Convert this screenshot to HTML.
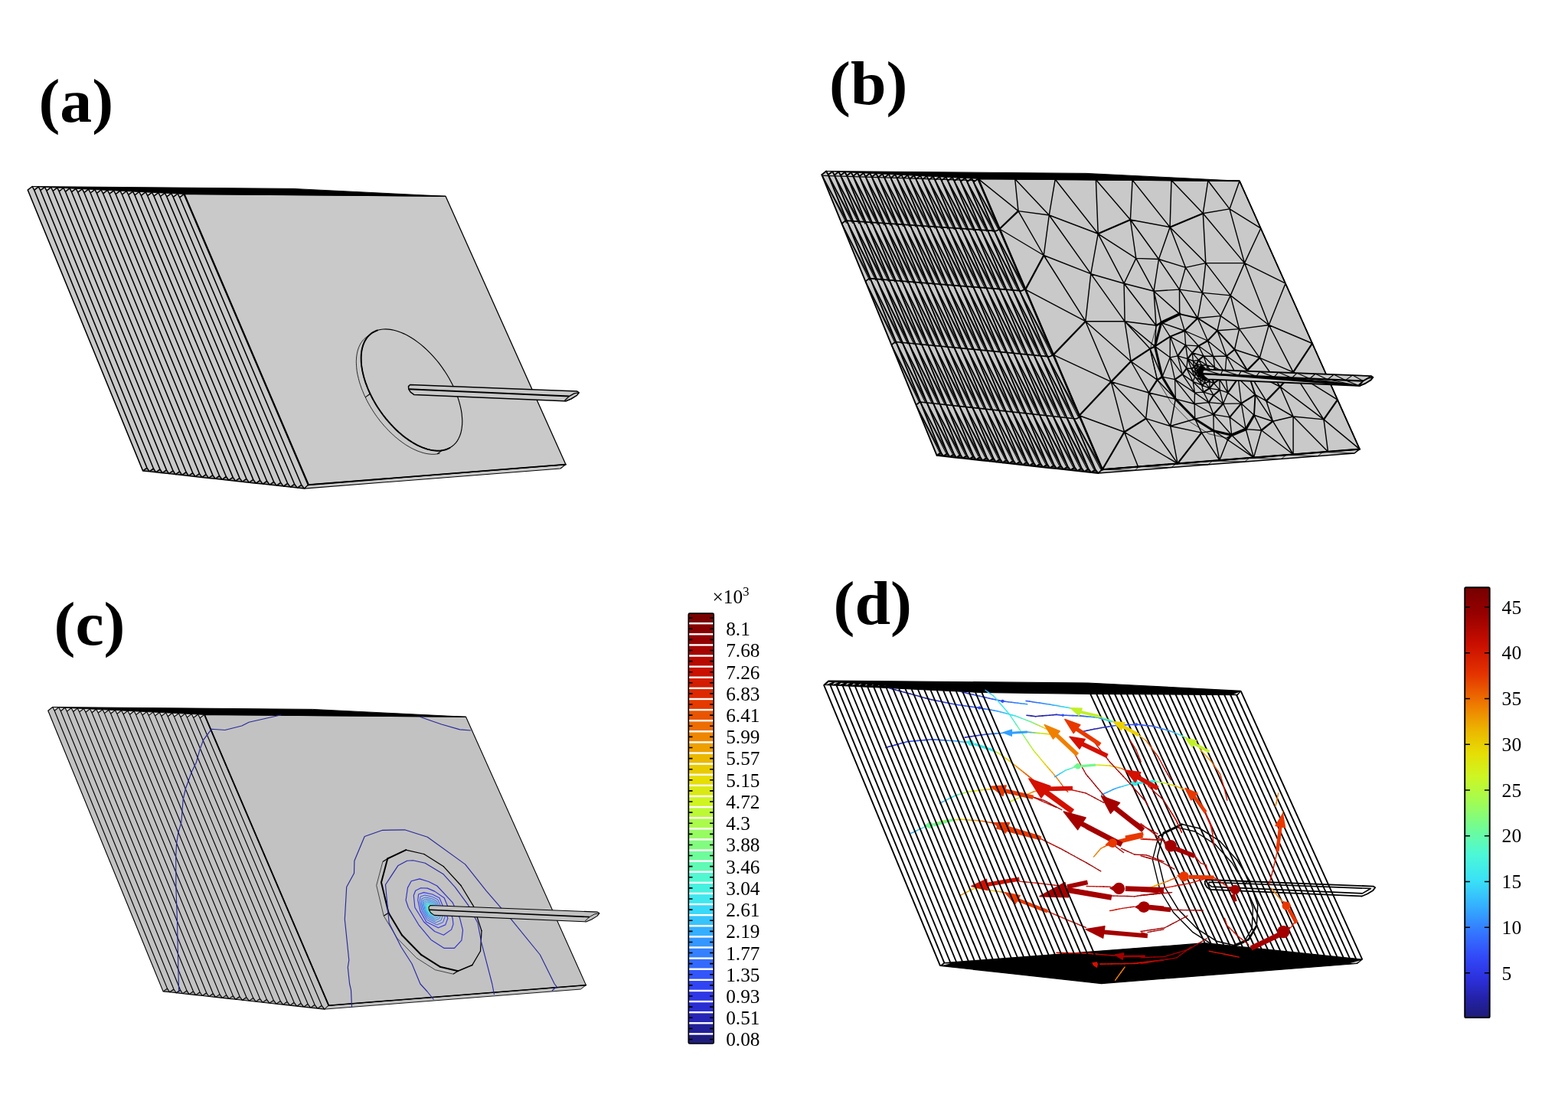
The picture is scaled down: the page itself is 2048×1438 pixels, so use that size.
<!DOCTYPE html>
<html lang="en"><head><meta charset="utf-8"><title>Figure</title>
<style>
html,body{margin:0;padding:0;background:#fff;}
body{width:2048px;height:1438px;overflow:hidden;}
svg{display:block;}
text{fill:#000;}
</style></head><body>
<svg width="2048" height="1438" viewBox="0 0 2048 1438">
<rect width="2048" height="1438" fill="#fff"/>
<g id="pa">
<polygon points="36.3,248.2 42.2,243.5 240.5,253.4 402.8,633.2 397.4,638.1 388.3,637.1 379.2,636.1 370.2,635.1 361.2,634.1 352.2,633.1 343.2,632.1 334.3,631.2 325.4,630.2 316.5,629.2 307.6,628.2 298.8,627.2 290.0,626.3 281.2,625.3 272.5,624.4 263.8,623.4 255.1,622.4 246.4,621.5 237.8,620.5 229.2,619.6 220.6,618.6 212.1,617.7 203.6,616.8 195.1,615.8 186.6,614.9" fill="#c9c9c9"/>
<polygon points="42.2,243.5 44.7,248.3 50.3,243.9" fill="#dcdcdc"/>
<polygon points="50.3,243.9 52.8,248.7 58.4,244.3" fill="#dcdcdc"/>
<polygon points="58.4,244.3 60.9,249.1 66.6,244.7" fill="#dcdcdc"/>
<polygon points="66.6,244.7 69.1,249.5 74.7,245.1" fill="#dcdcdc"/>
<polygon points="74.7,245.1 77.2,249.9 82.9,245.5" fill="#dcdcdc"/>
<polygon points="82.9,245.5 85.4,250.3 91.0,245.9" fill="#dcdcdc"/>
<polygon points="91.0,245.9 93.5,250.7 99.2,246.3" fill="#dcdcdc"/>
<polygon points="99.2,246.3 101.7,251.1 107.4,246.8" fill="#dcdcdc"/>
<polygon points="107.4,246.8 109.9,251.6 115.6,247.2" fill="#dcdcdc"/>
<polygon points="115.6,247.2 118.1,252.0 123.9,247.6" fill="#dcdcdc"/>
<polygon points="123.9,247.6 126.4,252.4 132.1,248.0" fill="#dcdcdc"/>
<polygon points="132.1,248.0 134.6,252.8 140.4,248.4" fill="#dcdcdc"/>
<polygon points="140.4,248.4 142.9,253.2 148.6,248.8" fill="#dcdcdc"/>
<polygon points="148.6,248.8 151.1,253.6 156.9,249.2" fill="#dcdcdc"/>
<polygon points="156.9,249.2 159.4,254.0 165.2,249.6" fill="#dcdcdc"/>
<polygon points="165.2,249.6 167.7,254.4 173.5,250.1" fill="#dcdcdc"/>
<polygon points="173.5,250.1 176.0,254.9 181.8,250.5" fill="#dcdcdc"/>
<polygon points="181.8,250.5 184.3,255.3 190.2,250.9" fill="#dcdcdc"/>
<polygon points="190.2,250.9 192.7,255.7 198.5,251.3" fill="#dcdcdc"/>
<polygon points="198.5,251.3 201.0,256.1 206.9,251.7" fill="#dcdcdc"/>
<polygon points="206.9,251.7 209.4,256.5 215.3,252.1" fill="#dcdcdc"/>
<polygon points="215.3,252.1 217.8,256.9 223.7,252.6" fill="#dcdcdc"/>
<polygon points="223.7,252.6 226.2,257.4 232.1,253.0" fill="#dcdcdc"/>
<polygon points="232.1,253.0 234.6,257.8 240.5,253.4" fill="#dcdcdc"/>
<polygon points="186.6,614.9 192.0,611.1 195.1,615.8" fill="#9a9a9a"/>
<polygon points="195.1,615.8 200.5,612.0 203.6,616.8" fill="#9a9a9a"/>
<polygon points="203.6,616.8 209.0,613.0 212.1,617.7" fill="#9a9a9a"/>
<polygon points="212.1,617.7 217.5,613.9 220.6,618.6" fill="#9a9a9a"/>
<polygon points="220.6,618.6 226.0,614.8 229.2,619.6" fill="#9a9a9a"/>
<polygon points="229.2,619.6 234.6,615.8 237.8,620.5" fill="#9a9a9a"/>
<polygon points="237.8,620.5 243.2,616.7 246.4,621.5" fill="#9a9a9a"/>
<polygon points="246.4,621.5 251.8,617.7 255.1,622.4" fill="#9a9a9a"/>
<polygon points="255.1,622.4 260.5,618.6 263.8,623.4" fill="#9a9a9a"/>
<polygon points="263.8,623.4 269.2,619.6 272.5,624.4" fill="#9a9a9a"/>
<polygon points="272.5,624.4 277.9,620.6 281.2,625.3" fill="#9a9a9a"/>
<polygon points="281.2,625.3 286.6,621.5 290.0,626.3" fill="#9a9a9a"/>
<polygon points="290.0,626.3 295.4,622.5 298.8,627.2" fill="#9a9a9a"/>
<polygon points="298.8,627.2 304.2,623.4 307.6,628.2" fill="#9a9a9a"/>
<polygon points="307.6,628.2 313.0,624.4 316.5,629.2" fill="#9a9a9a"/>
<polygon points="316.5,629.2 321.9,625.4 325.4,630.2" fill="#9a9a9a"/>
<polygon points="325.4,630.2 330.8,626.4 334.3,631.2" fill="#9a9a9a"/>
<polygon points="334.3,631.2 339.7,627.4 343.2,632.1" fill="#9a9a9a"/>
<polygon points="343.2,632.1 348.6,628.3 352.2,633.1" fill="#9a9a9a"/>
<polygon points="352.2,633.1 357.6,629.3 361.2,634.1" fill="#9a9a9a"/>
<polygon points="361.2,634.1 366.6,630.3 370.2,635.1" fill="#9a9a9a"/>
<polygon points="370.2,635.1 375.6,631.3 379.2,636.1" fill="#9a9a9a"/>
<polygon points="379.2,636.1 384.6,632.3 388.3,637.1" fill="#9a9a9a"/>
<polygon points="388.3,637.1 393.7,633.3 397.4,638.1" fill="#9a9a9a"/>
<path d="M36.3,248.2 L186.6,614.9 M36.3,248.2 L42.2,243.5 M186.6,614.9 L192.0,611.1 M186.6,614.9 L195.1,615.8 M42.2,243.5 L44.7,248.3 L192.0,611.1 L195.1,615.8 M44.7,248.3 L50.3,243.9 M195.1,615.8 L200.5,612.0 M195.1,615.8 L203.6,616.8 M50.3,243.9 L52.8,248.7 L200.5,612.0 L203.6,616.8 M52.8,248.7 L58.4,244.3 M203.6,616.8 L209.0,613.0 M203.6,616.8 L212.1,617.7 M58.4,244.3 L60.9,249.1 L209.0,613.0 L212.1,617.7 M60.9,249.1 L66.6,244.7 M212.1,617.7 L217.5,613.9 M212.1,617.7 L220.6,618.6 M66.6,244.7 L69.1,249.5 L217.5,613.9 L220.6,618.6 M69.1,249.5 L74.7,245.1 M220.6,618.6 L226.0,614.8 M220.6,618.6 L229.2,619.6 M74.7,245.1 L77.2,249.9 L226.0,614.8 L229.2,619.6 M77.2,249.9 L82.9,245.5 M229.2,619.6 L234.6,615.8 M229.2,619.6 L237.8,620.5 M82.9,245.5 L85.4,250.3 L234.6,615.8 L237.8,620.5 M85.4,250.3 L91.0,245.9 M237.8,620.5 L243.2,616.7 M237.8,620.5 L246.4,621.5 M91.0,245.9 L93.5,250.7 L243.2,616.7 L246.4,621.5 M93.5,250.7 L99.2,246.3 M246.4,621.5 L251.8,617.7 M246.4,621.5 L255.1,622.4 M99.2,246.3 L101.7,251.1 L251.8,617.7 L255.1,622.4 M101.7,251.1 L107.4,246.8 M255.1,622.4 L260.5,618.6 M255.1,622.4 L263.8,623.4 M107.4,246.8 L109.9,251.6 L260.5,618.6 L263.8,623.4 M109.9,251.6 L115.6,247.2 M263.8,623.4 L269.2,619.6 M263.8,623.4 L272.5,624.4 M115.6,247.2 L118.1,252.0 L269.2,619.6 L272.5,624.4 M118.1,252.0 L123.9,247.6 M272.5,624.4 L277.9,620.6 M272.5,624.4 L281.2,625.3 M123.9,247.6 L126.4,252.4 L277.9,620.6 L281.2,625.3 M126.4,252.4 L132.1,248.0 M281.2,625.3 L286.6,621.5 M281.2,625.3 L290.0,626.3 M132.1,248.0 L134.6,252.8 L286.6,621.5 L290.0,626.3 M134.6,252.8 L140.4,248.4 M290.0,626.3 L295.4,622.5 M290.0,626.3 L298.8,627.2 M140.4,248.4 L142.9,253.2 L295.4,622.5 L298.8,627.2 M142.9,253.2 L148.6,248.8 M298.8,627.2 L304.2,623.4 M298.8,627.2 L307.6,628.2 M148.6,248.8 L151.1,253.6 L304.2,623.4 L307.6,628.2 M151.1,253.6 L156.9,249.2 M307.6,628.2 L313.0,624.4 M307.6,628.2 L316.5,629.2 M156.9,249.2 L159.4,254.0 L313.0,624.4 L316.5,629.2 M159.4,254.0 L165.2,249.6 M316.5,629.2 L321.9,625.4 M316.5,629.2 L325.4,630.2 M165.2,249.6 L167.7,254.4 L321.9,625.4 L325.4,630.2 M167.7,254.4 L173.5,250.1 M325.4,630.2 L330.8,626.4 M325.4,630.2 L334.3,631.2 M173.5,250.1 L176.0,254.9 L330.8,626.4 L334.3,631.2 M176.0,254.9 L181.8,250.5 M334.3,631.2 L339.7,627.4 M334.3,631.2 L343.2,632.1 M181.8,250.5 L184.3,255.3 L339.7,627.4 L343.2,632.1 M184.3,255.3 L190.2,250.9 M343.2,632.1 L348.6,628.3 M343.2,632.1 L352.2,633.1 M190.2,250.9 L192.7,255.7 L348.6,628.3 L352.2,633.1 M192.7,255.7 L198.5,251.3 M352.2,633.1 L357.6,629.3 M352.2,633.1 L361.2,634.1 M198.5,251.3 L201.0,256.1 L357.6,629.3 L361.2,634.1 M201.0,256.1 L206.9,251.7 M361.2,634.1 L366.6,630.3 M361.2,634.1 L370.2,635.1 M206.9,251.7 L209.4,256.5 L366.6,630.3 L370.2,635.1 M209.4,256.5 L215.3,252.1 M370.2,635.1 L375.6,631.3 M370.2,635.1 L379.2,636.1 M215.3,252.1 L217.8,256.9 L375.6,631.3 L379.2,636.1 M217.8,256.9 L223.7,252.6 M379.2,636.1 L384.6,632.3 M379.2,636.1 L388.3,637.1 M223.7,252.6 L226.2,257.4 L384.6,632.3 L388.3,637.1 M226.2,257.4 L232.1,253.0 M388.3,637.1 L393.7,633.3 M388.3,637.1 L397.4,638.1 M232.1,253.0 L234.6,257.8 L393.7,633.3 L397.4,638.1 M234.6,257.8 L240.5,253.4 M397.4,638.1 L402.8,633.2" fill="none" stroke="#000" stroke-width="1.55" stroke-linecap="round" stroke-linejoin="round"/>
<polygon points="402.8,633.2 738.9,606.6 732.0,612.0 397.4,638.1" fill="#c9c9c9" stroke="#000" stroke-width="1.10" stroke-linejoin="round"/>
<polygon points="240.5,253.4 582.0,256.3 738.9,606.6 402.8,633.2" fill="#c9c9c9" stroke="#000" stroke-width="1.30" stroke-linejoin="round"/>
<path d="M240.5,253.4 L402.8,633.2" stroke="#000" stroke-width="2.30" stroke-linecap="round"/>
<path d="M402.8,633.2 L738.9,606.6" stroke="#000" stroke-width="1.90" stroke-linecap="round"/>
<polygon points="42.2,243.5 382.0,246.4 582.0,256.3 240.5,253.4" fill="#000" stroke="#000" stroke-width="0.9" stroke-linejoin="round"/>
<path d="M574.6,592.2 L572.9,592.6 L571.2,592.9 L569.4,593.1 L567.5,593.3 L565.7,593.3 L563.7,593.3 L561.8,593.1 L559.8,592.9 L557.8,592.6 L555.7,592.2 L553.6,591.7 L551.5,591.1 L549.4,590.4 L547.3,589.7 L545.1,588.9 L542.9,587.9 L540.7,586.9 L538.5,585.8 L536.3,584.7 L534.1,583.4 L531.9,582.1 L529.6,580.7 L527.4,579.2 L525.2,577.6 L523.0,576.0 L520.8,574.3 L518.6,572.5 L516.4,570.7 L514.3,568.8 L512.2,566.9 L510.0,564.8 L507.9,562.8 L505.9,560.6 L503.9,558.4 L501.8,556.2 L499.9,553.9 L497.9,551.6 L496.0,549.2 L494.2,546.8 L492.4,544.4 L490.6,541.9 L488.9,539.4 L487.2,536.8 L485.6,534.2 L484.0,531.7 L482.5,529.0 L481.0,526.4 L479.6,523.8 L478.3,521.1 L477.0,518.4 L475.7,515.8 L474.6,513.1 L473.5,510.4 L472.4,507.8 L471.5,505.1 L470.6,502.5 L469.7,499.8 L469.0,497.2 L468.3,494.6 L467.7,492.0 L467.1,489.5 L466.6,487.0 L466.2,484.5 L465.9,482.0 L465.7,479.6 L465.5,477.2 L465.4,474.8 L465.3,472.5 L465.4,470.3 L465.5,468.1 L465.7,465.9 L466.0,463.8 L466.3,461.8 L466.7,459.8 L467.2,457.9 L467.8,456.0 L468.4,454.2 L469.1,452.5 L469.9,450.8 L470.7,449.2 L471.6,447.7 L472.6,446.3 L473.7,444.9 L474.8,443.6 L476.0,442.4 L477.2,441.3 L478.5,440.3 L479.9,439.3 L481.3,438.4 L482.7,437.7 L484.3,436.9 L485.9,436.3 L487.5,435.8 L489.2,435.4 L490.9,435.0 L492.7,434.8" fill="none" stroke="#000" stroke-width="0.8"/>
<path d="M594.4,509.8 L596.5,515.0 L598.3,520.2 L599.9,525.3 L601.2,530.3 L602.3,535.3 L603.1,540.1 L603.5,544.9 L603.8,549.4 L603.7,553.8 L603.3,558.0 L602.7,562.0 L601.8,565.8 L600.6,569.3 L599.1,572.6 L597.4,575.6 L595.4,578.3 L593.2,580.7 L590.7,582.8 L588.0,584.6 L585.1,586.1 L582.0,587.3 L578.7,588.1 L575.2,588.6 L571.6,588.7 L567.8,588.5 L563.9,588.0 L559.9,587.1 L555.8,585.9 L551.6,584.3 L547.3,582.5 L543.0,580.3 L538.7,577.8 L534.4,575.0 L530.1,572.0 L525.8,568.7 L521.6,565.1 L517.4,561.3 L513.4,557.2 L509.4,553.0 L505.5,548.6 L501.8,544.0 L498.3,539.2 L494.9,534.3 L491.7,529.4 L488.7,524.3 L485.9,519.2 L483.3,514.0 L481.0,508.8 L478.9,503.6 L477.1,498.4 L475.5,493.3 L474.2,488.3 L473.1,483.3 L472.3,478.5 L471.9,473.7 L471.6,469.2 L471.7,464.8 L472.1,460.6 L472.7,456.6 L473.6,452.8 L474.8,449.3 L476.3,446.0 L478.0,443.0 L480.0,440.3 L482.2,437.9 L484.7,435.8 L487.4,434.0 L490.3,432.5 L493.4,431.3 L496.7,430.5 L500.2,430.0 L503.8,429.9 L507.6,430.1 L511.5,430.6 L515.5,431.5 L519.6,432.7 L523.8,434.3 L528.1,436.1 L532.4,438.3 L536.7,440.8 L541.0,443.6 L545.3,446.6 L549.6,449.9 L553.8,453.5 L558.0,457.3 L562.0,461.4 L566.0,465.6 L569.9,470.0 L573.6,474.6 L577.1,479.4 L580.5,484.3 L583.7,489.2 L586.7,494.3 L589.5,499.4 L592.1,504.6 Z" fill="#c9c9c9" stroke="#000" stroke-width="1.15"/>
<path d="M587.5,585.0 L586.0,585.7 L584.4,586.4 L582.8,587.0 L581.1,587.5 L579.4,587.9 L577.7,588.3 L575.9,588.5 L574.0,588.6 L572.2,588.7 L570.2,588.7 L568.3,588.5 L566.3,588.3 L564.2,588.0 L562.2,587.6 L560.1,587.1 L558.0,586.6 L555.8,585.9 L553.7,585.1 L551.5,584.3 L549.3,583.4 L547.1,582.4 L544.9,581.3 L542.7,580.1 L540.4,578.8 L538.2,577.5 L536.0,576.1 L533.7,574.6 L531.5,573.0 L529.3,571.4 L527.1,569.7 L524.9,567.9 L522.7,566.1 L520.5,564.2 L518.4,562.2 L516.3,560.2 L514.2,558.1 L512.1,555.9 L510.0,553.7 L508.0,551.5 L506.1,549.2 L504.1,546.8 L502.2,544.4 L500.3,542.0 L498.5,539.5 L496.7,537.0 L495.0,534.5 L493.3,532.0 L491.7,529.4 L490.1,526.8 L488.6,524.1 L487.1,521.5 L485.7,518.8 L484.4,516.2 L483.1,513.5 L481.9,510.8 L480.7,508.1 L479.6,505.4 L478.6,502.7 L477.6,500.1 L476.7,497.4 L475.9,494.8 L475.1,492.1 L474.5,489.5 L473.9,486.9 L473.3,484.4 L472.9,481.8 L472.5,479.3 L472.1,476.9 L471.9,474.4 L471.7,472.0 L471.7,469.7 L471.6,467.4 L471.7,465.1 L471.8,462.9 L472.1,460.8 L472.3,458.7 L472.7,456.6 L473.1,454.7 L473.7,452.7 L474.2,450.9 L474.9,449.1 L475.6,447.4 L476.4,445.7 L477.3,444.2 L478.2,442.7 L479.2,441.2 L480.3,439.9 L481.4,438.6 L482.7,437.5 L483.9,436.4 L485.2,435.3 L486.6,434.4 L488.1,433.6 L489.6,432.8 L491.1,432.1 L492.8,431.5" fill="none" stroke="#000" stroke-width="1.9" stroke-linecap="round"/>
<path d="M483.5,514.3 L477.2,518.9" stroke="#000" stroke-width="1.1"/>
<path d="M577.3,588.3 L571.0,592.9" stroke="#000" stroke-width="1.1"/>
<polygon points="535.7,502.5 753.8,511.1 756.3,512.8 753.5,516.4 746.0,521.0 738.8,524.0 736.7,523.8 540.6,515.4 536.2,512.2 533.8,508.4 533.5,504.6" fill="#c9c9c9" stroke="#000" stroke-width="1.50" stroke-linejoin="round"/>
<path d="M534.3,508.3 L743.4,517.6" stroke="#000" stroke-width="2.00" fill="none"/>
<polyline points="737.5,523.2 743.4,517.6 750.0,513.9 755.6,512.9" stroke="#000" stroke-width="1.30" fill="none" stroke-linejoin="round"/>
</g>
<g id="pb">
<polygon points="1073.3,228.2 1079.2,223.5 1277.5,233.4 1439.8,613.2 1434.4,618.1 1425.3,617.1 1416.2,616.1 1407.2,615.1 1398.2,614.1 1389.2,613.1 1380.2,612.1 1371.3,611.2 1362.4,610.2 1353.5,609.2 1344.6,608.2 1335.8,607.2 1327.0,606.3 1318.2,605.3 1309.5,604.4 1300.8,603.4 1292.1,602.4 1283.4,601.5 1274.8,600.5 1266.2,599.6 1257.6,598.6 1249.1,597.7 1240.6,596.8 1232.1,595.8 1223.6,594.9" fill="#c9c9c9"/>
<polygon points="1079.2,223.5 1081.7,228.3 1087.3,223.9" fill="#dcdcdc"/>
<polygon points="1087.3,223.9 1089.8,228.7 1095.4,224.3" fill="#dcdcdc"/>
<polygon points="1095.4,224.3 1097.9,229.1 1103.6,224.7" fill="#dcdcdc"/>
<polygon points="1103.6,224.7 1106.1,229.5 1111.7,225.1" fill="#dcdcdc"/>
<polygon points="1111.7,225.1 1114.2,229.9 1119.9,225.5" fill="#dcdcdc"/>
<polygon points="1119.9,225.5 1122.4,230.3 1128.0,225.9" fill="#dcdcdc"/>
<polygon points="1128.0,225.9 1130.5,230.7 1136.2,226.3" fill="#dcdcdc"/>
<polygon points="1136.2,226.3 1138.7,231.1 1144.4,226.8" fill="#dcdcdc"/>
<polygon points="1144.4,226.8 1146.9,231.6 1152.6,227.2" fill="#dcdcdc"/>
<polygon points="1152.6,227.2 1155.1,232.0 1160.9,227.6" fill="#dcdcdc"/>
<polygon points="1160.9,227.6 1163.4,232.4 1169.1,228.0" fill="#dcdcdc"/>
<polygon points="1169.1,228.0 1171.6,232.8 1177.4,228.4" fill="#dcdcdc"/>
<polygon points="1177.4,228.4 1179.9,233.2 1185.6,228.8" fill="#dcdcdc"/>
<polygon points="1185.6,228.8 1188.1,233.6 1193.9,229.2" fill="#dcdcdc"/>
<polygon points="1193.9,229.2 1196.4,234.0 1202.2,229.6" fill="#dcdcdc"/>
<polygon points="1202.2,229.6 1204.7,234.4 1210.5,230.1" fill="#dcdcdc"/>
<polygon points="1210.5,230.1 1213.0,234.9 1218.8,230.5" fill="#dcdcdc"/>
<polygon points="1218.8,230.5 1221.3,235.3 1227.2,230.9" fill="#dcdcdc"/>
<polygon points="1227.2,230.9 1229.7,235.7 1235.5,231.3" fill="#dcdcdc"/>
<polygon points="1235.5,231.3 1238.0,236.1 1243.9,231.7" fill="#dcdcdc"/>
<polygon points="1243.9,231.7 1246.4,236.5 1252.3,232.1" fill="#dcdcdc"/>
<polygon points="1252.3,232.1 1254.8,236.9 1260.7,232.6" fill="#dcdcdc"/>
<polygon points="1260.7,232.6 1263.2,237.4 1269.1,233.0" fill="#dcdcdc"/>
<polygon points="1269.1,233.0 1271.6,237.8 1277.5,233.4" fill="#dcdcdc"/>
<polygon points="1223.6,594.9 1229.0,591.1 1232.1,595.8" fill="#3a3a3a"/>
<polygon points="1232.1,595.8 1237.5,592.0 1240.6,596.8" fill="#3a3a3a"/>
<polygon points="1240.6,596.8 1246.0,593.0 1249.1,597.7" fill="#3a3a3a"/>
<polygon points="1249.1,597.7 1254.5,593.9 1257.6,598.6" fill="#3a3a3a"/>
<polygon points="1257.6,598.6 1263.0,594.8 1266.2,599.6" fill="#3a3a3a"/>
<polygon points="1266.2,599.6 1271.6,595.8 1274.8,600.5" fill="#3a3a3a"/>
<polygon points="1274.8,600.5 1280.2,596.7 1283.4,601.5" fill="#3a3a3a"/>
<polygon points="1283.4,601.5 1288.8,597.7 1292.1,602.4" fill="#3a3a3a"/>
<polygon points="1292.1,602.4 1297.5,598.6 1300.8,603.4" fill="#3a3a3a"/>
<polygon points="1300.8,603.4 1306.2,599.6 1309.5,604.4" fill="#3a3a3a"/>
<polygon points="1309.5,604.4 1314.9,600.6 1318.2,605.3" fill="#3a3a3a"/>
<polygon points="1318.2,605.3 1323.6,601.5 1327.0,606.3" fill="#3a3a3a"/>
<polygon points="1327.0,606.3 1332.4,602.5 1335.8,607.2" fill="#3a3a3a"/>
<polygon points="1335.8,607.2 1341.2,603.4 1344.6,608.2" fill="#3a3a3a"/>
<polygon points="1344.6,608.2 1350.0,604.4 1353.5,609.2" fill="#3a3a3a"/>
<polygon points="1353.5,609.2 1358.9,605.4 1362.4,610.2" fill="#3a3a3a"/>
<polygon points="1362.4,610.2 1367.8,606.4 1371.3,611.2" fill="#3a3a3a"/>
<polygon points="1371.3,611.2 1376.7,607.4 1380.2,612.1" fill="#3a3a3a"/>
<polygon points="1380.2,612.1 1385.6,608.3 1389.2,613.1" fill="#3a3a3a"/>
<polygon points="1389.2,613.1 1394.6,609.3 1398.2,614.1" fill="#3a3a3a"/>
<polygon points="1398.2,614.1 1403.6,610.3 1407.2,615.1" fill="#3a3a3a"/>
<polygon points="1407.2,615.1 1412.6,611.3 1416.2,616.1" fill="#3a3a3a"/>
<polygon points="1416.2,616.1 1421.6,612.3 1425.3,617.1" fill="#3a3a3a"/>
<polygon points="1425.3,617.1 1430.7,613.3 1434.4,618.1" fill="#3a3a3a"/>
<path d="M1073.3,228.2 L1223.6,594.9 M1073.3,228.2 L1079.2,223.5 M1223.6,594.9 L1229.0,591.1 M1223.6,594.9 L1232.1,595.8 M1079.2,223.5 L1081.7,228.3 L1229.0,591.1 L1232.1,595.8 M1081.7,228.3 L1087.3,223.9 M1232.1,595.8 L1237.5,592.0 M1232.1,595.8 L1240.6,596.8 M1087.3,223.9 L1089.8,228.7 L1237.5,592.0 L1240.6,596.8 M1089.8,228.7 L1095.4,224.3 M1240.6,596.8 L1246.0,593.0 M1240.6,596.8 L1249.1,597.7 M1095.4,224.3 L1097.9,229.1 L1246.0,593.0 L1249.1,597.7 M1097.9,229.1 L1103.6,224.7 M1249.1,597.7 L1254.5,593.9 M1249.1,597.7 L1257.6,598.6 M1103.6,224.7 L1106.1,229.5 L1254.5,593.9 L1257.6,598.6 M1106.1,229.5 L1111.7,225.1 M1257.6,598.6 L1263.0,594.8 M1257.6,598.6 L1266.2,599.6 M1111.7,225.1 L1114.2,229.9 L1263.0,594.8 L1266.2,599.6 M1114.2,229.9 L1119.9,225.5 M1266.2,599.6 L1271.6,595.8 M1266.2,599.6 L1274.8,600.5 M1119.9,225.5 L1122.4,230.3 L1271.6,595.8 L1274.8,600.5 M1122.4,230.3 L1128.0,225.9 M1274.8,600.5 L1280.2,596.7 M1274.8,600.5 L1283.4,601.5 M1128.0,225.9 L1130.5,230.7 L1280.2,596.7 L1283.4,601.5 M1130.5,230.7 L1136.2,226.3 M1283.4,601.5 L1288.8,597.7 M1283.4,601.5 L1292.1,602.4 M1136.2,226.3 L1138.7,231.1 L1288.8,597.7 L1292.1,602.4 M1138.7,231.1 L1144.4,226.8 M1292.1,602.4 L1297.5,598.6 M1292.1,602.4 L1300.8,603.4 M1144.4,226.8 L1146.9,231.6 L1297.5,598.6 L1300.8,603.4 M1146.9,231.6 L1152.6,227.2 M1300.8,603.4 L1306.2,599.6 M1300.8,603.4 L1309.5,604.4 M1152.6,227.2 L1155.1,232.0 L1306.2,599.6 L1309.5,604.4 M1155.1,232.0 L1160.9,227.6 M1309.5,604.4 L1314.9,600.6 M1309.5,604.4 L1318.2,605.3 M1160.9,227.6 L1163.4,232.4 L1314.9,600.6 L1318.2,605.3 M1163.4,232.4 L1169.1,228.0 M1318.2,605.3 L1323.6,601.5 M1318.2,605.3 L1327.0,606.3 M1169.1,228.0 L1171.6,232.8 L1323.6,601.5 L1327.0,606.3 M1171.6,232.8 L1177.4,228.4 M1327.0,606.3 L1332.4,602.5 M1327.0,606.3 L1335.8,607.2 M1177.4,228.4 L1179.9,233.2 L1332.4,602.5 L1335.8,607.2 M1179.9,233.2 L1185.6,228.8 M1335.8,607.2 L1341.2,603.4 M1335.8,607.2 L1344.6,608.2 M1185.6,228.8 L1188.1,233.6 L1341.2,603.4 L1344.6,608.2 M1188.1,233.6 L1193.9,229.2 M1344.6,608.2 L1350.0,604.4 M1344.6,608.2 L1353.5,609.2 M1193.9,229.2 L1196.4,234.0 L1350.0,604.4 L1353.5,609.2 M1196.4,234.0 L1202.2,229.6 M1353.5,609.2 L1358.9,605.4 M1353.5,609.2 L1362.4,610.2 M1202.2,229.6 L1204.7,234.4 L1358.9,605.4 L1362.4,610.2 M1204.7,234.4 L1210.5,230.1 M1362.4,610.2 L1367.8,606.4 M1362.4,610.2 L1371.3,611.2 M1210.5,230.1 L1213.0,234.9 L1367.8,606.4 L1371.3,611.2 M1213.0,234.9 L1218.8,230.5 M1371.3,611.2 L1376.7,607.4 M1371.3,611.2 L1380.2,612.1 M1218.8,230.5 L1221.3,235.3 L1376.7,607.4 L1380.2,612.1 M1221.3,235.3 L1227.2,230.9 M1380.2,612.1 L1385.6,608.3 M1380.2,612.1 L1389.2,613.1 M1227.2,230.9 L1229.7,235.7 L1385.6,608.3 L1389.2,613.1 M1229.7,235.7 L1235.5,231.3 M1389.2,613.1 L1394.6,609.3 M1389.2,613.1 L1398.2,614.1 M1235.5,231.3 L1238.0,236.1 L1394.6,609.3 L1398.2,614.1 M1238.0,236.1 L1243.9,231.7 M1398.2,614.1 L1403.6,610.3 M1398.2,614.1 L1407.2,615.1 M1243.9,231.7 L1246.4,236.5 L1403.6,610.3 L1407.2,615.1 M1246.4,236.5 L1252.3,232.1 M1407.2,615.1 L1412.6,611.3 M1407.2,615.1 L1416.2,616.1 M1252.3,232.1 L1254.8,236.9 L1412.6,611.3 L1416.2,616.1 M1254.8,236.9 L1260.7,232.6 M1416.2,616.1 L1421.6,612.3 M1416.2,616.1 L1425.3,617.1 M1260.7,232.6 L1263.2,237.4 L1421.6,612.3 L1425.3,617.1 M1263.2,237.4 L1269.1,233.0 M1425.3,617.1 L1430.7,613.3 M1425.3,617.1 L1434.4,618.1 M1269.1,233.0 L1271.6,237.8 L1430.7,613.3 L1434.4,618.1 M1271.6,237.8 L1277.5,233.4 M1434.4,618.1 L1439.8,613.2" fill="none" stroke="#000" stroke-width="1.90" stroke-linecap="round" stroke-linejoin="round"/>
<path d="M1073.3,228.2 L1107.3,291.4 M1099.5,292.0 L1137.7,366.2 M1130.4,367.5 L1171.0,448.2 M1164.4,450.4 L1202.5,525.8 M1196.5,528.9 L1229.0,591.1 M1081.7,228.3 L1115.5,291.9 M1107.3,291.4 L1145.9,366.8 M1137.7,366.2 L1179.3,448.9 M1171.0,448.2 L1210.9,526.6 M1202.5,525.8 L1237.5,592.0 M1089.8,228.7 L1123.7,292.4 M1115.5,291.9 L1154.2,367.4 M1145.9,366.8 L1187.6,449.6 M1179.3,448.9 L1219.3,527.5 M1210.9,526.6 L1246.0,593.0 M1097.9,229.1 L1131.9,292.9 M1123.7,292.4 L1162.5,368.0 M1154.2,367.4 L1196.0,450.3 M1187.6,449.6 L1227.8,528.3 M1219.3,527.5 L1254.5,593.9 M1106.1,229.5 L1140.1,293.4 M1131.9,292.9 L1170.8,368.6 M1162.5,368.0 L1204.4,451.1 M1196.0,450.3 L1236.2,529.2 M1227.8,528.3 L1263.0,594.8 M1114.2,229.9 L1148.3,293.9 M1140.1,293.4 L1179.1,369.2 M1170.8,368.6 L1212.8,451.8 M1204.4,451.1 L1244.7,530.0 M1236.2,529.2 L1271.6,595.8 M1122.4,230.3 L1156.6,294.4 M1148.3,293.9 L1187.4,369.8 M1179.1,369.2 L1221.2,452.5 M1212.8,451.8 L1253.3,530.9 M1244.7,530.0 L1280.2,596.7 M1130.5,230.7 L1164.8,294.9 M1156.6,294.4 L1195.8,370.4 M1187.4,369.8 L1229.7,453.3 M1221.2,452.5 L1261.8,531.7 M1253.3,530.9 L1288.8,597.7 M1138.7,231.1 L1173.1,295.4 M1164.8,294.9 L1204.1,371.0 M1195.8,370.4 L1238.2,454.0 M1229.7,453.3 L1270.4,532.6 M1261.8,531.7 L1297.5,598.6 M1146.9,231.6 L1181.4,295.9 M1173.1,295.4 L1212.5,371.7 M1204.1,371.0 L1246.7,454.7 M1238.2,454.0 L1279.0,533.4 M1270.4,532.6 L1306.2,599.6 M1155.1,232.0 L1189.7,296.4 M1181.4,295.9 L1220.9,372.3 M1212.5,371.7 L1255.2,455.5 M1246.7,454.7 L1287.6,534.3 M1279.0,533.4 L1314.9,600.6 M1163.4,232.4 L1198.1,296.9 M1189.7,296.4 L1229.4,372.9 M1220.9,372.3 L1263.7,456.2 M1255.2,455.5 L1296.3,535.1 M1287.6,534.3 L1323.6,601.5 M1171.6,232.8 L1206.4,297.5 M1198.1,296.9 L1237.8,373.5 M1229.4,372.9 L1272.3,457.0 M1263.7,456.2 L1304.9,536.0 M1296.3,535.1 L1332.4,602.5 M1179.9,233.2 L1214.8,298.0 M1206.4,297.5 L1246.3,374.2 M1237.8,373.5 L1280.9,457.7 M1272.3,457.0 L1313.6,536.9 M1304.9,536.0 L1341.2,603.4 M1188.1,233.6 L1223.1,298.5 M1214.8,298.0 L1254.8,374.8 M1246.3,374.2 L1289.5,458.5 M1280.9,457.7 L1322.4,537.7 M1313.6,536.9 L1350.0,604.4 M1196.4,234.0 L1231.5,299.0 M1223.1,298.5 L1263.3,375.4 M1254.8,374.8 L1298.1,459.2 M1289.5,458.5 L1331.1,538.6 M1322.4,537.7 L1358.9,605.4 M1204.7,234.4 L1239.9,299.5 M1231.5,299.0 L1271.8,376.0 M1263.3,375.4 L1306.8,460.0 M1298.1,459.2 L1339.9,539.5 M1331.1,538.6 L1367.8,606.4 M1213.0,234.9 L1248.4,300.0 M1239.9,299.5 L1280.4,376.7 M1271.8,376.0 L1315.5,460.8 M1306.8,460.0 L1348.7,540.4 M1339.9,539.5 L1376.7,607.4 M1221.3,235.3 L1256.8,300.5 M1248.4,300.0 L1288.9,377.3 M1280.4,376.7 L1324.2,461.5 M1315.5,460.8 L1357.5,541.3 M1348.7,540.4 L1385.6,608.3 M1229.7,235.7 L1265.3,301.0 M1256.8,300.5 L1297.5,377.9 M1288.9,377.3 L1332.9,462.3 M1324.2,461.5 L1366.4,542.1 M1357.5,541.3 L1394.6,609.3 M1238.0,236.1 L1273.7,301.6 M1265.3,301.0 L1306.1,378.6 M1297.5,377.9 L1341.6,463.0 M1332.9,462.3 L1375.3,543.0 M1366.4,542.1 L1403.6,610.3 M1246.4,236.5 L1282.2,302.1 M1273.7,301.6 L1314.7,379.2 M1306.1,378.6 L1350.4,463.8 M1341.6,463.0 L1384.2,543.9 M1375.3,543.0 L1412.6,611.3 M1254.8,236.9 L1290.7,302.6 M1282.2,302.1 L1323.4,379.8 M1314.7,379.2 L1359.2,464.6 M1350.4,463.8 L1393.1,544.8 M1384.2,543.9 L1421.6,612.3 M1263.2,237.4 L1299.3,303.1 M1290.7,302.6 L1332.0,380.5 M1323.4,379.8 L1368.0,465.3 M1359.2,464.6 L1402.1,545.7 M1393.1,544.8 L1430.7,613.3 M1271.6,237.8 L1305.7,299.5 M1299.3,303.1 L1339.2,377.7 M1332.0,380.5 L1375.9,463.6 M1368.0,465.3 L1410.6,544.8 M1402.1,545.7 L1439.8,613.2" fill="none" stroke="#000" stroke-width="1.35"/>
<path d="M1073.3,228.2 L1105.6,291.6 M1099.5,292.0 L1136.1,366.5 M1130.4,367.5 L1169.5,448.7 M1164.4,450.4 L1201.2,526.5 M1196.5,528.9 L1227.8,591.9 M1081.7,228.3 L1113.7,291.8 M1107.3,291.4 L1144.1,366.6 M1137.7,366.2 L1177.5,448.7 M1171.0,448.2 L1209.0,526.4 M1202.5,525.8 L1235.6,591.8 M1089.8,228.7 L1121.9,292.3 M1115.5,291.9 L1152.4,367.2 M1145.9,366.8 L1185.8,449.4 M1179.3,448.9 L1217.5,527.3 M1210.9,526.6 L1244.1,592.8 M1097.9,229.1 L1130.1,292.8 M1123.7,292.4 L1160.6,367.8 M1154.2,367.4 L1194.2,450.2 M1187.6,449.6 L1225.9,528.1 M1219.3,527.5 L1252.6,593.7 M1106.1,229.5 L1138.3,293.3 M1131.9,292.9 L1168.9,368.5 M1162.5,368.0 L1202.5,450.9 M1196.0,450.3 L1234.4,529.0 M1227.8,528.3 L1261.1,594.6 M1114.2,229.9 L1146.5,293.8 M1140.1,293.4 L1177.2,369.1 M1170.8,368.6 L1210.9,451.6 M1204.4,451.1 L1242.9,529.8 M1236.2,529.2 L1269.7,595.6 M1122.4,230.3 L1154.8,294.3 M1148.3,293.9 L1185.6,369.7 M1179.1,369.2 L1219.4,452.4 M1212.8,451.8 L1251.4,530.7 M1244.7,530.0 L1278.3,596.5 M1130.5,230.7 L1163.0,294.8 M1156.6,294.4 L1193.9,370.3 M1187.4,369.8 L1227.8,453.1 M1221.2,452.5 L1259.9,531.5 M1253.3,530.9 L1286.9,597.5 M1138.7,231.1 L1171.3,295.3 M1164.8,294.9 L1202.3,370.9 M1195.8,370.4 L1236.3,453.8 M1229.7,453.3 L1268.5,532.4 M1261.8,531.7 L1295.6,598.4 M1146.9,231.6 L1179.6,295.8 M1173.1,295.4 L1210.7,371.5 M1204.1,371.0 L1244.8,454.6 M1238.2,454.0 L1277.1,533.2 M1270.4,532.6 L1304.3,599.4 M1155.1,232.0 L1187.9,296.3 M1181.4,295.9 L1219.1,372.1 M1212.5,371.7 L1253.3,455.3 M1246.7,454.7 L1285.7,534.1 M1279.0,533.4 L1313.0,600.3 M1163.4,232.4 L1196.2,296.8 M1189.7,296.4 L1227.5,372.8 M1220.9,372.3 L1261.9,456.1 M1255.2,455.5 L1294.4,535.0 M1287.6,534.3 L1321.7,601.3 M1171.6,232.8 L1204.6,297.3 M1198.1,296.9 L1236.0,373.4 M1229.4,372.9 L1270.4,456.8 M1263.7,456.2 L1303.0,535.8 M1296.3,535.1 L1330.5,602.3 M1179.9,233.2 L1212.9,297.9 M1206.4,297.5 L1244.4,374.0 M1237.8,373.5 L1279.0,457.6 M1272.3,457.0 L1311.7,536.7 M1304.9,536.0 L1339.3,603.2 M1188.1,233.6 L1221.3,298.4 M1214.8,298.0 L1252.9,374.6 M1246.3,374.2 L1287.6,458.3 M1280.9,457.7 L1320.5,537.6 M1313.6,536.9 L1348.1,604.2 M1196.4,234.0 L1229.7,298.9 M1223.1,298.5 L1261.4,375.3 M1254.8,374.8 L1296.2,459.1 M1289.5,458.5 L1329.2,538.4 M1322.4,537.7 L1356.9,605.2 M1204.7,234.4 L1238.1,299.4 M1231.5,299.0 L1269.9,375.9 M1263.3,375.4 L1304.9,459.8 M1298.1,459.2 L1338.0,539.3 M1331.1,538.6 L1365.8,606.2 M1213.0,234.9 L1246.5,299.9 M1239.9,299.5 L1278.5,376.5 M1271.8,376.0 L1313.6,460.6 M1306.8,460.0 L1346.8,540.2 M1339.9,539.5 L1374.7,607.1 M1221.3,235.3 L1255.0,300.4 M1248.4,300.0 L1287.0,377.2 M1280.4,376.7 L1322.3,461.3 M1315.5,460.8 L1355.6,541.1 M1348.7,540.4 L1383.6,608.1 M1229.7,235.7 L1263.4,300.9 M1256.8,300.5 L1295.6,377.8 M1288.9,377.3 L1331.0,462.1 M1324.2,461.5 L1364.4,541.9 M1357.5,541.3 L1392.6,609.1 M1238.0,236.1 L1271.9,301.4 M1265.3,301.0 L1304.2,378.4 M1297.5,377.9 L1339.7,462.9 M1332.9,462.3 L1373.3,542.8 M1366.4,542.1 L1401.6,610.1 M1246.4,236.5 L1280.4,302.0 M1273.7,301.6 L1312.8,379.1 M1306.1,378.6 L1348.5,463.6 M1341.6,463.0 L1382.2,543.7 M1375.3,543.0 L1410.6,611.1 M1254.8,236.9 L1288.9,302.5 M1282.2,302.1 L1321.5,379.7 M1314.7,379.2 L1357.3,464.4 M1350.4,463.8 L1391.1,544.6 M1384.2,543.9 L1419.6,612.1 M1263.2,237.4 L1297.4,303.0 M1290.7,302.6 L1330.1,380.3 M1323.4,379.8 L1366.1,465.2 M1359.2,464.6 L1400.1,545.5 M1393.1,544.8 L1428.7,613.1 M1271.6,237.8 L1304.3,300.3 M1299.3,303.1 L1337.6,378.3 M1332.0,380.5 L1374.1,464.0 M1368.0,465.3 L1408.7,545.0 M1402.1,545.7 L1437.8,613.2" fill="none" stroke="#000" stroke-width="1.1"/>
<path d="M1099.5,292.0 L1104.5,288.1 L1300.7,301.7 L1305.7,299.5 M1130.4,367.5 L1135.4,363.6 L1334.2,379.9 L1339.2,377.7 M1164.4,450.4 L1169.4,446.5 L1370.9,465.8 L1375.9,463.6 M1196.5,528.9 L1201.5,525.0 L1405.6,547.0 L1410.6,544.8" fill="none" stroke="#000" stroke-width="1.7" stroke-linejoin="round"/>
<path d="M1074.8,229.4 L1273.0,235.6" stroke="#000" stroke-width="1.3"/>
<polygon points="1439.8,613.2 1775.9,586.6 1769.0,592.0 1434.4,618.1" fill="#c9c9c9" stroke="#000" stroke-width="1.50" stroke-linejoin="round"/>
<polygon points="1277.5,233.4 1619.0,236.3 1775.9,586.6 1439.8,613.2" fill="#c9c9c9" stroke="#000" stroke-width="1.70" stroke-linejoin="round"/>
<path d="M1277.5,233.4 L1439.8,613.2" stroke="#000" stroke-width="2.60" stroke-linecap="round"/>
<path d="M1439.8,613.2 L1775.9,586.6" stroke="#000" stroke-width="2.10" stroke-linecap="round"/>
<path d="M1528.7,556.5 L1569.4,565.1 M1662.5,550.2 L1639.5,515.7 M1370.3,281.0 L1424.8,357.7 M1607.2,385.9 L1657.3,424.5 M1469.1,419.8 L1510.0,425.0 M1511.5,496.2 L1535.4,521.2 M1538.1,605.4 L1528.7,556.5 M1439.8,613.2 L1409.7,542.7 M1530.0,235.5 L1577.8,236.0 M1468.1,370.2 L1469.1,419.8 M1540.5,378.1 L1570.5,382.4 M1477.1,472.0 L1511.5,496.2 M1625.5,343.6 L1607.2,385.9 M1540.5,378.1 L1564.3,415.5 M1476.4,287.0 L1513.5,338.5 M1637.5,597.6 L1647.6,562.0 M1734.5,589.9 L1689.1,544.0 M1570.5,382.4 L1607.2,385.9 M1486.5,609.5 L1538.1,605.4 M1434.2,305.3 L1424.8,357.7 M1483.8,337.4 L1468.1,370.2 M1689.1,544.0 L1729.0,547.9 M1528.7,556.5 L1560.8,547.2 M1507.0,380.2 L1516.7,421.5 M1479.1,235.1 L1528.1,296.7 M1646.7,298.2 L1679.0,370.2 M1672.0,505.0 L1629.0,483.6 M1594.4,412.6 L1564.3,415.5 M1569.4,565.1 L1560.8,547.2 M1679.0,370.2 L1714.0,448.5 M1734.5,589.9 L1729.0,547.9 M1618.6,429.6 L1657.3,424.5 M1637.5,597.6 L1608.7,568.2 M1647.6,562.0 L1638.0,542.3 M1469.1,419.8 L1477.1,472.0 M1468.1,370.2 L1507.0,380.2 M1571.3,278.7 L1574.8,343.6 M1325.7,233.8 L1370.3,281.0 M1657.3,424.5 L1645.3,467.3 M1574.8,343.6 L1570.5,382.4 M1714.0,448.5 L1747.0,522.1 M1305.5,299.0 L1363.3,333.5 M1375.8,463.4 L1409.7,542.7 M1431.4,234.7 L1476.4,287.0 M1653.9,523.6 L1662.5,550.2 M1689.1,593.5 L1734.5,589.9 M1510.0,425.0 L1508.5,452.4 M1653.9,523.6 L1629.0,483.6 M1679.0,370.2 L1657.3,424.5 M1378.2,234.3 L1370.3,281.0 M1502.1,455.6 L1518.0,492.2 M1646.7,298.2 L1625.5,343.6 M1619.0,236.3 L1606.0,272.9 M1592.9,601.1 L1603.5,574.5 M1689.1,593.5 L1662.5,550.2 M1689.1,486.1 L1729.0,547.9 M1607.2,385.9 L1618.6,429.6 M1370.3,281.0 L1363.3,333.5 M1538.1,605.4 L1496.7,546.6 M1618.6,429.6 L1612.5,456.5 M1451.3,498.6 L1500.6,513.0 M1594.4,412.6 L1618.6,429.6 M1477.1,472.0 L1500.6,513.0 M1646.7,298.2 L1606.0,272.9 M1500.6,513.0 L1535.4,521.2 M1538.1,605.4 L1592.9,601.1 M1513.5,338.5 L1507.0,380.2 M1619.0,236.3 L1646.7,298.2 M1476.4,287.0 L1483.8,337.4 M1530.0,235.5 L1571.3,278.7 M1330.0,275.6 L1370.3,281.0 M1662.5,550.2 L1638.0,542.3 M1689.1,593.5 L1647.6,562.0 M1339.3,378.1 L1417.8,419.7 M1592.9,601.1 L1585.2,562.7 M1747.0,522.1 L1689.1,486.1 M1592.9,601.1 L1637.5,597.6 M1451.3,498.6 L1496.7,546.6 M1538.1,605.4 L1468.5,564.3 M1468.1,370.2 L1510.0,425.0 M1528.1,296.7 L1513.5,338.5 M1577.8,236.0 L1606.0,272.9 M1370.3,281.0 L1434.2,305.3 M1424.8,357.7 L1417.8,419.7 M1570.5,382.4 L1594.4,412.6 M1451.3,498.6 L1468.5,564.3 M1637.5,597.6 L1689.1,593.5 M1500.6,513.0 L1528.7,556.5 M1363.3,333.5 L1424.8,357.7 M1325.7,233.8 L1330.0,275.6 M1619.0,236.3 L1577.8,236.0 M1775.9,586.6 L1729.0,547.9 M1476.4,287.0 L1528.1,296.7 M1603.5,574.5 L1585.2,562.7 M1496.7,546.6 L1528.7,556.5 M1775.9,586.6 L1747.0,522.1 M1528.1,296.7 L1574.8,343.6 M1625.5,343.6 L1657.3,424.5 M1618.6,429.6 L1645.3,467.3 M1431.4,234.7 L1434.2,305.3 M1653.9,523.6 L1689.1,544.0 M1378.2,234.3 L1431.4,234.7 M1548.5,349.4 L1570.5,382.4 M1434.2,305.3 L1468.1,370.2 M1439.8,613.2 L1486.5,609.5 M1571.3,278.7 L1625.5,343.6 M1277.5,233.4 L1325.7,233.8 M1469.1,419.8 L1508.5,452.4 M1574.8,343.6 L1607.2,385.9 M1375.8,463.4 L1451.3,498.6 M1540.5,378.1 L1540.7,410.1 M1689.1,593.5 L1689.1,544.0 M1424.8,357.7 L1468.1,370.2 M1502.1,455.6 L1511.5,496.2 M1571.3,278.7 L1606.0,272.9 M1645.3,467.3 L1672.0,505.0 M1479.1,235.1 L1476.4,287.0 M1689.1,544.0 L1662.5,550.2 M1653.9,523.6 L1639.5,515.7 M1570.5,382.4 L1564.3,415.5 M1714.0,448.5 L1657.3,424.5 M1530.0,235.5 L1528.1,296.7 M1277.5,233.4 L1330.0,275.6 M1569.4,565.1 L1585.2,562.7 M1592.9,601.1 L1569.4,565.1 M1606.0,272.9 L1625.5,343.6 M1637.5,597.6 L1603.5,574.5 M1645.3,467.3 L1689.1,486.1 M1637.5,597.6 L1627.2,560.6 M1483.8,337.4 L1507.0,380.2 M1548.5,349.4 L1574.8,343.6 M1434.2,305.3 L1483.8,337.4 M1417.8,419.7 L1477.1,472.0 M1528.7,556.5 L1535.4,521.2 M1507.0,380.2 L1510.0,425.0 M1486.5,609.5 L1468.5,564.3 M1513.5,338.5 L1540.5,378.1 M1574.8,343.6 L1625.5,343.6 M1594.4,412.6 L1590.0,431.8 M1577.8,236.0 L1571.3,278.7 M1775.9,586.6 L1734.5,589.9 M1325.7,233.8 L1378.2,234.3 M1647.6,562.0 L1627.2,560.6 M1500.6,513.0 L1496.7,546.6 M1417.8,419.7 L1451.3,498.6 M1469.1,419.8 L1502.1,455.6 M1689.1,544.0 L1672.0,505.0 M1645.3,467.3 L1612.5,456.5 M1409.7,542.7 L1468.5,564.3 M1305.5,299.0 L1339.3,378.1 M1277.5,233.4 L1305.5,299.0 M1363.3,333.5 L1417.8,419.7 M1657.3,424.5 L1689.1,486.1 M1528.1,296.7 L1548.5,349.4 M1729.0,547.9 L1672.0,505.0 M1431.4,234.7 L1479.1,235.1 M1483.8,337.4 L1513.5,338.5 M1330.0,275.6 L1363.3,333.5 M1424.8,357.7 L1469.1,419.8 M1417.8,419.7 L1469.1,419.8 M1607.2,385.9 L1594.4,412.6 M1548.5,349.4 L1540.5,378.1 M1679.0,370.2 L1625.5,343.6 M1618.6,429.6 L1590.0,431.8 M1507.0,380.2 L1540.5,378.1 M1513.5,338.5 L1548.5,349.4 M1339.3,378.1 L1375.8,463.4 M1378.2,234.3 L1434.2,305.3 M1507.0,380.2 L1540.7,410.1 M1479.1,235.1 L1530.0,235.5" fill="none" stroke="#000" stroke-width="1.45" stroke-linecap="round"/>
<path d="M1375.8,463.4 L1417.8,419.7 M1689.1,486.1 L1672.0,505.0 M1538.1,605.4 L1569.4,565.1 M1409.7,542.7 L1451.3,498.6 M1477.1,472.0 L1502.1,455.6 M1305.5,299.0 L1330.0,275.6 M1662.5,550.2 L1647.6,562.0 M1511.5,496.2 L1518.0,492.2 M1500.6,513.0 L1511.5,496.2 M1653.9,523.6 L1672.0,505.0 M1434.2,305.3 L1476.4,287.0 M1645.3,467.3 L1629.0,483.6 M1528.1,296.7 L1571.3,278.7 M1339.3,378.1 L1363.3,333.5 M1502.1,455.6 L1508.5,452.4 M1714.0,448.5 L1689.1,486.1 M1747.0,522.1 L1729.0,547.9 M1603.5,574.5 L1608.7,568.2 M1510.0,425.0 L1516.7,421.5 M1477.1,472.0 L1451.3,498.6 M1496.7,546.6 L1468.5,564.3 M1439.8,613.2 L1468.5,564.3" fill="none" stroke="#000" stroke-width="2.25" stroke-linecap="round"/>
<path d="M1574.9,490.1 L1574.0,492.6 M1627.2,560.6 L1606.2,544.9 M1567.9,493.2 L1563.8,486.7 M1572.0,465.0 L1586.4,479.7 M1574.0,492.6 L1572.6,490.7 M1572.0,465.0 L1576.2,477.0 M1562.7,475.7 L1567.4,479.9 M1516.7,421.5 L1528.3,439.6 M1558.2,498.4 L1549.8,481.0 M1608.7,568.2 L1584.9,541.3 M1547.3,432.0 L1565.4,451.8 M1558.2,498.4 L1560.6,492.3 M1574.3,500.1 L1573.0,496.0 M1570.9,492.8 L1570.9,491.3 M1540.7,410.1 L1547.3,432.0 M1563.8,486.7 L1567.7,490.3 M1568.1,484.3 L1568.7,485.7 M1592.8,495.4 L1583.6,488.0 M1564.3,415.5 L1577.4,445.0 M1565.6,470.4 L1569.5,476.9 M1549.8,481.0 L1551.2,468.7 M1560.5,512.9 L1572.0,512.2 M1584.9,541.3 L1560.1,527.5 M1577.4,445.0 L1584.8,465.5 M1549.8,481.0 L1556.0,481.3 M1585.3,500.4 L1580.3,491.0 M1576.5,488.2 L1572.6,482.5 M1584.8,465.5 L1572.0,465.0 M1574.0,492.6 L1570.9,492.8 M1566.9,485.9 L1568.3,487.3 M1572.6,490.7 L1571.5,488.3 M1571.5,488.3 L1568.7,485.7 M1544.3,488.9 L1558.2,498.4 M1570.9,492.8 L1567.7,490.3 M1576.9,493.8 L1574.9,490.1 M1579.8,507.1 L1580.0,498.5 M1567.7,490.3 L1568.2,489.0 M1603.7,512.9 L1592.8,495.4 M1617.2,493.9 L1621.3,526.9 M1617.2,493.9 L1602.0,465.0 M1590.0,431.8 L1602.0,465.0 M1572.6,482.5 L1572.9,485.9 M1551.2,468.7 L1558.3,471.5 M1570.9,491.3 L1571.2,489.6 M1567.4,479.9 L1566.6,482.9 M1518.0,492.2 L1534.6,495.6 M1585.0,516.2 L1572.0,512.2 M1560.0,479.7 L1563.6,481.9 M1579.8,507.1 L1569.6,502.8 M1528.2,466.8 L1538.2,464.8 M1585.0,516.2 L1579.8,507.1 M1566.6,482.9 L1568.1,484.3 M1572.6,487.7 L1572.6,490.7 M1629.0,483.6 L1602.0,465.0 M1567.7,490.3 L1565.5,486.0 M1568.2,489.0 L1569.6,489.2 M1568.1,484.3 L1570.3,485.0 M1573.0,496.0 L1574.0,492.6 M1508.5,452.4 L1528.2,466.8 M1580.3,491.0 L1577.0,483.6 M1574.9,490.1 L1572.9,485.9 M1569.5,476.9 L1569.2,482.4 M1548.6,450.9 L1551.2,468.7 M1556.0,481.3 L1561.6,487.8 M1566.6,482.9 L1569.2,482.4 M1528.3,439.6 L1538.2,464.8 M1583.6,488.0 L1576.2,477.0 M1569.6,502.8 L1560.6,492.3 M1569.2,482.4 L1570.3,485.0 M1583.6,488.0 L1577.0,483.6 M1572.6,487.7 L1570.2,486.2 M1586.4,479.7 L1583.6,488.0 M1580.3,491.0 L1580.0,498.5 M1627.2,560.6 L1621.3,526.9 M1560.6,492.3 L1556.0,481.3 M1569.5,476.9 L1572.6,482.5 M1621.3,526.9 L1597.7,527.3 M1570.9,491.3 L1568.2,489.0 M1574.9,490.1 L1572.6,490.7 M1567.7,496.5 L1567.9,493.2 M1583.6,488.0 L1585.3,500.4 M1547.3,432.0 L1577.4,445.0 M1558.3,471.5 L1560.0,479.7 M1563.6,481.9 L1565.5,486.0 M1570.3,485.0 L1570.2,486.2 M1569.2,482.4 L1572.9,485.9 M1547.3,432.0 L1548.6,450.9 M1558.2,498.4 L1569.6,502.8 M1568.2,489.0 L1566.9,485.9 M1560.1,527.5 L1534.6,495.6 M1560.1,527.5 L1578.8,525.7 M1592.8,495.4 L1586.4,479.7 M1577.4,445.0 L1602.0,465.0 M1580.0,498.5 L1574.3,500.1 M1572.9,485.9 L1572.6,487.7 M1580.0,498.5 L1573.0,496.0 M1574.0,492.6 L1570.9,491.3 M1576.5,488.2 L1572.9,485.9 M1538.2,464.8 L1549.8,481.0 M1534.6,495.6 L1528.2,466.8 M1558.3,471.5 L1565.6,470.4 M1534.6,495.6 L1560.5,512.9 M1516.7,421.5 L1547.3,432.0 M1574.3,500.1 L1567.7,496.5 M1569.6,489.2 L1568.3,487.3 M1567.7,490.3 L1570.9,491.3 M1560.8,547.2 L1560.1,527.5 M1565.6,470.4 L1576.2,477.0 M1560.5,512.9 L1544.3,488.9 M1565.5,486.0 L1568.2,489.0 M1602.0,465.0 L1600.1,487.2 M1560.5,512.9 L1558.2,498.4 M1576.2,477.0 L1569.5,476.9 M1602.0,465.0 L1584.8,465.5 M1585.3,500.4 L1580.0,498.5 M1572.6,482.5 L1569.2,482.4 M1568.3,487.3 L1568.7,485.7 M1600.1,487.2 L1603.7,512.9 M1560.6,492.3 L1567.7,496.5 M1567.9,493.2 L1570.9,492.8 M1557.3,460.9 L1558.3,471.5 M1544.3,488.9 L1538.2,464.8 M1560.0,479.7 L1563.8,486.7 M1600.1,487.2 L1586.4,479.7 M1528.2,466.8 L1544.3,488.9 M1528.2,466.8 L1528.3,439.6 M1566.6,482.9 L1566.9,485.9 M1606.2,544.9 L1584.9,541.3 M1603.7,512.9 L1597.7,527.3 M1603.7,512.9 L1593.2,509.4 M1535.4,521.2 L1534.6,495.6 M1576.5,488.2 L1576.9,493.8 M1593.2,509.4 L1579.8,507.1 M1570.9,491.3 L1569.6,489.2 M1518.0,492.2 L1528.2,466.8 M1562.7,475.7 L1563.6,481.9 M1571.5,488.3 L1571.2,489.6 M1608.7,568.2 L1606.2,544.9 M1597.7,527.3 L1578.8,525.7 M1597.7,527.3 L1585.0,516.2 M1586.4,479.7 L1576.2,477.0 M1571.2,489.6 L1569.6,489.2 M1549.8,481.0 L1560.6,492.3 M1578.8,525.7 L1560.5,512.9 M1567.7,496.5 L1573.0,496.0 M1562.7,475.7 L1569.5,476.9 M1563.6,481.9 L1566.9,485.9 M1585.2,562.7 L1584.9,541.3 M1569.5,476.9 L1577.0,483.6 M1568.1,484.3 L1570.2,486.2 M1577.0,483.6 L1572.6,482.5 M1580.0,498.5 L1576.9,493.8 M1567.7,496.5 L1561.6,487.8 M1572.6,490.7 L1571.2,489.6 M1551.2,468.7 L1556.0,481.3 M1584.9,541.3 L1578.8,525.7 M1561.6,487.8 L1567.9,493.2 M1584.8,465.5 L1586.4,479.7 M1558.3,471.5 L1562.7,475.7 M1551.2,468.7 L1560.0,479.7 M1563.6,481.9 L1566.6,482.9 M1571.5,488.3 L1570.2,486.2 M1572.6,487.7 L1570.3,485.0 M1579.8,507.1 L1574.3,500.1 M1560.8,547.2 L1584.9,541.3 M1592.8,495.4 L1593.2,509.4 M1568.7,485.7 L1570.2,486.2 M1563.8,486.7 L1563.6,481.9 M1560.1,527.5 L1560.5,512.9 M1576.9,493.8 L1574.0,492.6 M1577.0,483.6 L1576.5,488.2 M1617.2,493.9 L1600.1,487.2 M1538.2,464.8 L1551.2,468.7 M1561.6,487.8 L1560.0,479.7 M1600.1,487.2 L1584.8,465.5 M1567.4,479.9 L1569.2,482.4 M1569.6,489.2 L1568.7,485.7 M1639.5,515.7 L1617.2,493.9 M1569.6,502.8 L1567.7,496.5 M1535.4,521.2 L1560.1,527.5 M1573.0,496.0 L1570.9,492.8 M1565.5,486.0 L1566.9,485.9 M1568.2,489.0 L1568.3,487.3 M1593.2,509.4 L1585.3,500.4 M1576.2,477.0 L1577.0,483.6 M1638.0,542.3 L1621.3,526.9 M1548.6,450.9 L1565.4,451.8 M1572.9,485.9 L1570.3,485.0 M1580.3,491.0 L1576.5,488.2 M1557.3,460.9 L1572.0,465.0 M1621.3,526.9 L1603.7,512.9 M1548.6,450.9 L1557.3,460.9 M1560.6,492.3 L1561.6,487.8 M1567.9,493.2 L1567.7,490.3 M1557.3,460.9 L1565.6,470.4 M1566.9,485.9 L1568.7,485.7 M1574.9,490.1 L1572.6,487.7 M1562.7,475.7 L1566.6,482.9 M1572.0,512.2 L1558.2,498.4 M1578.8,525.7 L1572.0,512.2 M1565.4,451.8 L1584.8,465.5 M1528.3,439.6 L1548.6,450.9 M1572.0,512.2 L1569.6,502.8 M1606.2,544.9 L1597.7,527.3 M1565.4,451.8 L1572.0,465.0 M1573.0,496.0 L1567.9,493.2 M1597.7,527.3 L1593.2,509.4" fill="none" stroke="#000" stroke-width="1.35" stroke-linecap="round"/>
<path d="M1571.5,488.3 L1569.6,489.2 M1584.9,541.3 L1597.7,527.3 M1534.6,495.6 L1544.3,488.9 M1585.3,500.4 L1579.8,507.1 M1551.2,468.7 L1557.3,460.9 M1561.6,487.8 L1563.8,486.7 M1569.6,502.8 L1574.3,500.1 M1621.3,526.9 L1606.2,544.9 M1572.6,490.7 L1570.9,491.3 M1528.3,439.6 L1547.3,432.0 M1578.8,525.7 L1585.0,516.2 M1639.5,515.7 L1621.3,526.9 M1580.3,491.0 L1576.9,493.8 M1564.3,415.5 L1547.3,432.0 M1565.6,470.4 L1562.7,475.7 M1572.6,487.7 L1571.5,488.3 M1592.8,495.4 L1585.3,500.4 M1590.0,431.8 L1577.4,445.0 M1576.5,488.2 L1574.9,490.1 M1617.2,493.9 L1603.7,512.9 M1629.0,483.6 L1617.2,493.9 M1612.5,456.5 L1602.0,465.0 M1600.1,487.2 L1592.8,495.4 M1572.0,512.2 L1579.8,507.1 M1565.4,451.8 L1557.3,460.9 M1560.0,479.7 L1562.7,475.7 M1572.0,465.0 L1565.6,470.4 M1569.2,482.4 L1568.1,484.3 M1569.5,476.9 L1567.4,479.9 M1577.4,445.0 L1565.4,451.8 M1556.0,481.3 L1560.0,479.7 M1566.9,485.9 L1568.1,484.3 M1563.8,486.7 L1565.5,486.0 M1544.3,488.9 L1549.8,481.0 M1538.2,464.8 L1548.6,450.9 M1576.9,493.8 L1573.0,496.0 M1593.2,509.4 L1585.0,516.2 M1508.5,452.4 L1528.3,439.6 M1583.6,488.0 L1580.3,491.0" fill="none" stroke="#000" stroke-width="2.09" stroke-linecap="round"/>
<polyline points="1602.4,572.2 1578.9,566.7 1554.5,551.2 1529.1,525.2 1511.7,496.2 1502.2,456.4 1510.4,425.5" fill="none" stroke="#000" stroke-width="0.70"/>
<path d="M1540.7,410.1 L1564.3,415.5" stroke="#000" stroke-width="1.90" stroke-linecap="round"/>
<path d="M1564.3,415.5 L1590.0,431.8" stroke="#000" stroke-width="1.90" stroke-linecap="round"/>
<path d="M1590.0,431.8 L1612.5,456.5" stroke="#000" stroke-width="1.90" stroke-linecap="round"/>
<path d="M1612.5,456.5 L1629.0,483.6" stroke="#000" stroke-width="1.90" stroke-linecap="round"/>
<path d="M1629.0,483.6 L1639.5,515.7" stroke="#000" stroke-width="1.90" stroke-linecap="round"/>
<path d="M1639.5,515.7 L1638.0,542.3" stroke="#000" stroke-width="1.90" stroke-linecap="round"/>
<path d="M1638.0,542.3 L1627.2,560.6" stroke="#000" stroke-width="3.06" stroke-linecap="round"/>
<path d="M1627.2,560.6 L1608.7,568.2" stroke="#000" stroke-width="3.75" stroke-linecap="round"/>
<path d="M1608.7,568.2 L1585.2,562.7" stroke="#000" stroke-width="3.00" stroke-linecap="round"/>
<path d="M1585.2,562.7 L1560.8,547.2" stroke="#000" stroke-width="3.00" stroke-linecap="round"/>
<path d="M1560.8,547.2 L1535.4,521.2" stroke="#000" stroke-width="3.00" stroke-linecap="round"/>
<path d="M1535.4,521.2 L1518.0,492.2" stroke="#000" stroke-width="3.00" stroke-linecap="round"/>
<path d="M1518.0,492.2 L1508.5,452.4" stroke="#000" stroke-width="3.00" stroke-linecap="round"/>
<path d="M1508.5,452.4 L1516.7,421.5" stroke="#000" stroke-width="3.00" stroke-linecap="round"/>
<path d="M1516.7,421.5 L1540.7,410.1" stroke="#000" stroke-width="3.75" stroke-linecap="round"/>
<path d="M1608.7,568.2 L1602.4,572.2" stroke="#000" stroke-width="1.90"/>
<path d="M1518.0,492.2 L1511.7,496.2" stroke="#000" stroke-width="1.90"/>
<path d="M1516.7,421.5 L1510.4,425.5" stroke="#000" stroke-width="1.90"/>
<ellipse cx="1571.7" cy="487.3" rx="4.8" ry="10.5" fill="#000" transform="rotate(-18 1571.7 487.3)"/>
<polygon points="1079.2,223.5 1419.0,226.4 1619.0,236.3 1277.5,233.4" fill="#000" stroke="#000" stroke-width="0.9" stroke-linejoin="round"/>
<polygon points="1572.7,482.5 1790.8,491.1 1793.3,492.8 1790.5,496.4 1783.0,501.0 1775.8,504.0 1773.7,503.8 1577.6,495.4 1573.2,492.2 1570.8,488.4 1570.5,484.6" fill="#c9c9c9" stroke="#000" stroke-width="1.90" stroke-linejoin="round"/>
<path d="M1571.3,488.3 L1780.4,497.6" stroke="#000" stroke-width="2.40" fill="none"/>
<polyline points="1774.5,503.2 1780.4,497.6 1787.0,493.9 1792.6,492.9" stroke="#000" stroke-width="1.70" fill="none" stroke-linejoin="round"/>
<path d="M1572.7,482.5 L1594.5,489.3 L1596.9,483.5 M1571.3,488.3 L1773.9,503.8 L1594.5,489.3 M1596.9,483.5 L1617.8,490.4 L1621.2,484.4 M1594.5,489.3 L1774.2,503.8 L1617.8,490.4 M1621.2,484.4 L1641.0,491.4 L1645.4,485.4 M1617.8,490.4 L1774.4,503.9 L1641.0,491.4 M1645.4,485.4 L1664.2,492.4 L1669.6,486.3 M1641.0,491.4 L1774.6,503.9 L1664.2,492.4 M1669.6,486.3 L1687.5,493.5 L1693.9,487.3 M1664.2,492.4 L1774.9,503.9 L1687.5,493.5 M1693.9,487.3 L1710.7,494.5 L1718.1,488.2 M1687.5,493.5 L1775.1,503.9 L1710.7,494.5 M1718.1,488.2 L1733.9,495.5 L1742.3,489.2 M1710.7,494.5 L1775.3,504.0 L1733.9,495.5 M1742.3,489.2 L1757.2,496.6 L1766.6,490.1 M1733.9,495.5 L1775.6,504.0 L1757.2,496.6 M1766.6,490.1 L1780.4,497.6 L1790.8,491.1 M1757.2,496.6 L1775.8,504.0 L1780.4,497.6" fill="none" stroke="#000" stroke-width="1.15"/>
<path d="M1439.8,613.2 L1482.2,614.4 L1487.8,609.4 M1487.8,609.4 L1530.0,610.6 L1535.8,605.6 M1535.8,605.6 L1577.8,606.9 L1583.8,601.8 M1583.8,601.8 L1625.6,603.2 L1631.9,598.0 M1631.9,598.0 L1673.4,599.5 L1679.9,594.2 M1679.9,594.2 L1721.2,595.7 L1727.9,590.4 M1727.9,590.4 L1769.0,592.0 L1775.9,586.6" fill="none" stroke="#000" stroke-width="0.8"/>
</g>
<g id="pc">
<polygon points="62.8,928.2 68.7,923.5 267.0,933.4 429.3,1313.2 423.9,1318.1 414.8,1317.1 405.7,1316.1 396.7,1315.1 387.7,1314.1 378.7,1313.1 369.7,1312.1 360.8,1311.2 351.9,1310.2 343.0,1309.2 334.1,1308.2 325.3,1307.2 316.5,1306.3 307.7,1305.3 299.0,1304.4 290.3,1303.4 281.6,1302.4 272.9,1301.5 264.3,1300.5 255.7,1299.6 247.1,1298.6 238.6,1297.7 230.1,1296.8 221.6,1295.8 213.1,1294.9" fill="#c2c2c2"/>
<polygon points="68.7,923.5 71.2,928.3 76.8,923.9" fill="#dcdcdc"/>
<polygon points="76.8,923.9 79.3,928.7 84.9,924.3" fill="#dcdcdc"/>
<polygon points="84.9,924.3 87.4,929.1 93.1,924.7" fill="#dcdcdc"/>
<polygon points="93.1,924.7 95.6,929.5 101.2,925.1" fill="#dcdcdc"/>
<polygon points="101.2,925.1 103.7,929.9 109.4,925.5" fill="#dcdcdc"/>
<polygon points="109.4,925.5 111.9,930.3 117.5,925.9" fill="#dcdcdc"/>
<polygon points="117.5,925.9 120.0,930.7 125.7,926.3" fill="#dcdcdc"/>
<polygon points="125.7,926.3 128.2,931.1 133.9,926.8" fill="#dcdcdc"/>
<polygon points="133.9,926.8 136.4,931.6 142.1,927.2" fill="#dcdcdc"/>
<polygon points="142.1,927.2 144.6,932.0 150.4,927.6" fill="#dcdcdc"/>
<polygon points="150.4,927.6 152.9,932.4 158.6,928.0" fill="#dcdcdc"/>
<polygon points="158.6,928.0 161.1,932.8 166.9,928.4" fill="#dcdcdc"/>
<polygon points="166.9,928.4 169.4,933.2 175.1,928.8" fill="#dcdcdc"/>
<polygon points="175.1,928.8 177.6,933.6 183.4,929.2" fill="#dcdcdc"/>
<polygon points="183.4,929.2 185.9,934.0 191.7,929.6" fill="#dcdcdc"/>
<polygon points="191.7,929.6 194.2,934.4 200.0,930.1" fill="#dcdcdc"/>
<polygon points="200.0,930.1 202.5,934.9 208.3,930.5" fill="#dcdcdc"/>
<polygon points="208.3,930.5 210.8,935.3 216.7,930.9" fill="#dcdcdc"/>
<polygon points="216.7,930.9 219.2,935.7 225.0,931.3" fill="#dcdcdc"/>
<polygon points="225.0,931.3 227.5,936.1 233.4,931.7" fill="#dcdcdc"/>
<polygon points="233.4,931.7 235.9,936.5 241.8,932.1" fill="#dcdcdc"/>
<polygon points="241.8,932.1 244.3,936.9 250.2,932.6" fill="#dcdcdc"/>
<polygon points="250.2,932.6 252.7,937.4 258.6,933.0" fill="#dcdcdc"/>
<polygon points="258.6,933.0 261.1,937.8 267.0,933.4" fill="#dcdcdc"/>
<polygon points="213.1,1294.9 218.5,1291.1 221.6,1295.8" fill="#9a9a9a"/>
<polygon points="221.6,1295.8 227.0,1292.0 230.1,1296.8" fill="#9a9a9a"/>
<polygon points="230.1,1296.8 235.5,1293.0 238.6,1297.7" fill="#9a9a9a"/>
<polygon points="238.6,1297.7 244.0,1293.9 247.1,1298.6" fill="#9a9a9a"/>
<polygon points="247.1,1298.6 252.5,1294.8 255.7,1299.6" fill="#9a9a9a"/>
<polygon points="255.7,1299.6 261.1,1295.8 264.3,1300.5" fill="#9a9a9a"/>
<polygon points="264.3,1300.5 269.7,1296.7 272.9,1301.5" fill="#9a9a9a"/>
<polygon points="272.9,1301.5 278.3,1297.7 281.6,1302.4" fill="#9a9a9a"/>
<polygon points="281.6,1302.4 287.0,1298.6 290.3,1303.4" fill="#9a9a9a"/>
<polygon points="290.3,1303.4 295.7,1299.6 299.0,1304.4" fill="#9a9a9a"/>
<polygon points="299.0,1304.4 304.4,1300.6 307.7,1305.3" fill="#9a9a9a"/>
<polygon points="307.7,1305.3 313.1,1301.5 316.5,1306.3" fill="#9a9a9a"/>
<polygon points="316.5,1306.3 321.9,1302.5 325.3,1307.2" fill="#9a9a9a"/>
<polygon points="325.3,1307.2 330.7,1303.4 334.1,1308.2" fill="#9a9a9a"/>
<polygon points="334.1,1308.2 339.5,1304.4 343.0,1309.2" fill="#9a9a9a"/>
<polygon points="343.0,1309.2 348.4,1305.4 351.9,1310.2" fill="#9a9a9a"/>
<polygon points="351.9,1310.2 357.3,1306.4 360.8,1311.2" fill="#9a9a9a"/>
<polygon points="360.8,1311.2 366.2,1307.4 369.7,1312.1" fill="#9a9a9a"/>
<polygon points="369.7,1312.1 375.1,1308.3 378.7,1313.1" fill="#9a9a9a"/>
<polygon points="378.7,1313.1 384.1,1309.3 387.7,1314.1" fill="#9a9a9a"/>
<polygon points="387.7,1314.1 393.1,1310.3 396.7,1315.1" fill="#9a9a9a"/>
<polygon points="396.7,1315.1 402.1,1311.3 405.7,1316.1" fill="#9a9a9a"/>
<polygon points="405.7,1316.1 411.1,1312.3 414.8,1317.1" fill="#9a9a9a"/>
<polygon points="414.8,1317.1 420.2,1313.3 423.9,1318.1" fill="#9a9a9a"/>
<path d="M62.8,928.2 L213.1,1294.9 M62.8,928.2 L68.7,923.5 M213.1,1294.9 L218.5,1291.1 M213.1,1294.9 L221.6,1295.8 M68.7,923.5 L71.2,928.3 L218.5,1291.1 L221.6,1295.8 M71.2,928.3 L76.8,923.9 M221.6,1295.8 L227.0,1292.0 M221.6,1295.8 L230.1,1296.8 M76.8,923.9 L79.3,928.7 L227.0,1292.0 L230.1,1296.8 M79.3,928.7 L84.9,924.3 M230.1,1296.8 L235.5,1293.0 M230.1,1296.8 L238.6,1297.7 M84.9,924.3 L87.4,929.1 L235.5,1293.0 L238.6,1297.7 M87.4,929.1 L93.1,924.7 M238.6,1297.7 L244.0,1293.9 M238.6,1297.7 L247.1,1298.6 M93.1,924.7 L95.6,929.5 L244.0,1293.9 L247.1,1298.6 M95.6,929.5 L101.2,925.1 M247.1,1298.6 L252.5,1294.8 M247.1,1298.6 L255.7,1299.6 M101.2,925.1 L103.7,929.9 L252.5,1294.8 L255.7,1299.6 M103.7,929.9 L109.4,925.5 M255.7,1299.6 L261.1,1295.8 M255.7,1299.6 L264.3,1300.5 M109.4,925.5 L111.9,930.3 L261.1,1295.8 L264.3,1300.5 M111.9,930.3 L117.5,925.9 M264.3,1300.5 L269.7,1296.7 M264.3,1300.5 L272.9,1301.5 M117.5,925.9 L120.0,930.7 L269.7,1296.7 L272.9,1301.5 M120.0,930.7 L125.7,926.3 M272.9,1301.5 L278.3,1297.7 M272.9,1301.5 L281.6,1302.4 M125.7,926.3 L128.2,931.1 L278.3,1297.7 L281.6,1302.4 M128.2,931.1 L133.9,926.8 M281.6,1302.4 L287.0,1298.6 M281.6,1302.4 L290.3,1303.4 M133.9,926.8 L136.4,931.6 L287.0,1298.6 L290.3,1303.4 M136.4,931.6 L142.1,927.2 M290.3,1303.4 L295.7,1299.6 M290.3,1303.4 L299.0,1304.4 M142.1,927.2 L144.6,932.0 L295.7,1299.6 L299.0,1304.4 M144.6,932.0 L150.4,927.6 M299.0,1304.4 L304.4,1300.6 M299.0,1304.4 L307.7,1305.3 M150.4,927.6 L152.9,932.4 L304.4,1300.6 L307.7,1305.3 M152.9,932.4 L158.6,928.0 M307.7,1305.3 L313.1,1301.5 M307.7,1305.3 L316.5,1306.3 M158.6,928.0 L161.1,932.8 L313.1,1301.5 L316.5,1306.3 M161.1,932.8 L166.9,928.4 M316.5,1306.3 L321.9,1302.5 M316.5,1306.3 L325.3,1307.2 M166.9,928.4 L169.4,933.2 L321.9,1302.5 L325.3,1307.2 M169.4,933.2 L175.1,928.8 M325.3,1307.2 L330.7,1303.4 M325.3,1307.2 L334.1,1308.2 M175.1,928.8 L177.6,933.6 L330.7,1303.4 L334.1,1308.2 M177.6,933.6 L183.4,929.2 M334.1,1308.2 L339.5,1304.4 M334.1,1308.2 L343.0,1309.2 M183.4,929.2 L185.9,934.0 L339.5,1304.4 L343.0,1309.2 M185.9,934.0 L191.7,929.6 M343.0,1309.2 L348.4,1305.4 M343.0,1309.2 L351.9,1310.2 M191.7,929.6 L194.2,934.4 L348.4,1305.4 L351.9,1310.2 M194.2,934.4 L200.0,930.1 M351.9,1310.2 L357.3,1306.4 M351.9,1310.2 L360.8,1311.2 M200.0,930.1 L202.5,934.9 L357.3,1306.4 L360.8,1311.2 M202.5,934.9 L208.3,930.5 M360.8,1311.2 L366.2,1307.4 M360.8,1311.2 L369.7,1312.1 M208.3,930.5 L210.8,935.3 L366.2,1307.4 L369.7,1312.1 M210.8,935.3 L216.7,930.9 M369.7,1312.1 L375.1,1308.3 M369.7,1312.1 L378.7,1313.1 M216.7,930.9 L219.2,935.7 L375.1,1308.3 L378.7,1313.1 M219.2,935.7 L225.0,931.3 M378.7,1313.1 L384.1,1309.3 M378.7,1313.1 L387.7,1314.1 M225.0,931.3 L227.5,936.1 L384.1,1309.3 L387.7,1314.1 M227.5,936.1 L233.4,931.7 M387.7,1314.1 L393.1,1310.3 M387.7,1314.1 L396.7,1315.1 M233.4,931.7 L235.9,936.5 L393.1,1310.3 L396.7,1315.1 M235.9,936.5 L241.8,932.1 M396.7,1315.1 L402.1,1311.3 M396.7,1315.1 L405.7,1316.1 M241.8,932.1 L244.3,936.9 L402.1,1311.3 L405.7,1316.1 M244.3,936.9 L250.2,932.6 M405.7,1316.1 L411.1,1312.3 M405.7,1316.1 L414.8,1317.1 M250.2,932.6 L252.7,937.4 L411.1,1312.3 L414.8,1317.1 M252.7,937.4 L258.6,933.0 M414.8,1317.1 L420.2,1313.3 M414.8,1317.1 L423.9,1318.1 M258.6,933.0 L261.1,937.8 L420.2,1313.3 L423.9,1318.1 M261.1,937.8 L267.0,933.4 M423.9,1318.1 L429.3,1313.2" fill="none" stroke="#000" stroke-width="1.15" stroke-linecap="round" stroke-linejoin="round"/>
<polygon points="429.3,1313.2 765.4,1286.6 758.5,1292.0 423.9,1318.1" fill="#c2c2c2" stroke="#000" stroke-width="0.90" stroke-linejoin="round"/>
<polygon points="267.0,933.4 608.5,936.3 765.4,1286.6 429.3,1313.2" fill="#c2c2c2" stroke="#000" stroke-width="1.10" stroke-linejoin="round"/>
<path d="M267.0,933.4 L429.3,1313.2" stroke="#000" stroke-width="1.90" stroke-linecap="round"/>
<path d="M429.3,1313.2 L765.4,1286.6" stroke="#000" stroke-width="1.60" stroke-linecap="round"/>
<polygon points="68.7,923.5 408.5,926.4 608.5,936.3 267.0,933.4" fill="#000" stroke="#000" stroke-width="0.9" stroke-linejoin="round"/>
<polyline points="591.9,1272.2 568.4,1266.7 544.0,1251.2 518.6,1225.2 501.2,1196.2 491.7,1156.4 499.9,1125.5" fill="none" stroke="#000" stroke-width="0.65"/>
<path d="M530.2,1110.1 L553.8,1115.5" stroke="#000" stroke-width="1.25" stroke-linecap="round"/>
<path d="M553.8,1115.5 L579.5,1131.8" stroke="#000" stroke-width="1.25" stroke-linecap="round"/>
<path d="M579.5,1131.8 L602.0,1156.5" stroke="#000" stroke-width="1.25" stroke-linecap="round"/>
<path d="M602.0,1156.5 L618.5,1183.6" stroke="#000" stroke-width="1.25" stroke-linecap="round"/>
<path d="M618.5,1183.6 L629.0,1215.7" stroke="#000" stroke-width="1.25" stroke-linecap="round"/>
<path d="M629.0,1215.7 L627.5,1242.3" stroke="#000" stroke-width="1.25" stroke-linecap="round"/>
<path d="M627.5,1242.3 L616.7,1260.6" stroke="#000" stroke-width="1.25" stroke-linecap="round"/>
<path d="M616.7,1260.6 L598.2,1268.2" stroke="#000" stroke-width="1.62" stroke-linecap="round"/>
<path d="M598.2,1268.2 L574.7,1262.7" stroke="#000" stroke-width="2.00" stroke-linecap="round"/>
<path d="M574.7,1262.7 L550.3,1247.2" stroke="#000" stroke-width="2.00" stroke-linecap="round"/>
<path d="M550.3,1247.2 L524.9,1221.2" stroke="#000" stroke-width="2.00" stroke-linecap="round"/>
<path d="M524.9,1221.2 L507.5,1192.2" stroke="#000" stroke-width="2.00" stroke-linecap="round"/>
<path d="M507.5,1192.2 L498.0,1152.4" stroke="#000" stroke-width="2.00" stroke-linecap="round"/>
<path d="M498.0,1152.4 L506.2,1121.5" stroke="#000" stroke-width="2.00" stroke-linecap="round"/>
<path d="M506.2,1121.5 L530.2,1110.1" stroke="#000" stroke-width="2.00" stroke-linecap="round"/>
<path d="M598.2,1268.2 L591.9,1272.2" stroke="#000" stroke-width="1.25"/>
<path d="M507.5,1192.2 L501.2,1196.2" stroke="#000" stroke-width="1.25"/>
<path d="M506.2,1121.5 L499.9,1125.5" stroke="#000" stroke-width="1.25"/>
<polyline points="367.4,933.8 325.2,943.3 315.8,948.0 293.9,953.5 276.2,952.3 265.7,966.3 261.0,978.9 256.3,996.1 250.1,1008.6 242.3,1030.5 239.1,1044.6 236.8,1074.3 232.9,1086.8 230.5,1102.5 229.7,1119.7 229.9,1160.0 231.4,1200.3 232.5,1250.0 233.6,1296.5" fill="none" stroke="#28289c" stroke-width="1.15" stroke-linejoin="round"/>
<polyline points="548.5,936.2 562.0,941.0 576.6,946.0 600.6,952.9 615.0,954.0" fill="none" stroke="#28289c" stroke-width="1.15" stroke-linejoin="round"/>
<polyline points="459.5,1315.5 458.5,1293.2 456.6,1285.0 454.3,1263.4 455.8,1254.0 450.3,1200.8 452.7,1158.6 462.5,1140.6 462.9,1124.2 476.2,1092.5 499.6,1084.3 528.6,1083.8 558.3,1093.2 607.6,1128.9 635.0,1163.3 653.8,1185.2 667.8,1200.8 705.4,1247.0 724.2,1285.0 727.0,1288.6 721.0,1294.0" fill="none" stroke="#28289c" stroke-width="1.15" stroke-linejoin="round"/>
<polyline points="566.5,1305.5 558.0,1295.0 548.9,1285.0 538.0,1258.7 523.9,1236.8 508.2,1205.5 505.1,1172.7 503.5,1155.5 520.0,1130.4 531.7,1124.2 539.5,1123.8 555.2,1127.3 578.7,1141.4 594.3,1158.6 611.5,1182.1 624.0,1205.5 628.7,1230.6 642.8,1285.0 645.5,1299.0" fill="none" stroke="#2a2aa8" stroke-width="1.15" stroke-linejoin="round"/>
<polygon points="548.1,1147.9 537.2,1150.8 532.5,1159.4 530.1,1175.8 533.3,1185.2 547.4,1208.7 563.0,1227.4 580.2,1238.4 593.5,1238.4 602.9,1228.2 604.5,1214.9 600.6,1199.3 591.2,1178.9 570.8,1157.0 559.9,1151.5" fill="none" stroke="#3030c8" stroke-width="1.15" stroke-linejoin="round"/>
<polygon points="549.7,1159.7 542.7,1163.3 540.3,1169.5 541.9,1185.2 553.6,1204.0 567.7,1216.5 579.4,1221.2 589.6,1214.1 592.0,1207.1 591.2,1199.3 580.2,1172.7 567.7,1164.1 558.3,1160.1" fill="none" stroke="#3434dc" stroke-width="1.15" stroke-linejoin="round"/>
<polygon points="546.6,1168.0 545.8,1175.8 548.9,1189.9 556.7,1204.0 572.4,1211.8 581.8,1207.9 584.9,1199.3 574.0,1172.7 564.6,1168.0 553.6,1165.6" fill="none" stroke="#3a3cf0" stroke-width="1.15" stroke-linejoin="round"/>
<polygon points="549.0,1171.1 548.3,1177.7 551.0,1189.5 557.5,1201.3 570.7,1207.9 578.6,1204.6 581.2,1197.4 572.0,1175.0 564.1,1171.1 554.9,1169.1" fill="none" stroke="#315bfa" stroke-width="1.00" stroke-linejoin="round"/>
<polygon points="551.0,1173.6 550.4,1179.2 552.6,1189.2 558.2,1199.2 569.3,1204.8 576.0,1202.0 578.2,1195.9 570.4,1177.0 563.8,1173.6 556.0,1172.0" fill="none" stroke="#3171fa" stroke-width="1.00" stroke-linejoin="round"/>
<polygon points="552.6,1175.8 552.2,1180.5 554.1,1188.9 558.8,1197.4 568.1,1202.1 573.8,1199.7 575.7,1194.6 569.1,1178.6 563.4,1175.8 556.9,1174.4" fill="none" stroke="#3086fa" stroke-width="1.00" stroke-linejoin="round"/>
<polygon points="554.0,1177.6 553.6,1181.5 555.2,1188.7 559.2,1195.9 567.2,1199.9 572.0,1197.9 573.6,1193.5 568.0,1179.9 563.2,1177.6 557.6,1176.4" fill="none" stroke="#319bf9" stroke-width="1.00" stroke-linejoin="round"/>
<polygon points="555.2,1179.1 554.9,1182.5 556.2,1188.5 559.6,1194.6 566.3,1198.0 570.4,1196.3 571.7,1192.6 567.0,1181.1 563.0,1179.1 558.3,1178.1" fill="none" stroke="#34b1f6" stroke-width="1.00" stroke-linejoin="round"/>
<polygon points="556.3,1180.5 556.0,1183.3 557.1,1188.4 560.0,1193.4 565.6,1196.3 569.0,1194.9 570.1,1191.8 566.1,1182.2 562.8,1180.5 558.8,1179.6" fill="none" stroke="#38c7f4" stroke-width="1.00" stroke-linejoin="round"/>
<polygon points="557.2,1181.7 557.0,1184.0 557.9,1188.2 560.3,1192.5 564.9,1194.8 567.8,1193.6 568.7,1191.1 565.4,1183.1 562.6,1181.7 559.3,1181.0" fill="none" stroke="#3bdcf1" stroke-width="1.00" stroke-linejoin="round"/>
<polygon points="558.0,1182.6 557.8,1184.6 558.5,1188.1 560.5,1191.6 564.4,1193.6 566.8,1192.6 567.5,1190.5 564.8,1183.8 562.5,1182.6 559.7,1182.1" fill="none" stroke="#49e8dd" stroke-width="1.00" stroke-linejoin="round"/>
<polygon points="558.7,1183.6 558.6,1185.2 559.2,1188.0 560.8,1190.8 563.9,1192.4 565.8,1191.6 566.4,1189.9 564.2,1184.6 562.3,1183.6 560.1,1183.1" fill="none" stroke="#5bf0c5" stroke-width="1.00" stroke-linejoin="round"/>
<polygon points="559.3,1184.4 559.2,1185.7 559.7,1187.9 561.0,1190.2 563.5,1191.4 565.0,1190.8 565.5,1189.4 563.7,1185.2 562.2,1184.4 560.5,1184.0" fill="none" stroke="#6cf9ad" stroke-width="1.00" stroke-linejoin="round"/>
<polygon points="559.9,1185.1 559.8,1186.1 560.2,1187.8 561.1,1189.6 563.1,1190.6 564.3,1190.1 564.7,1189.0 563.3,1185.7 562.1,1185.1 560.7,1184.8" fill="none" stroke="#ecce08" stroke-width="1.00" stroke-linejoin="round"/>
<polygon points="560.4,1185.8 560.3,1186.5 560.6,1187.7 561.3,1189.0 562.7,1189.7 563.6,1189.4 563.8,1188.6 562.9,1186.2 562.0,1185.8 561.0,1185.6" fill="none" stroke="#ef9f02" stroke-width="1.00" stroke-linejoin="round"/>
<polygon points="560.8,1186.4 560.8,1186.8 561.0,1187.7 561.5,1188.5 562.4,1189.0 563.0,1188.8 563.1,1188.2 562.5,1186.6 561.9,1186.4 561.3,1186.2" fill="none" stroke="#ef9f02" stroke-width="1.00" stroke-linejoin="round"/>
<polygon points="562.2,1182.5 780.3,1191.1 782.8,1192.8 780.0,1196.4 772.5,1201.0 765.3,1204.0 763.2,1203.8 567.1,1195.4 562.7,1192.2 560.3,1188.4 560.0,1184.6" fill="#c2c2c2" stroke="#000" stroke-width="1.10" stroke-linejoin="round"/>
<path d="M560.8,1188.3 L769.9,1197.6" stroke="#000" stroke-width="1.60" fill="none"/>
<polyline points="764.0,1203.2 769.9,1197.6 776.5,1193.9 782.1,1192.9" stroke="#000" stroke-width="0.90" fill="none" stroke-linejoin="round"/>
</g>
<g id="pd">
<g transform="matrix(0.9982 0 0.0053 1 -2.555 0)">
<path d="M1424.5,906.3 L1572.5,1231.7 M1432.5,906.4 L1580.7,1232.6 M1440.4,906.4 L1589.0,1233.4 M1448.4,906.5 L1597.2,1234.3 M1456.4,906.5 L1605.4,1235.1 M1464.3,906.6 L1613.7,1236.0 M1472.3,906.6 L1621.9,1236.8 M1480.2,906.7 L1630.2,1237.7 M1488.2,906.7 L1638.4,1238.5 M1496.2,906.8 L1646.6,1239.4 M1504.1,906.8 L1654.9,1240.3 M1512.1,906.9 L1663.1,1241.1 M1520.1,906.9 L1671.3,1242.0 M1528.0,907.0 L1679.6,1242.8 M1536.0,907.0 L1687.8,1243.7 M1544.0,907.1 L1696.0,1244.5 M1551.9,907.1 L1704.3,1245.4 M1559.9,907.2 L1712.5,1246.3 M1567.9,907.2 L1720.7,1247.1 M1575.8,907.3 L1729.0,1248.0 M1583.8,907.3 L1737.2,1248.8 M1591.7,907.4 L1745.5,1249.7 M1599.7,907.4 L1753.7,1250.5 M1607.7,907.5 L1761.9,1251.4 M1615.6,907.5 L1770.2,1252.2 M1621.5,902.8 L1778.4,1253.1" fill="none" stroke="#000" stroke-width="1.9" stroke-linecap="butt"/>
<polygon points="1075.8,894.4 1081.7,889.1 1421.5,892.0 1621.5,902.4 1617.0,907.6 1424.5,906.3 1282.4,904.5" fill="#000" stroke="#000" stroke-width="1.2" stroke-linejoin="round"/>
<polygon points="1226.1,1261.4 1231.5,1257.6 1572.5,1231.7 1778.4,1253.1 1771.5,1258.5 1436.9,1284.6" fill="#000" stroke="#000" stroke-width="1.2" stroke-linejoin="round"/>
<polygon points="1078.4,894.4 1081.9,891.0 1086.9,891.1" fill="#fff"/>
<polygon points="1087.1,894.3 1090.1,891.5 1094.6,891.6" fill="#fff"/>
<polygon points="1095.6,894.5 1098.2,892.0 1102.3,892.1" fill="#fff"/>
<polygon points="1104.1,894.8 1106.4,892.5 1110.1,892.6" fill="#fff"/>
<polygon points="1112.5,895.0 1114.6,893.0 1117.8,893.1" fill="#fff"/>
<polygon points="1121.0,895.2 1122.8,893.5 1125.5,893.6" fill="#fff"/>
<polygon points="1129.6,895.4 1131.0,894.0 1133.3,894.1" fill="#fff"/>
<polygon points="1138.1,895.6 1139.3,894.5 1141.1,894.6" fill="#fff"/>
<polygon points="1146.6,895.9 1147.5,895.0 1148.9,895.1" fill="#fff"/>
<polygon points="1155.2,896.1 1155.8,895.5 1156.7,895.6" fill="#fff"/>
<polygon points="1619.3,904.0 1616.3,906.8 1612.0,906.4" fill="#fff"/>
<polygon points="1229.1,1260.8 1232.0,1258.6 1239.5,1258.6" fill="#fff"/>
<polygon points="1771.0,1257.5 1775.9,1254.5 1762.5,1257.9" fill="#fff"/>
<polygon points="1536.9,1080.6 1560.5,1086.0 1586.2,1102.3 1608.7,1127.0 1625.2,1154.1 1635.7,1186.2 1634.2,1212.8 1623.4,1231.1 1604.9,1238.7 1581.4,1233.2 1557.0,1217.7 1531.6,1191.7 1514.2,1162.7 1504.7,1122.9 1512.9,1092.0" fill="none" stroke="#000" stroke-width="1.4" stroke-linejoin="round"/>
<path d="M1543.2,1076.6 L1566.8,1082.0" stroke="#000" stroke-width="1.50" stroke-linecap="round"/>
<path d="M1566.8,1082.0 L1592.5,1098.3" stroke="#000" stroke-width="1.50" stroke-linecap="round"/>
<path d="M1592.5,1098.3 L1615.0,1123.0" stroke="#000" stroke-width="1.50" stroke-linecap="round"/>
<path d="M1615.0,1123.0 L1631.5,1150.1" stroke="#000" stroke-width="1.50" stroke-linecap="round"/>
<path d="M1631.5,1150.1 L1642.0,1182.2" stroke="#000" stroke-width="1.50" stroke-linecap="round"/>
<path d="M1642.0,1182.2 L1640.5,1208.8" stroke="#000" stroke-width="1.50" stroke-linecap="round"/>
<path d="M1640.5,1208.8 L1629.7,1227.1" stroke="#000" stroke-width="2.55" stroke-linecap="round"/>
<path d="M1629.7,1227.1 L1611.2,1234.7" stroke="#000" stroke-width="2.55" stroke-linecap="round"/>
<path d="M1611.2,1234.7 L1587.7,1229.2" stroke="#000" stroke-width="1.50" stroke-linecap="round"/>
<path d="M1587.7,1229.2 L1563.3,1213.7" stroke="#000" stroke-width="1.50" stroke-linecap="round"/>
<path d="M1563.3,1213.7 L1537.9,1187.7" stroke="#000" stroke-width="1.50" stroke-linecap="round"/>
<path d="M1537.9,1187.7 L1520.5,1158.7" stroke="#000" stroke-width="1.50" stroke-linecap="round"/>
<path d="M1520.5,1158.7 L1511.0,1118.9" stroke="#000" stroke-width="1.50" stroke-linecap="round"/>
<path d="M1511.0,1118.9 L1519.2,1088.0" stroke="#000" stroke-width="1.50" stroke-linecap="round"/>
<path d="M1519.2,1088.0 L1543.2,1076.6" stroke="#000" stroke-width="2.55" stroke-linecap="round"/>
<path d="M1543.2,1076.6 L1536.9,1080.6" stroke="#000" stroke-width="1.2"/>
<path d="M1631.5,1150.1 L1625.2,1154.1" stroke="#000" stroke-width="1.2"/>
<path d="M1611.2,1234.7 L1604.9,1238.7" stroke="#000" stroke-width="1.2"/>
<path d="M1520.5,1158.7 L1514.2,1162.7" stroke="#000" stroke-width="1.2"/>
<polygon points="1575.2,1149.0 1793.3,1157.6 1795.8,1159.3 1793.0,1162.9 1785.5,1167.5 1778.3,1170.5 1776.2,1170.3 1580.1,1161.9 1575.7,1158.7 1573.3,1154.9 1573.0,1151.1" fill="none" stroke="#000" stroke-width="1.8" stroke-linejoin="round"/>
<polygon points="1578.5,1152.3 1790.0,1160.5 1779.0,1166.9 1582.0,1158.1 1578.0,1155.1" fill="none" stroke="#000" stroke-width="1.6" stroke-linejoin="round"/>
</g>
<path d="M1161.7,898.9 L1165.6,900.0" stroke="#2424a8" stroke-width="1.5" stroke-linecap="round"/>
<path d="M1165.6,900.0 L1169.5,901.0" stroke="#2424a8" stroke-width="1.5" stroke-linecap="round"/>
<path d="M1169.5,901.0 L1173.4,902.1" stroke="#2424a8" stroke-width="1.5" stroke-linecap="round"/>
<path d="M1173.4,902.1 L1177.4,903.1" stroke="#2424a8" stroke-width="1.5" stroke-linecap="round"/>
<path d="M1177.4,903.1 L1181.3,904.2" stroke="#2424a8" stroke-width="1.5" stroke-linecap="round"/>
<path d="M1181.3,904.2 L1185.2,905.2" stroke="#2424a8" stroke-width="1.5" stroke-linecap="round"/>
<path d="M1185.2,905.2 L1189.1,906.3" stroke="#2424a8" stroke-width="1.5" stroke-linecap="round"/>
<path d="M1189.1,906.3 L1193.0,907.4" stroke="#2424a8" stroke-width="1.5" stroke-linecap="round"/>
<path d="M1193.0,907.4 L1196.9,908.4" stroke="#2424a8" stroke-width="1.5" stroke-linecap="round"/>
<path d="M1196.9,908.4 L1200.8,909.5" stroke="#2424a8" stroke-width="1.5" stroke-linecap="round"/>
<path d="M1200.8,909.5 L1204.7,910.6" stroke="#2424a8" stroke-width="1.5" stroke-linecap="round"/>
<path d="M1204.7,910.6 L1208.7,911.7" stroke="#2424a8" stroke-width="1.5" stroke-linecap="round"/>
<path d="M1208.7,911.7 L1212.6,912.7" stroke="#2424a8" stroke-width="1.5" stroke-linecap="round"/>
<path d="M1212.6,912.7 L1216.5,913.8" stroke="#2424a8" stroke-width="1.5" stroke-linecap="round"/>
<path d="M1216.5,913.8 L1221.0,914.7" stroke="#2527ae" stroke-width="1.5" stroke-linecap="round"/>
<path d="M1221.0,914.7 L1225.4,915.6" stroke="#272db9" stroke-width="1.5" stroke-linecap="round"/>
<path d="M1225.4,915.6 L1229.9,916.5" stroke="#2834c5" stroke-width="1.5" stroke-linecap="round"/>
<path d="M1229.9,916.5 L1234.4,917.4" stroke="#2a3ad0" stroke-width="1.5" stroke-linecap="round"/>
<path d="M1234.4,917.4 L1238.8,918.3" stroke="#2c40db" stroke-width="1.5" stroke-linecap="round"/>
<path d="M1238.8,918.3 L1243.3,919.2" stroke="#2d47e7" stroke-width="1.5" stroke-linecap="round"/>
<path d="M1243.3,919.2 L1247.8,920.1" stroke="#2f4df2" stroke-width="1.5" stroke-linecap="round"/>
<path d="M1247.8,920.1 L1252.1,920.7" stroke="#3050f8" stroke-width="1.5" stroke-linecap="round"/>
<path d="M1252.1,920.7 L1256.5,921.3" stroke="#3050f8" stroke-width="1.5" stroke-linecap="round"/>
<path d="M1256.5,921.3 L1260.9,922.0" stroke="#3050f8" stroke-width="1.5" stroke-linecap="round"/>
<path d="M1260.9,922.0 L1265.2,922.6" stroke="#3050f8" stroke-width="1.5" stroke-linecap="round"/>
<path d="M1265.2,922.6 L1269.6,923.2" stroke="#3050f8" stroke-width="1.5" stroke-linecap="round"/>
<path d="M1269.6,923.2 L1273.9,923.8" stroke="#3050f8" stroke-width="1.5" stroke-linecap="round"/>
<path d="M1273.9,923.8 L1278.3,924.5" stroke="#3050f8" stroke-width="1.5" stroke-linecap="round"/>
<path d="M1278.3,924.5 L1282.3,925.2" stroke="#3057f9" stroke-width="1.5" stroke-linecap="round"/>
<path d="M1282.3,925.2 L1286.4,925.9" stroke="#3064fa" stroke-width="1.5" stroke-linecap="round"/>
<path d="M1286.4,925.9 L1290.4,926.6" stroke="#3071fb" stroke-width="1.5" stroke-linecap="round"/>
<path d="M1290.4,926.6 L1294.5,927.3" stroke="#307ffc" stroke-width="1.5" stroke-linecap="round"/>
<path d="M1294.5,927.3 L1298.5,928.0" stroke="#308cfd" stroke-width="1.5" stroke-linecap="round"/>
<path d="M1298.5,928.0 L1302.5,928.7" stroke="#3099fe" stroke-width="1.5" stroke-linecap="round"/>
<path d="M1302.5,928.7 L1306.5,929.7" stroke="#31a6fd" stroke-width="1.5" stroke-linecap="round"/>
<path d="M1306.5,929.7 L1310.4,930.8" stroke="#32b2f9" stroke-width="1.5" stroke-linecap="round"/>
<path d="M1310.4,930.8 L1314.3,931.8" stroke="#33bef5" stroke-width="1.5" stroke-linecap="round"/>
<path d="M1314.3,931.8 L1318.2,932.9" stroke="#35caf2" stroke-width="1.5" stroke-linecap="round"/>
<path d="M1318.2,932.9 L1322.1,933.9" stroke="#36d6ee" stroke-width="1.5" stroke-linecap="round"/>
<path d="M1322.1,933.9 L1326.0,934.9" stroke="#37e2ea" stroke-width="1.5" stroke-linecap="round"/>
<path d="M1326.0,934.9 L1330.1,936.5" stroke="#3eeadf" stroke-width="1.5" stroke-linecap="round"/>
<path d="M1330.1,936.5 L1334.2,938.1" stroke="#49edce" stroke-width="1.5" stroke-linecap="round"/>
<path d="M1334.2,938.1 L1338.2,939.6" stroke="#54f0bc" stroke-width="1.5" stroke-linecap="round"/>
<path d="M1338.2,939.6 L1342.3,941.2" stroke="#5ff3aa" stroke-width="1.5" stroke-linecap="round"/>
<path d="M1342.3,941.2 L1346.4,942.8" stroke="#6af699" stroke-width="1.5" stroke-linecap="round"/>
<path d="M1346.4,942.8 L1350.1,944.5" stroke="#7cf482" stroke-width="1.5" stroke-linecap="round"/>
<path d="M1350.1,944.5 L1353.9,946.2" stroke="#95ec65" stroke-width="1.5" stroke-linecap="round"/>
<path d="M1353.9,946.2 L1357.6,947.9" stroke="#aee448" stroke-width="1.5" stroke-linecap="round"/>
<path d="M1357.6,947.9 L1361.4,949.6" stroke="#c7dc2b" stroke-width="1.5" stroke-linecap="round"/>
<path d="M1361.4,949.6 L1365.1,951.4" stroke="#e0d40e" stroke-width="1.5" stroke-linecap="round"/>
<path d="M1365.1,951.4 L1368.9,953.1" stroke="#ecc600" stroke-width="1.5" stroke-linecap="round"/>
<path d="M1368.9,953.1 L1372.6,954.9" stroke="#eeb200" stroke-width="1.5" stroke-linecap="round"/>
<path d="M1372.6,954.9 L1376.3,956.7" stroke="#ee9e00" stroke-width="1.5" stroke-linecap="round"/>
<path d="M1376.3,956.7 L1380.0,958.4" stroke="#f08a00" stroke-width="1.5" stroke-linecap="round"/>
<path d="M1255.6,903.6 L1259.5,904.6" stroke="#2528af" stroke-width="1.5" stroke-linecap="round"/>
<path d="M1259.5,904.6 L1263.4,905.5" stroke="#272fbc" stroke-width="1.5" stroke-linecap="round"/>
<path d="M1263.4,905.5 L1267.3,906.4" stroke="#2936c9" stroke-width="1.5" stroke-linecap="round"/>
<path d="M1267.3,906.4 L1271.2,907.3" stroke="#2b3ed7" stroke-width="1.5" stroke-linecap="round"/>
<path d="M1271.2,907.3 L1275.2,908.2" stroke="#2d45e4" stroke-width="1.5" stroke-linecap="round"/>
<path d="M1275.2,908.2 L1279.1,909.1" stroke="#2f4cf1" stroke-width="1.5" stroke-linecap="round"/>
<path d="M1279.1,909.1 L1283.3,910.1" stroke="#3050f8" stroke-width="1.5" stroke-linecap="round"/>
<path d="M1283.3,910.1 L1287.6,911.0" stroke="#3050f8" stroke-width="1.5" stroke-linecap="round"/>
<path d="M1287.6,911.0 L1291.8,911.9" stroke="#3050f8" stroke-width="1.5" stroke-linecap="round"/>
<path d="M1291.8,911.9 L1296.1,912.9" stroke="#3050f8" stroke-width="1.5" stroke-linecap="round"/>
<path d="M1296.1,912.9 L1300.3,913.8" stroke="#3050f8" stroke-width="1.5" stroke-linecap="round"/>
<path d="M1300.3,913.8 L1304.6,914.8" stroke="#3050f8" stroke-width="1.5" stroke-linecap="round"/>
<path d="M1304.6,914.8 L1308.8,915.7" stroke="#3050f8" stroke-width="1.5" stroke-linecap="round"/>
<path d="M1308.8,915.7 L1312.9,916.2" stroke="#3055f8" stroke-width="1.5" stroke-linecap="round"/>
<path d="M1312.9,916.2 L1317.0,916.7" stroke="#305ff9" stroke-width="1.5" stroke-linecap="round"/>
<path d="M1317.0,916.7 L1321.1,917.2" stroke="#3069fa" stroke-width="1.5" stroke-linecap="round"/>
<path d="M1321.1,917.2 L1325.2,917.7" stroke="#3073fb" stroke-width="1.5" stroke-linecap="round"/>
<path d="M1325.2,917.7 L1329.3,918.2" stroke="#307dfc" stroke-width="1.5" stroke-linecap="round"/>
<path d="M1329.3,918.2 L1333.4,918.7" stroke="#3087fd" stroke-width="1.5" stroke-linecap="round"/>
<path d="M1333.4,918.7 L1337.6,919.3" stroke="#3091fe" stroke-width="1.5" stroke-linecap="round"/>
<path d="M1337.6,919.3 L1341.7,919.8" stroke="#309bff" stroke-width="1.5" stroke-linecap="round"/>
<path d="M1340.0,915.4 L1344.5,916.0" stroke="#3056f8" stroke-width="1.5" stroke-linecap="round"/>
<path d="M1344.5,916.0 L1348.9,916.7" stroke="#3061fa" stroke-width="1.5" stroke-linecap="round"/>
<path d="M1348.9,916.7 L1353.4,917.4" stroke="#306dfa" stroke-width="1.5" stroke-linecap="round"/>
<path d="M1353.4,917.4 L1357.9,918.1" stroke="#3078fc" stroke-width="1.5" stroke-linecap="round"/>
<path d="M1357.9,918.1 L1362.4,918.7" stroke="#3083fc" stroke-width="1.5" stroke-linecap="round"/>
<path d="M1362.4,918.7 L1366.8,919.4" stroke="#308ffe" stroke-width="1.5" stroke-linecap="round"/>
<path d="M1366.8,919.4 L1371.3,920.1" stroke="#309afe" stroke-width="1.5" stroke-linecap="round"/>
<path d="M1371.3,920.1 L1375.7,920.9" stroke="#31a6fd" stroke-width="1.5" stroke-linecap="round"/>
<path d="M1375.7,920.9 L1380.2,921.6" stroke="#32b2f9" stroke-width="1.5" stroke-linecap="round"/>
<path d="M1380.2,921.6 L1384.6,922.4" stroke="#33bef5" stroke-width="1.5" stroke-linecap="round"/>
<path d="M1384.6,922.4 L1389.0,923.2" stroke="#35caf2" stroke-width="1.5" stroke-linecap="round"/>
<path d="M1389.0,923.2 L1393.5,924.0" stroke="#36d6ee" stroke-width="1.5" stroke-linecap="round"/>
<path d="M1393.5,924.0 L1397.9,924.8" stroke="#37e2ea" stroke-width="1.5" stroke-linecap="round"/>
<path d="M1397.9,924.8 L1402.6,925.9" stroke="#5aeab8" stroke-width="1.5" stroke-linecap="round"/>
<path d="M1402.6,925.9 L1407.3,927.1" stroke="#9eee58" stroke-width="1.5" stroke-linecap="round"/>
<path d="M1435.5,935.7 L1440.1,937.3" stroke="#b3f139" stroke-width="1.3" stroke-linecap="round"/>
<path d="M1440.1,937.3 L1444.8,938.9" stroke="#98f45c" stroke-width="1.3" stroke-linecap="round"/>
<path d="M1444.8,938.9 L1449.5,940.4" stroke="#7df77f" stroke-width="1.3" stroke-linecap="round"/>
<path d="M1449.5,940.4 L1454.2,942.4" stroke="#8fee6c" stroke-width="1.3" stroke-linecap="round"/>
<path d="M1454.2,942.4 L1458.9,944.3" stroke="#cdda24" stroke-width="1.3" stroke-linecap="round"/>
<path d="M1487.1,960.0 L1491.8,963.5" stroke="#edbc00" stroke-width="1.3" stroke-linecap="round"/>
<path d="M1491.8,963.5 L1496.5,967.0" stroke="#ef9400" stroke-width="1.3" stroke-linecap="round"/>
<path d="M1496.5,967.0 L1499.1,970.4" stroke="#ee7700" stroke-width="1.3" stroke-linecap="round"/>
<path d="M1499.1,970.4 L1501.7,973.8" stroke="#e96400" stroke-width="1.3" stroke-linecap="round"/>
<path d="M1501.7,973.8 L1504.3,977.2" stroke="#e45100" stroke-width="1.3" stroke-linecap="round"/>
<path d="M1504.3,977.2 L1506.9,980.6" stroke="#e03f00" stroke-width="1.3" stroke-linecap="round"/>
<path d="M1506.9,980.6 L1509.5,984.0" stroke="#db2c00" stroke-width="1.3" stroke-linecap="round"/>
<path d="M1509.5,984.0 L1512.1,987.4" stroke="#d61900" stroke-width="1.3" stroke-linecap="round"/>
<path d="M1512.1,987.4 L1514.3,991.4" stroke="#cf0e00" stroke-width="1.3" stroke-linecap="round"/>
<path d="M1514.3,991.4 L1516.5,995.5" stroke="#c60b00" stroke-width="1.3" stroke-linecap="round"/>
<path d="M1516.5,995.5 L1518.7,999.6" stroke="#bc0800" stroke-width="1.3" stroke-linecap="round"/>
<path d="M1518.7,999.6 L1520.9,1003.6" stroke="#b20500" stroke-width="1.3" stroke-linecap="round"/>
<path d="M1520.9,1003.6 L1523.1,1007.7" stroke="#a90200" stroke-width="1.3" stroke-linecap="round"/>
<path d="M1523.1,1007.7 L1525.2,1011.4" stroke="#a40000" stroke-width="1.3" stroke-linecap="round"/>
<path d="M1525.2,1011.4 L1527.3,1015.0" stroke="#a40000" stroke-width="1.3" stroke-linecap="round"/>
<path d="M1527.3,1015.0 L1529.3,1018.7" stroke="#a40000" stroke-width="1.3" stroke-linecap="round"/>
<path d="M1286.9,901.3 L1290.5,903.9" stroke="#31acfb" stroke-width="1.4" stroke-linecap="round"/>
<path d="M1290.5,903.9 L1294.2,906.5" stroke="#34c4f4" stroke-width="1.4" stroke-linecap="round"/>
<path d="M1294.2,906.5 L1297.8,909.1" stroke="#37dcec" stroke-width="1.4" stroke-linecap="round"/>
<path d="M1297.8,909.1 L1300.8,912.5" stroke="#38e8e8" stroke-width="1.4" stroke-linecap="round"/>
<path d="M1300.8,912.5 L1303.7,915.8" stroke="#38e8e8" stroke-width="1.4" stroke-linecap="round"/>
<path d="M1303.7,915.8 L1306.6,919.2" stroke="#38e8e8" stroke-width="1.4" stroke-linecap="round"/>
<path d="M1306.6,919.2 L1309.5,922.5" stroke="#38e8e8" stroke-width="1.4" stroke-linecap="round"/>
<path d="M1309.5,922.5 L1312.4,925.9" stroke="#38e8e8" stroke-width="1.4" stroke-linecap="round"/>
<path d="M1312.4,925.9 L1315.3,929.2" stroke="#38e8e8" stroke-width="1.4" stroke-linecap="round"/>
<path d="M1315.3,929.2 L1318.2,932.6" stroke="#38e8e8" stroke-width="1.4" stroke-linecap="round"/>
<path d="M1318.2,932.6 L1320.4,935.9" stroke="#3ce9e2" stroke-width="1.4" stroke-linecap="round"/>
<path d="M1320.4,935.9 L1322.7,939.3" stroke="#44ebd5" stroke-width="1.4" stroke-linecap="round"/>
<path d="M1322.7,939.3 L1324.9,942.7" stroke="#4ceec9" stroke-width="1.4" stroke-linecap="round"/>
<path d="M1324.9,942.7 L1327.1,946.0" stroke="#54f0bc" stroke-width="1.4" stroke-linecap="round"/>
<path d="M1327.1,946.0 L1329.4,949.4" stroke="#5cf2af" stroke-width="1.4" stroke-linecap="round"/>
<path d="M1329.4,949.4 L1331.6,952.7" stroke="#64f5a3" stroke-width="1.4" stroke-linecap="round"/>
<path d="M1331.6,952.7 L1333.8,956.1" stroke="#6cf796" stroke-width="1.4" stroke-linecap="round"/>
<path d="M1333.8,956.1 L1336.1,959.4" stroke="#76f789" stroke-width="1.4" stroke-linecap="round"/>
<path d="M1336.1,959.4 L1338.3,962.8" stroke="#81f67a" stroke-width="1.4" stroke-linecap="round"/>
<path d="M1338.3,962.8 L1340.5,966.1" stroke="#8df56b" stroke-width="1.4" stroke-linecap="round"/>
<path d="M1340.5,966.1 L1342.8,969.5" stroke="#98f45c" stroke-width="1.4" stroke-linecap="round"/>
<path d="M1342.8,969.5 L1345.0,972.8" stroke="#a3f34d" stroke-width="1.4" stroke-linecap="round"/>
<path d="M1345.0,972.8 L1347.3,976.2" stroke="#aff23e" stroke-width="1.4" stroke-linecap="round"/>
<path d="M1347.3,976.2 L1349.5,979.5" stroke="#baf12f" stroke-width="1.4" stroke-linecap="round"/>
<path d="M1349.5,979.5 L1352.1,982.7" stroke="#c4ed25" stroke-width="1.4" stroke-linecap="round"/>
<path d="M1352.1,982.7 L1354.7,985.8" stroke="#cbe81e" stroke-width="1.4" stroke-linecap="round"/>
<path d="M1354.7,985.8 L1357.3,988.9" stroke="#d2e317" stroke-width="1.4" stroke-linecap="round"/>
<path d="M1357.3,988.9 L1359.9,992.1" stroke="#dadd11" stroke-width="1.4" stroke-linecap="round"/>
<path d="M1359.9,992.1 L1362.5,995.2" stroke="#e1d80a" stroke-width="1.4" stroke-linecap="round"/>
<path d="M1362.5,995.2 L1365.1,998.3" stroke="#e8d303" stroke-width="1.4" stroke-linecap="round"/>
<path d="M1365.1,998.3 L1368.1,1001.8" stroke="#ecc800" stroke-width="1.4" stroke-linecap="round"/>
<path d="M1368.1,1001.8 L1371.1,1005.2" stroke="#edb800" stroke-width="1.4" stroke-linecap="round"/>
<path d="M1371.1,1005.2 L1374.1,1008.6" stroke="#eea800" stroke-width="1.4" stroke-linecap="round"/>
<path d="M1374.1,1008.6 L1377.0,1012.1" stroke="#ef9800" stroke-width="1.4" stroke-linecap="round"/>
<path d="M1377.0,1012.1 L1380.0,1015.5" stroke="#f08800" stroke-width="1.4" stroke-linecap="round"/>
<path d="M1379.9,1015.5 L1382.8,1019.4" stroke="#ef7700" stroke-width="1.3" stroke-linecap="round"/>
<path d="M1382.8,1019.4 L1385.8,1023.3" stroke="#ed6500" stroke-width="1.3" stroke-linecap="round"/>
<path d="M1385.8,1023.3 L1388.7,1027.3" stroke="#eb5300" stroke-width="1.3" stroke-linecap="round"/>
<path d="M1388.7,1027.3 L1391.6,1031.2" stroke="#e94100" stroke-width="1.3" stroke-linecap="round"/>
<path d="M1391.6,1031.2 L1394.8,1034.3" stroke="#e83800" stroke-width="1.3" stroke-linecap="round"/>
<path d="M1340.9,934.2 L1346.7,934.9" stroke="#2424a8" stroke-width="1.6" stroke-linecap="round"/>
<path d="M1346.7,934.9 L1352.6,935.7" stroke="#2424a8" stroke-width="1.6" stroke-linecap="round"/>
<path d="M1352.6,935.7 L1357.2,935.3" stroke="#2424a8" stroke-width="1.6" stroke-linecap="round"/>
<path d="M1357.2,935.3 L1361.7,934.9" stroke="#2424a8" stroke-width="1.6" stroke-linecap="round"/>
<path d="M1361.7,934.9 L1366.3,934.5" stroke="#2424a8" stroke-width="1.6" stroke-linecap="round"/>
<path d="M1366.3,934.5 L1370.9,934.2" stroke="#2424a8" stroke-width="1.6" stroke-linecap="round"/>
<path d="M1370.9,934.2 L1375.4,933.8" stroke="#2424a8" stroke-width="1.6" stroke-linecap="round"/>
<path d="M1375.4,933.8 L1380.0,933.4" stroke="#2424a8" stroke-width="1.6" stroke-linecap="round"/>
<path d="M1379.9,933.4 L1387.7,934.2" stroke="#2a3ad0" stroke-width="1.6" stroke-linecap="round"/>
<path d="M1387.7,934.2 L1392.3,934.3" stroke="#3050f8" stroke-width="1.6" stroke-linecap="round"/>
<path d="M1392.3,934.3 L1396.8,934.5" stroke="#3050f8" stroke-width="1.6" stroke-linecap="round"/>
<path d="M1396.8,934.5 L1401.3,934.6" stroke="#3050f8" stroke-width="1.6" stroke-linecap="round"/>
<path d="M1401.3,934.6 L1405.9,934.8" stroke="#3050f8" stroke-width="1.6" stroke-linecap="round"/>
<path d="M1405.9,934.8 L1410.4,934.9" stroke="#3050f8" stroke-width="1.6" stroke-linecap="round"/>
<path d="M1410.4,934.9 L1415.1,935.4" stroke="#3058f9" stroke-width="1.6" stroke-linecap="round"/>
<path d="M1415.1,935.4 L1419.8,935.9" stroke="#3068fa" stroke-width="1.6" stroke-linecap="round"/>
<path d="M1419.8,935.9 L1424.5,936.3" stroke="#3078fc" stroke-width="1.6" stroke-linecap="round"/>
<path d="M1424.5,936.3 L1429.2,936.8" stroke="#3088fd" stroke-width="1.6" stroke-linecap="round"/>
<path d="M1429.2,936.8 L1433.9,937.3" stroke="#3098fe" stroke-width="1.6" stroke-linecap="round"/>
<path d="M1433.9,937.3 L1438.6,938.7" stroke="#31a9fc" stroke-width="1.6" stroke-linecap="round"/>
<path d="M1438.6,938.7 L1443.3,940.0" stroke="#33bbf6" stroke-width="1.6" stroke-linecap="round"/>
<path d="M1443.3,940.0 L1448.0,941.4" stroke="#35cdf1" stroke-width="1.6" stroke-linecap="round"/>
<path d="M1448.0,941.4 L1452.7,942.8" stroke="#37dfeb" stroke-width="1.6" stroke-linecap="round"/>
<path d="M1260.3,963.1 L1264.7,962.5" stroke="#2528af" stroke-width="1.6" stroke-linecap="round"/>
<path d="M1264.7,962.5 L1269.2,961.8" stroke="#272fbc" stroke-width="1.6" stroke-linecap="round"/>
<path d="M1269.2,961.8 L1273.6,961.1" stroke="#2936c9" stroke-width="1.6" stroke-linecap="round"/>
<path d="M1273.6,961.1 L1278.0,960.5" stroke="#2b3ed7" stroke-width="1.6" stroke-linecap="round"/>
<path d="M1278.0,960.5 L1282.5,959.8" stroke="#2d45e4" stroke-width="1.6" stroke-linecap="round"/>
<path d="M1282.5,959.8 L1286.9,959.2" stroke="#2f4cf1" stroke-width="1.6" stroke-linecap="round"/>
<path d="M1286.9,959.2 L1291.6,958.8" stroke="#3058f9" stroke-width="1.6" stroke-linecap="round"/>
<path d="M1291.6,958.8 L1296.3,958.4" stroke="#3068fa" stroke-width="1.6" stroke-linecap="round"/>
<path d="M1296.3,958.4 L1301.0,958.1" stroke="#3078fc" stroke-width="1.6" stroke-linecap="round"/>
<path d="M1301.0,958.1 L1305.7,957.7" stroke="#3088fd" stroke-width="1.6" stroke-linecap="round"/>
<path d="M1305.7,957.7 L1310.4,957.3" stroke="#3098fe" stroke-width="1.6" stroke-linecap="round"/>
<path d="M1310.4,957.3 L1314.8,957.1" stroke="#30a0ff" stroke-width="1.6" stroke-linecap="round"/>
<path d="M1314.8,957.1 L1319.3,957.0" stroke="#30a0ff" stroke-width="1.6" stroke-linecap="round"/>
<path d="M1319.3,957.0 L1323.8,956.8" stroke="#30a0ff" stroke-width="1.6" stroke-linecap="round"/>
<path d="M1323.8,956.8 L1328.3,956.6" stroke="#30a0ff" stroke-width="1.6" stroke-linecap="round"/>
<path d="M1328.3,956.6 L1332.7,956.4" stroke="#30a0ff" stroke-width="1.6" stroke-linecap="round"/>
<path d="M1332.7,956.4 L1337.2,956.2" stroke="#30a0ff" stroke-width="1.6" stroke-linecap="round"/>
<path d="M1337.2,956.2 L1341.7,956.1" stroke="#30a0ff" stroke-width="1.6" stroke-linecap="round"/>
<path d="M1341.7,956.1 L1346.9,956.6" stroke="#48addb" stroke-width="1.6" stroke-linecap="round"/>
<path d="M1346.9,956.6 L1352.1,957.1" stroke="#78c894" stroke-width="1.6" stroke-linecap="round"/>
<path d="M1352.1,957.1 L1357.3,957.6" stroke="#a8e34c" stroke-width="1.6" stroke-linecap="round"/>
<path d="M1357.3,957.6 L1361.6,958.0" stroke="#c6ec23" stroke-width="1.6" stroke-linecap="round"/>
<path d="M1361.6,958.0 L1365.9,958.4" stroke="#d0e419" stroke-width="1.6" stroke-linecap="round"/>
<path d="M1365.9,958.4 L1370.2,958.8" stroke="#dcdc0f" stroke-width="1.6" stroke-linecap="round"/>
<path d="M1370.2,958.8 L1374.5,959.2" stroke="#e6d405" stroke-width="1.6" stroke-linecap="round"/>
<path d="M1157.0,976.4 L1161.0,975.3" stroke="#2527ae" stroke-width="1.6" stroke-linecap="round"/>
<path d="M1161.0,975.3 L1165.1,974.2" stroke="#272db9" stroke-width="1.6" stroke-linecap="round"/>
<path d="M1165.1,974.2 L1169.1,973.1" stroke="#2834c5" stroke-width="1.6" stroke-linecap="round"/>
<path d="M1169.1,973.1 L1173.1,971.9" stroke="#2a3ad0" stroke-width="1.6" stroke-linecap="round"/>
<path d="M1173.1,971.9 L1177.1,970.8" stroke="#2c40db" stroke-width="1.6" stroke-linecap="round"/>
<path d="M1177.1,970.8 L1181.2,969.7" stroke="#2d47e7" stroke-width="1.6" stroke-linecap="round"/>
<path d="M1181.2,969.7 L1185.2,968.6" stroke="#2f4df2" stroke-width="1.6" stroke-linecap="round"/>
<path d="M1185.2,968.6 L1189.7,968.2" stroke="#3050f8" stroke-width="1.6" stroke-linecap="round"/>
<path d="M1189.7,968.2 L1194.1,967.8" stroke="#3050f8" stroke-width="1.6" stroke-linecap="round"/>
<path d="M1194.1,967.8 L1198.6,967.4" stroke="#3050f8" stroke-width="1.6" stroke-linecap="round"/>
<path d="M1198.6,967.4 L1203.1,967.0" stroke="#3050f8" stroke-width="1.6" stroke-linecap="round"/>
<path d="M1203.1,967.0 L1207.5,966.6" stroke="#3050f8" stroke-width="1.6" stroke-linecap="round"/>
<path d="M1207.5,966.6 L1212.0,966.2" stroke="#3050f8" stroke-width="1.6" stroke-linecap="round"/>
<path d="M1212.0,966.2 L1216.5,965.8" stroke="#3050f8" stroke-width="1.6" stroke-linecap="round"/>
<path d="M1216.5,965.8 L1221.0,966.1" stroke="#3056f8" stroke-width="1.6" stroke-linecap="round"/>
<path d="M1221.0,966.1 L1225.4,966.3" stroke="#3061fa" stroke-width="1.6" stroke-linecap="round"/>
<path d="M1225.4,966.3 L1229.9,966.6" stroke="#306dfa" stroke-width="1.6" stroke-linecap="round"/>
<path d="M1229.9,966.6 L1234.4,966.9" stroke="#3078fc" stroke-width="1.6" stroke-linecap="round"/>
<path d="M1234.4,966.9 L1238.8,967.2" stroke="#3083fc" stroke-width="1.6" stroke-linecap="round"/>
<path d="M1238.8,967.2 L1243.3,967.5" stroke="#308ffe" stroke-width="1.6" stroke-linecap="round"/>
<path d="M1243.3,967.5 L1247.8,967.8" stroke="#309afe" stroke-width="1.6" stroke-linecap="round"/>
<path d="M1247.8,967.8 L1252.5,968.4" stroke="#31a9fc" stroke-width="1.6" stroke-linecap="round"/>
<path d="M1252.5,968.4 L1257.2,969.0" stroke="#33bbf6" stroke-width="1.6" stroke-linecap="round"/>
<path d="M1257.2,969.0 L1261.9,969.6" stroke="#35cdf1" stroke-width="1.6" stroke-linecap="round"/>
<path d="M1261.9,969.6 L1266.6,970.1" stroke="#37dfeb" stroke-width="1.6" stroke-linecap="round"/>
<path d="M1266.6,970.1 L1270.6,971.4" stroke="#38e8e8" stroke-width="1.6" stroke-linecap="round"/>
<path d="M1270.6,971.4 L1274.7,972.7" stroke="#38e8e8" stroke-width="1.6" stroke-linecap="round"/>
<path d="M1274.7,972.7 L1278.8,973.9" stroke="#38e8e8" stroke-width="1.6" stroke-linecap="round"/>
<path d="M1278.8,973.9 L1282.8,975.2" stroke="#38e8e8" stroke-width="1.6" stroke-linecap="round"/>
<path d="M1282.8,975.2 L1286.9,976.4" stroke="#38e8e8" stroke-width="1.6" stroke-linecap="round"/>
<path d="M1286.9,976.4 L1290.8,978.0" stroke="#49e9d0" stroke-width="1.6" stroke-linecap="round"/>
<path d="M1290.8,978.0 L1294.7,979.5" stroke="#6beba0" stroke-width="1.6" stroke-linecap="round"/>
<path d="M1294.7,979.5 L1298.6,981.1" stroke="#8ded70" stroke-width="1.6" stroke-linecap="round"/>
<path d="M1298.6,981.1 L1302.5,982.7" stroke="#afef40" stroke-width="1.6" stroke-linecap="round"/>
<path d="M1302.5,982.7 L1306.5,985.4" stroke="#c6ec23" stroke-width="1.6" stroke-linecap="round"/>
<path d="M1306.5,985.4 L1310.4,988.1" stroke="#d0e419" stroke-width="1.6" stroke-linecap="round"/>
<path d="M1310.4,988.1 L1314.3,990.9" stroke="#dcdc0f" stroke-width="1.6" stroke-linecap="round"/>
<path d="M1314.3,990.9 L1318.2,993.6" stroke="#e6d405" stroke-width="1.6" stroke-linecap="round"/>
<path d="M1318.2,993.6 L1321.3,996.1" stroke="#ecc800" stroke-width="1.6" stroke-linecap="round"/>
<path d="M1321.3,996.1 L1324.4,998.6" stroke="#edb800" stroke-width="1.6" stroke-linecap="round"/>
<path d="M1324.4,998.6 L1327.6,1001.1" stroke="#eea800" stroke-width="1.6" stroke-linecap="round"/>
<path d="M1327.6,1001.1 L1330.7,1003.6" stroke="#ef9800" stroke-width="1.6" stroke-linecap="round"/>
<path d="M1330.7,1003.6 L1333.8,1006.1" stroke="#f08800" stroke-width="1.6" stroke-linecap="round"/>
<path d="M1333.8,1006.1 L1337.0,1008.6" stroke="#ef7900" stroke-width="1.6" stroke-linecap="round"/>
<path d="M1337.0,1008.6 L1340.1,1011.1" stroke="#ee6a00" stroke-width="1.6" stroke-linecap="round"/>
<path d="M1340.1,1011.1 L1343.2,1013.6" stroke="#ec5c00" stroke-width="1.6" stroke-linecap="round"/>
<path d="M1343.2,1013.6 L1346.4,1016.2" stroke="#ea4e00" stroke-width="1.6" stroke-linecap="round"/>
<path d="M1346.4,1016.2 L1349.5,1018.7" stroke="#e93f00" stroke-width="1.6" stroke-linecap="round"/>
<path d="M1349.5,1018.7 L1353.4,1022.6" stroke="#e32e00" stroke-width="1.6" stroke-linecap="round"/>
<path d="M1353.4,1022.6 L1357.3,1026.5" stroke="#d91a00" stroke-width="1.6" stroke-linecap="round"/>
<path d="M1227.4,1049.2 L1231.5,1047.1" stroke="#31a7fd" stroke-width="1.5" stroke-linecap="round"/>
<path d="M1231.5,1047.1 L1235.6,1045.1" stroke="#32b6f8" stroke-width="1.5" stroke-linecap="round"/>
<path d="M1235.6,1045.1 L1239.6,1043.1" stroke="#34c4f4" stroke-width="1.5" stroke-linecap="round"/>
<path d="M1239.6,1043.1 L1243.7,1041.0" stroke="#36d2ef" stroke-width="1.5" stroke-linecap="round"/>
<path d="M1243.7,1041.0 L1247.8,1039.0" stroke="#37e1ea" stroke-width="1.5" stroke-linecap="round"/>
<path d="M1247.8,1039.0 L1251.7,1037.8" stroke="#49e9d0" stroke-width="1.5" stroke-linecap="round"/>
<path d="M1251.7,1037.8 L1255.6,1036.7" stroke="#6beba0" stroke-width="1.5" stroke-linecap="round"/>
<path d="M1255.6,1036.7 L1259.5,1035.5" stroke="#8ded70" stroke-width="1.5" stroke-linecap="round"/>
<path d="M1259.5,1035.5 L1263.4,1034.3" stroke="#afef40" stroke-width="1.5" stroke-linecap="round"/>
<path d="M1263.4,1034.3 L1268.1,1033.7" stroke="#c4ed24" stroke-width="1.5" stroke-linecap="round"/>
<path d="M1268.1,1033.7 L1272.8,1033.1" stroke="#cde61c" stroke-width="1.5" stroke-linecap="round"/>
<path d="M1272.8,1033.1 L1277.5,1032.4" stroke="#d6e014" stroke-width="1.5" stroke-linecap="round"/>
<path d="M1277.5,1032.4 L1282.2,1031.8" stroke="#dfda0c" stroke-width="1.5" stroke-linecap="round"/>
<path d="M1282.2,1031.8 L1286.9,1031.2" stroke="#e8d304" stroke-width="1.5" stroke-linecap="round"/>
<path d="M1286.9,1031.2 L1292.1,1030.9" stroke="#edc300" stroke-width="1.5" stroke-linecap="round"/>
<path d="M1292.1,1030.9 L1297.3,1030.7" stroke="#eea800" stroke-width="1.5" stroke-linecap="round"/>
<path d="M1297.3,1030.7 L1302.5,1030.4" stroke="#ef8d00" stroke-width="1.5" stroke-linecap="round"/>
<path d="M1349.5,1041.3 L1353.3,1043.0" stroke="#d10f00" stroke-width="1.3" stroke-linecap="round"/>
<path d="M1353.3,1043.0 L1357.1,1044.7" stroke="#cb0d00" stroke-width="1.3" stroke-linecap="round"/>
<path d="M1357.1,1044.7 L1360.9,1046.3" stroke="#c50b00" stroke-width="1.3" stroke-linecap="round"/>
<path d="M1360.9,1046.3 L1364.7,1048.0" stroke="#bf0900" stroke-width="1.3" stroke-linecap="round"/>
<path d="M1364.7,1048.0 L1368.6,1049.7" stroke="#b90700" stroke-width="1.3" stroke-linecap="round"/>
<path d="M1368.6,1049.7 L1372.4,1051.3" stroke="#b30500" stroke-width="1.3" stroke-linecap="round"/>
<path d="M1372.4,1051.3 L1376.2,1053.0" stroke="#ad0300" stroke-width="1.3" stroke-linecap="round"/>
<path d="M1376.2,1053.0 L1380.0,1054.6" stroke="#a70100" stroke-width="1.3" stroke-linecap="round"/>
<path d="M1319.8,1046.8 L1324.4,1044.7" stroke="#c7eb21" stroke-width="1.5" stroke-linecap="round"/>
<path d="M1324.4,1044.7 L1329.1,1042.6" stroke="#d6e014" stroke-width="1.5" stroke-linecap="round"/>
<path d="M1329.1,1042.6 L1333.8,1040.6" stroke="#e5d507" stroke-width="1.5" stroke-linecap="round"/>
<path d="M1333.8,1040.6 L1337.8,1039.0" stroke="#ecc600" stroke-width="1.5" stroke-linecap="round"/>
<path d="M1337.8,1039.0 L1341.7,1037.4" stroke="#eeb200" stroke-width="1.5" stroke-linecap="round"/>
<path d="M1341.7,1037.4 L1345.6,1035.9" stroke="#ee9e00" stroke-width="1.5" stroke-linecap="round"/>
<path d="M1345.6,1035.9 L1349.5,1034.3" stroke="#f08a00" stroke-width="1.5" stroke-linecap="round"/>
<path d="M1349.5,1034.3 L1353.4,1033.1" stroke="#f08000" stroke-width="1.5" stroke-linecap="round"/>
<path d="M1353.4,1033.1 L1357.3,1032.0" stroke="#f08000" stroke-width="1.5" stroke-linecap="round"/>
<path d="M1357.3,1032.0 L1361.2,1030.8" stroke="#f08000" stroke-width="1.5" stroke-linecap="round"/>
<path d="M1361.2,1030.8 L1365.1,1029.6" stroke="#f08000" stroke-width="1.5" stroke-linecap="round"/>
<path d="M1189.9,1088.3 L1193.6,1086.6" stroke="#31a7fd" stroke-width="1.5" stroke-linecap="round"/>
<path d="M1193.6,1086.6 L1197.4,1084.8" stroke="#32b6f8" stroke-width="1.5" stroke-linecap="round"/>
<path d="M1197.4,1084.8 L1201.1,1083.1" stroke="#34c4f4" stroke-width="1.5" stroke-linecap="round"/>
<path d="M1201.1,1083.1 L1204.9,1081.4" stroke="#36d2ef" stroke-width="1.5" stroke-linecap="round"/>
<path d="M1204.9,1081.4 L1208.7,1079.7" stroke="#37e1ea" stroke-width="1.5" stroke-linecap="round"/>
<path d="M1208.7,1079.7 L1212.6,1078.4" stroke="#43e9d8" stroke-width="1.5" stroke-linecap="round"/>
<path d="M1212.6,1078.4 L1216.5,1077.1" stroke="#5aeab8" stroke-width="1.5" stroke-linecap="round"/>
<path d="M1216.5,1077.1 L1220.4,1075.8" stroke="#71eb98" stroke-width="1.5" stroke-linecap="round"/>
<path d="M1220.4,1075.8 L1224.3,1074.5" stroke="#87ed78" stroke-width="1.5" stroke-linecap="round"/>
<path d="M1224.3,1074.5 L1228.2,1073.2" stroke="#9eee58" stroke-width="1.5" stroke-linecap="round"/>
<path d="M1228.2,1073.2 L1232.1,1071.9" stroke="#b5ef38" stroke-width="1.5" stroke-linecap="round"/>
<path d="M1232.1,1071.9 L1236.8,1071.5" stroke="#c4ed24" stroke-width="1.5" stroke-linecap="round"/>
<path d="M1236.8,1071.5 L1241.5,1071.2" stroke="#cde61c" stroke-width="1.5" stroke-linecap="round"/>
<path d="M1241.5,1071.2 L1246.2,1070.9" stroke="#d6e014" stroke-width="1.5" stroke-linecap="round"/>
<path d="M1246.2,1070.9 L1250.9,1070.6" stroke="#dfda0c" stroke-width="1.5" stroke-linecap="round"/>
<path d="M1250.9,1070.6 L1255.6,1070.3" stroke="#e8d304" stroke-width="1.5" stroke-linecap="round"/>
<path d="M1255.6,1070.3 L1260.3,1070.6" stroke="#ecc800" stroke-width="1.5" stroke-linecap="round"/>
<path d="M1260.3,1070.6 L1265.0,1070.9" stroke="#edb800" stroke-width="1.5" stroke-linecap="round"/>
<path d="M1265.0,1070.9 L1269.7,1071.2" stroke="#eea800" stroke-width="1.5" stroke-linecap="round"/>
<path d="M1269.7,1071.2 L1274.4,1071.5" stroke="#ef9800" stroke-width="1.5" stroke-linecap="round"/>
<path d="M1274.4,1071.5 L1279.1,1071.9" stroke="#f08800" stroke-width="1.5" stroke-linecap="round"/>
<path d="M1279.1,1071.9 L1283.8,1072.6" stroke="#ef7700" stroke-width="1.5" stroke-linecap="round"/>
<path d="M1283.8,1072.6 L1288.5,1073.4" stroke="#ed6500" stroke-width="1.5" stroke-linecap="round"/>
<path d="M1288.5,1073.4 L1293.2,1074.2" stroke="#eb5300" stroke-width="1.5" stroke-linecap="round"/>
<path d="M1293.2,1074.2 L1297.8,1075.0" stroke="#e94100" stroke-width="1.5" stroke-linecap="round"/>
<path d="M1415.1,955.3 L1419.8,954.3" stroke="#2424a8" stroke-width="1.5" stroke-linecap="round"/>
<path d="M1419.8,954.3 L1424.5,953.3" stroke="#2424a8" stroke-width="1.5" stroke-linecap="round"/>
<path d="M1424.5,953.3 L1429.2,952.3" stroke="#2424a8" stroke-width="1.5" stroke-linecap="round"/>
<path d="M1429.2,952.3 L1433.9,951.4" stroke="#2424a8" stroke-width="1.5" stroke-linecap="round"/>
<path d="M1433.9,951.4 L1438.6,950.6" stroke="#2528b0" stroke-width="1.5" stroke-linecap="round"/>
<path d="M1438.6,950.6 L1443.3,949.8" stroke="#2831c0" stroke-width="1.5" stroke-linecap="round"/>
<path d="M1443.3,949.8 L1448.0,949.0" stroke="#2a3ad0" stroke-width="1.5" stroke-linecap="round"/>
<path d="M1448.0,949.0 L1452.7,948.2" stroke="#2c43e0" stroke-width="1.5" stroke-linecap="round"/>
<path d="M1452.7,948.2 L1457.4,947.5" stroke="#2f4cf0" stroke-width="1.5" stroke-linecap="round"/>
<path d="M1457.4,947.5 L1461.8,947.2" stroke="#3050f8" stroke-width="1.5" stroke-linecap="round"/>
<path d="M1461.8,947.2 L1466.2,947.0" stroke="#3050f8" stroke-width="1.5" stroke-linecap="round"/>
<path d="M1466.2,947.0 L1470.7,946.8" stroke="#3050f8" stroke-width="1.5" stroke-linecap="round"/>
<path d="M1470.7,946.8 L1475.1,946.6" stroke="#3050f8" stroke-width="1.5" stroke-linecap="round"/>
<path d="M1475.1,946.6 L1479.5,946.4" stroke="#3050f8" stroke-width="1.5" stroke-linecap="round"/>
<path d="M1479.5,946.4 L1484.0,946.2" stroke="#3050f8" stroke-width="1.5" stroke-linecap="round"/>
<path d="M1484.0,946.2 L1488.0,946.6" stroke="#3050f8" stroke-width="1.5" stroke-linecap="round"/>
<path d="M1488.0,946.6 L1492.1,947.0" stroke="#3050f8" stroke-width="1.5" stroke-linecap="round"/>
<path d="M1492.1,947.0 L1496.2,947.4" stroke="#3050f8" stroke-width="1.5" stroke-linecap="round"/>
<path d="M1496.2,947.4 L1500.2,947.8" stroke="#3050f8" stroke-width="1.5" stroke-linecap="round"/>
<path d="M1500.2,947.8 L1504.3,948.2" stroke="#3050f8" stroke-width="1.5" stroke-linecap="round"/>
<path d="M1504.3,948.2 L1508.2,949.3" stroke="#3057f9" stroke-width="1.5" stroke-linecap="round"/>
<path d="M1508.2,949.3 L1512.1,950.3" stroke="#3064fa" stroke-width="1.5" stroke-linecap="round"/>
<path d="M1512.1,950.3 L1516.0,951.4" stroke="#3071fb" stroke-width="1.5" stroke-linecap="round"/>
<path d="M1516.0,951.4 L1520.0,952.4" stroke="#307ffc" stroke-width="1.5" stroke-linecap="round"/>
<path d="M1520.0,952.4 L1523.9,953.5" stroke="#308cfd" stroke-width="1.5" stroke-linecap="round"/>
<path d="M1523.9,953.5 L1527.8,954.5" stroke="#3099fe" stroke-width="1.5" stroke-linecap="round"/>
<path d="M1527.8,954.5 L1531.7,956.1" stroke="#31a9fc" stroke-width="1.5" stroke-linecap="round"/>
<path d="M1531.7,956.1 L1535.6,957.6" stroke="#33bbf6" stroke-width="1.5" stroke-linecap="round"/>
<path d="M1535.6,957.6 L1539.5,959.2" stroke="#35cdf1" stroke-width="1.5" stroke-linecap="round"/>
<path d="M1539.5,959.2 L1543.4,960.8" stroke="#37dfeb" stroke-width="1.5" stroke-linecap="round"/>
<path d="M1543.4,960.8 L1547.3,962.7" stroke="#5aeab8" stroke-width="1.5" stroke-linecap="round"/>
<path d="M1547.3,962.7 L1551.2,964.7" stroke="#9eee58" stroke-width="1.5" stroke-linecap="round"/>
<path d="M1566.9,978.0 L1570.0,981.4" stroke="#ecc800" stroke-width="1.3" stroke-linecap="round"/>
<path d="M1570.0,981.4 L1573.2,984.9" stroke="#edb800" stroke-width="1.3" stroke-linecap="round"/>
<path d="M1573.2,984.9 L1576.3,988.3" stroke="#eea800" stroke-width="1.3" stroke-linecap="round"/>
<path d="M1576.3,988.3 L1579.4,991.7" stroke="#ef9800" stroke-width="1.3" stroke-linecap="round"/>
<path d="M1579.4,991.7 L1582.5,995.2" stroke="#f08800" stroke-width="1.3" stroke-linecap="round"/>
<path d="M1582.5,995.2 L1585.3,999.1" stroke="#ef7700" stroke-width="1.3" stroke-linecap="round"/>
<path d="M1585.3,999.1 L1588.0,1003.0" stroke="#ed6500" stroke-width="1.3" stroke-linecap="round"/>
<path d="M1588.0,1003.0 L1590.8,1006.9" stroke="#eb5300" stroke-width="1.3" stroke-linecap="round"/>
<path d="M1590.8,1006.9 L1593.5,1010.8" stroke="#e94100" stroke-width="1.3" stroke-linecap="round"/>
<path d="M1593.5,1010.8 L1594.7,1014.7" stroke="#e63300" stroke-width="1.3" stroke-linecap="round"/>
<path d="M1594.7,1014.7 L1595.8,1018.7" stroke="#e02900" stroke-width="1.3" stroke-linecap="round"/>
<path d="M1595.8,1018.7 L1597.0,1022.6" stroke="#dc1f00" stroke-width="1.3" stroke-linecap="round"/>
<path d="M1597.0,1022.6 L1598.2,1026.5" stroke="#d61500" stroke-width="1.3" stroke-linecap="round"/>
<path d="M1598.2,1026.5 L1599.4,1031.2" stroke="#d41000" stroke-width="1.3" stroke-linecap="round"/>
<path d="M1599.4,1031.2 L1600.5,1035.9" stroke="#d41000" stroke-width="1.3" stroke-linecap="round"/>
<path d="M1600.5,1035.9 L1601.7,1040.6" stroke="#d41000" stroke-width="1.3" stroke-linecap="round"/>
<path d="M1601.7,1040.6 L1602.9,1045.3" stroke="#d41000" stroke-width="1.3" stroke-linecap="round"/>
<path d="M1377.6,1014.7 L1381.1,1012.6" stroke="#31a9fc" stroke-width="1.5" stroke-linecap="round"/>
<path d="M1381.1,1012.6 L1384.6,1010.4" stroke="#33bbf6" stroke-width="1.5" stroke-linecap="round"/>
<path d="M1384.6,1010.4 L1388.1,1008.3" stroke="#35cdf1" stroke-width="1.5" stroke-linecap="round"/>
<path d="M1388.1,1008.3 L1391.6,1006.1" stroke="#37dfeb" stroke-width="1.5" stroke-linecap="round"/>
<path d="M1391.6,1006.1 L1395.6,1004.8" stroke="#3feadd" stroke-width="1.5" stroke-linecap="round"/>
<path d="M1395.6,1004.8 L1399.5,1003.4" stroke="#4deec7" stroke-width="1.5" stroke-linecap="round"/>
<path d="M1399.5,1003.4 L1403.4,1002.0" stroke="#5bf2b1" stroke-width="1.5" stroke-linecap="round"/>
<path d="M1403.4,1002.0 L1407.3,1000.7" stroke="#69f69b" stroke-width="1.5" stroke-linecap="round"/>
<path d="M1407.3,1000.7 L1412.0,1000.3" stroke="#78f786" stroke-width="1.5" stroke-linecap="round"/>
<path d="M1412.0,1000.3 L1416.7,1000.0" stroke="#88f671" stroke-width="1.5" stroke-linecap="round"/>
<path d="M1416.7,1000.0 L1421.4,999.7" stroke="#98f45c" stroke-width="1.5" stroke-linecap="round"/>
<path d="M1421.4,999.7 L1426.1,999.4" stroke="#a8f247" stroke-width="1.5" stroke-linecap="round"/>
<path d="M1426.1,999.4 L1430.8,999.1" stroke="#b8f132" stroke-width="1.5" stroke-linecap="round"/>
<path d="M1430.8,999.1 L1435.5,999.3" stroke="#c6ec23" stroke-width="1.5" stroke-linecap="round"/>
<path d="M1435.5,999.3 L1440.1,999.5" stroke="#d0e419" stroke-width="1.5" stroke-linecap="round"/>
<path d="M1440.1,999.5 L1444.8,999.7" stroke="#dcdc0f" stroke-width="1.5" stroke-linecap="round"/>
<path d="M1444.8,999.7 L1449.5,999.9" stroke="#e6d405" stroke-width="1.5" stroke-linecap="round"/>
<path d="M1449.5,999.9 L1453.4,1000.9" stroke="#ecc600" stroke-width="1.5" stroke-linecap="round"/>
<path d="M1453.4,1000.9 L1457.4,1001.8" stroke="#eeb200" stroke-width="1.5" stroke-linecap="round"/>
<path d="M1457.4,1001.8 L1461.3,1002.8" stroke="#ee9e00" stroke-width="1.5" stroke-linecap="round"/>
<path d="M1461.3,1002.8 L1465.2,1003.8" stroke="#f08a00" stroke-width="1.5" stroke-linecap="round"/>
<path d="M1465.2,1003.8 L1469.1,1005.7" stroke="#e96400" stroke-width="1.5" stroke-linecap="round"/>
<path d="M1469.1,1005.7 L1473.0,1007.7" stroke="#db2c00" stroke-width="1.5" stroke-linecap="round"/>
<path d="M1438.6,1038.2 L1442.3,1036.5" stroke="#30a0ff" stroke-width="1.5" stroke-linecap="round"/>
<path d="M1442.3,1036.5 L1446.1,1034.8" stroke="#30a0ff" stroke-width="1.5" stroke-linecap="round"/>
<path d="M1446.1,1034.8 L1449.8,1033.1" stroke="#30a0ff" stroke-width="1.5" stroke-linecap="round"/>
<path d="M1449.8,1033.1 L1453.6,1031.3" stroke="#30a0ff" stroke-width="1.5" stroke-linecap="round"/>
<path d="M1453.6,1031.3 L1457.4,1029.6" stroke="#30a0ff" stroke-width="1.5" stroke-linecap="round"/>
<path d="M1457.4,1029.6 L1462.1,1028.2" stroke="#31a9fc" stroke-width="1.5" stroke-linecap="round"/>
<path d="M1462.1,1028.2 L1466.7,1026.9" stroke="#33bbf6" stroke-width="1.5" stroke-linecap="round"/>
<path d="M1466.7,1026.9 L1471.4,1025.5" stroke="#35cdf1" stroke-width="1.5" stroke-linecap="round"/>
<path d="M1471.4,1025.5 L1476.1,1024.1" stroke="#37dfeb" stroke-width="1.5" stroke-linecap="round"/>
<path d="M1476.1,1024.1 L1480.2,1023.5" stroke="#38e8e8" stroke-width="1.5" stroke-linecap="round"/>
<path d="M1480.2,1023.5 L1484.3,1022.9" stroke="#38e8e8" stroke-width="1.5" stroke-linecap="round"/>
<path d="M1484.3,1022.9 L1488.3,1022.3" stroke="#38e8e8" stroke-width="1.5" stroke-linecap="round"/>
<path d="M1488.3,1022.3 L1492.4,1021.6" stroke="#38e8e8" stroke-width="1.5" stroke-linecap="round"/>
<path d="M1492.4,1021.6 L1496.5,1021.0" stroke="#38e8e8" stroke-width="1.5" stroke-linecap="round"/>
<path d="M1496.5,1021.0 L1502.0,1020.6" stroke="#46ecd2" stroke-width="1.5" stroke-linecap="round"/>
<path d="M1502.0,1020.6 L1507.4,1020.2" stroke="#62f4a6" stroke-width="1.5" stroke-linecap="round"/>
<path d="M1507.4,1020.2 L1511.6,1021.0" stroke="#7df77f" stroke-width="1.5" stroke-linecap="round"/>
<path d="M1511.6,1021.0 L1515.8,1021.8" stroke="#98f45c" stroke-width="1.5" stroke-linecap="round"/>
<path d="M1515.8,1021.8 L1520.0,1022.6" stroke="#b3f139" stroke-width="1.5" stroke-linecap="round"/>
<path d="M1520.0,1022.6 L1523.9,1023.5" stroke="#c6ec23" stroke-width="1.5" stroke-linecap="round"/>
<path d="M1523.9,1023.5 L1527.8,1024.5" stroke="#d0e419" stroke-width="1.5" stroke-linecap="round"/>
<path d="M1527.8,1024.5 L1531.7,1025.5" stroke="#dcdc0f" stroke-width="1.5" stroke-linecap="round"/>
<path d="M1531.7,1025.5 L1535.6,1026.5" stroke="#e6d405" stroke-width="1.5" stroke-linecap="round"/>
<path d="M1535.6,1026.5 L1541.1,1028.8" stroke="#edbc00" stroke-width="1.5" stroke-linecap="round"/>
<path d="M1541.1,1028.8 L1546.6,1031.2" stroke="#ef9400" stroke-width="1.5" stroke-linecap="round"/>
<path d="M1574.7,1060.9 L1576.3,1067.2" stroke="#d41000" stroke-width="1.3" stroke-linecap="round"/>
<path d="M1576.3,1067.2 L1578.6,1072.6" stroke="#d41000" stroke-width="1.3" stroke-linecap="round"/>
<path d="M1578.6,1072.6 L1581.0,1078.1" stroke="#d41000" stroke-width="1.3" stroke-linecap="round"/>
<path d="M1581.0,1078.1 L1582.5,1083.6" stroke="#d41000" stroke-width="1.3" stroke-linecap="round"/>
<path d="M1582.5,1083.6 L1584.1,1089.1" stroke="#d41000" stroke-width="1.3" stroke-linecap="round"/>
<path d="M1401.0,1032.0 L1405.3,1032.9" stroke="#ce0e00" stroke-width="1.3" stroke-linecap="round"/>
<path d="M1405.3,1032.9 L1409.6,1033.9" stroke="#c20a00" stroke-width="1.3" stroke-linecap="round"/>
<path d="M1409.6,1033.9 L1413.9,1034.9" stroke="#b60600" stroke-width="1.3" stroke-linecap="round"/>
<path d="M1413.9,1034.9 L1418.2,1035.9" stroke="#aa0200" stroke-width="1.3" stroke-linecap="round"/>
<path d="M1418.2,1035.9 L1422.2,1038.0" stroke="#a40000" stroke-width="1.3" stroke-linecap="round"/>
<path d="M1422.2,1038.0 L1426.1,1040.0" stroke="#a40000" stroke-width="1.3" stroke-linecap="round"/>
<path d="M1426.1,1040.0 L1430.0,1042.1" stroke="#a40000" stroke-width="1.3" stroke-linecap="round"/>
<path d="M1430.0,1042.1 L1433.9,1044.2" stroke="#a40000" stroke-width="1.3" stroke-linecap="round"/>
<path d="M1433.9,1044.2 L1437.8,1046.3" stroke="#a40000" stroke-width="1.3" stroke-linecap="round"/>
<path d="M1437.8,1046.3 L1441.7,1048.4" stroke="#a40000" stroke-width="1.3" stroke-linecap="round"/>
<path d="M1340.0,1038.2 L1343.9,1039.4" stroke="#d00f00" stroke-width="1.3" stroke-linecap="round"/>
<path d="M1343.9,1039.4 L1347.8,1040.6" stroke="#c80c00" stroke-width="1.3" stroke-linecap="round"/>
<path d="M1347.8,1040.6 L1351.7,1041.7" stroke="#c00900" stroke-width="1.3" stroke-linecap="round"/>
<path d="M1351.7,1041.7 L1355.6,1042.9" stroke="#b80700" stroke-width="1.3" stroke-linecap="round"/>
<path d="M1355.6,1042.9 L1359.6,1044.1" stroke="#b00400" stroke-width="1.3" stroke-linecap="round"/>
<path d="M1359.6,1044.1 L1363.5,1045.3" stroke="#a80100" stroke-width="1.3" stroke-linecap="round"/>
<path d="M1363.5,1045.3 L1367.4,1047.3" stroke="#a40000" stroke-width="1.3" stroke-linecap="round"/>
<path d="M1367.4,1047.3 L1371.3,1049.4" stroke="#a40000" stroke-width="1.3" stroke-linecap="round"/>
<path d="M1371.3,1049.4 L1375.2,1051.5" stroke="#a40000" stroke-width="1.3" stroke-linecap="round"/>
<path d="M1375.2,1051.5 L1379.1,1053.6" stroke="#a40000" stroke-width="1.3" stroke-linecap="round"/>
<path d="M1379.1,1053.6 L1383.0,1055.7" stroke="#a40000" stroke-width="1.3" stroke-linecap="round"/>
<path d="M1383.0,1055.7 L1386.9,1057.8" stroke="#a40000" stroke-width="1.3" stroke-linecap="round"/>
<path d="M1402.6,982.7 L1404.5,986.2" stroke="#d10f00" stroke-width="1.3" stroke-linecap="round"/>
<path d="M1404.5,986.2 L1406.5,989.7" stroke="#cb0d00" stroke-width="1.3" stroke-linecap="round"/>
<path d="M1406.5,989.7 L1408.5,993.2" stroke="#c50b00" stroke-width="1.3" stroke-linecap="round"/>
<path d="M1408.5,993.2 L1410.4,996.7" stroke="#bf0900" stroke-width="1.3" stroke-linecap="round"/>
<path d="M1410.4,996.7 L1412.4,1000.3" stroke="#b90700" stroke-width="1.3" stroke-linecap="round"/>
<path d="M1412.4,1000.3 L1414.3,1003.8" stroke="#b30500" stroke-width="1.3" stroke-linecap="round"/>
<path d="M1414.3,1003.8 L1416.3,1007.3" stroke="#ad0300" stroke-width="1.3" stroke-linecap="round"/>
<path d="M1416.3,1007.3 L1418.2,1010.8" stroke="#a70100" stroke-width="1.3" stroke-linecap="round"/>
<path d="M1418.2,1010.8 L1420.8,1014.0" stroke="#a40000" stroke-width="1.3" stroke-linecap="round"/>
<path d="M1420.8,1014.0 L1423.5,1017.1" stroke="#a40000" stroke-width="1.3" stroke-linecap="round"/>
<path d="M1423.5,1017.1 L1426.1,1020.2" stroke="#a40000" stroke-width="1.3" stroke-linecap="round"/>
<path d="M1426.1,1020.2 L1428.7,1023.3" stroke="#a40000" stroke-width="1.3" stroke-linecap="round"/>
<path d="M1428.7,1023.3 L1431.3,1026.5" stroke="#a40000" stroke-width="1.3" stroke-linecap="round"/>
<path d="M1431.3,1026.5 L1433.9,1029.6" stroke="#a40000" stroke-width="1.3" stroke-linecap="round"/>
<path d="M1433.9,1029.6 L1436.5,1032.7" stroke="#a40000" stroke-width="1.3" stroke-linecap="round"/>
<path d="M1436.5,1032.7 L1439.1,1035.9" stroke="#a40000" stroke-width="1.3" stroke-linecap="round"/>
<path d="M1439.1,1035.9 L1441.7,1039.0" stroke="#a40000" stroke-width="1.3" stroke-linecap="round"/>
<path d="M1441.7,1039.0 L1444.6,1041.7" stroke="#a40000" stroke-width="1.3" stroke-linecap="round"/>
<path d="M1444.6,1041.7 L1447.6,1044.5" stroke="#a40000" stroke-width="1.3" stroke-linecap="round"/>
<path d="M1447.6,1044.5 L1450.5,1047.2" stroke="#a40000" stroke-width="1.3" stroke-linecap="round"/>
<path d="M1450.5,1047.2 L1453.4,1050.0" stroke="#a40000" stroke-width="1.3" stroke-linecap="round"/>
<path d="M1453.4,1050.0 L1456.4,1052.7" stroke="#a40000" stroke-width="1.3" stroke-linecap="round"/>
<path d="M1456.4,1052.7 L1459.3,1055.4" stroke="#a40000" stroke-width="1.3" stroke-linecap="round"/>
<path d="M1459.3,1055.4 L1462.2,1058.2" stroke="#a40000" stroke-width="1.3" stroke-linecap="round"/>
<path d="M1462.2,1058.2 L1465.2,1060.9" stroke="#a40000" stroke-width="1.3" stroke-linecap="round"/>
<path d="M1465.2,1060.9 L1468.5,1063.1" stroke="#a40000" stroke-width="1.3" stroke-linecap="round"/>
<path d="M1468.5,1063.1 L1471.9,1065.4" stroke="#a40000" stroke-width="1.3" stroke-linecap="round"/>
<path d="M1471.9,1065.4 L1475.2,1067.6" stroke="#a40000" stroke-width="1.3" stroke-linecap="round"/>
<path d="M1475.2,1067.6 L1478.6,1069.8" stroke="#a40000" stroke-width="1.3" stroke-linecap="round"/>
<path d="M1478.6,1069.8 L1481.9,1072.1" stroke="#a40000" stroke-width="1.3" stroke-linecap="round"/>
<path d="M1481.9,1072.1 L1485.3,1074.3" stroke="#a40000" stroke-width="1.3" stroke-linecap="round"/>
<path d="M1485.3,1074.3 L1488.7,1076.6" stroke="#a40000" stroke-width="1.3" stroke-linecap="round"/>
<path d="M1488.7,1076.6 L1492.6,1078.6" stroke="#a40000" stroke-width="1.3" stroke-linecap="round"/>
<path d="M1492.6,1078.6 L1496.5,1080.7" stroke="#a40000" stroke-width="1.3" stroke-linecap="round"/>
<path d="M1496.5,1080.7 L1500.4,1082.8" stroke="#a40000" stroke-width="1.3" stroke-linecap="round"/>
<path d="M1500.4,1082.8 L1504.3,1084.9" stroke="#a40000" stroke-width="1.3" stroke-linecap="round"/>
<path d="M1504.3,1084.9 L1508.2,1087.0" stroke="#a40000" stroke-width="1.3" stroke-linecap="round"/>
<path d="M1508.2,1087.0 L1512.1,1089.1" stroke="#a40000" stroke-width="1.3" stroke-linecap="round"/>
<path d="M1427.6,967.0 L1430.4,970.5" stroke="#d10f00" stroke-width="1.3" stroke-linecap="round"/>
<path d="M1430.4,970.5 L1433.1,974.1" stroke="#cb0d00" stroke-width="1.3" stroke-linecap="round"/>
<path d="M1433.1,974.1 L1435.8,977.6" stroke="#c50b00" stroke-width="1.3" stroke-linecap="round"/>
<path d="M1435.8,977.6 L1438.6,981.1" stroke="#bf0900" stroke-width="1.3" stroke-linecap="round"/>
<path d="M1438.6,981.1 L1441.3,984.6" stroke="#b90700" stroke-width="1.3" stroke-linecap="round"/>
<path d="M1441.3,984.6 L1444.1,988.1" stroke="#b30500" stroke-width="1.3" stroke-linecap="round"/>
<path d="M1444.1,988.1 L1446.8,991.7" stroke="#ad0300" stroke-width="1.3" stroke-linecap="round"/>
<path d="M1446.8,991.7 L1449.5,995.2" stroke="#a70100" stroke-width="1.3" stroke-linecap="round"/>
<path d="M1449.5,995.2 L1452.5,998.3" stroke="#a40000" stroke-width="1.3" stroke-linecap="round"/>
<path d="M1452.5,998.3 L1455.4,1001.4" stroke="#a40000" stroke-width="1.3" stroke-linecap="round"/>
<path d="M1455.4,1001.4 L1458.3,1004.6" stroke="#a40000" stroke-width="1.3" stroke-linecap="round"/>
<path d="M1458.3,1004.6 L1461.3,1007.7" stroke="#a40000" stroke-width="1.3" stroke-linecap="round"/>
<path d="M1461.3,1007.7 L1464.2,1010.8" stroke="#a40000" stroke-width="1.3" stroke-linecap="round"/>
<path d="M1464.2,1010.8 L1467.1,1014.0" stroke="#a40000" stroke-width="1.3" stroke-linecap="round"/>
<path d="M1467.1,1014.0 L1470.1,1017.1" stroke="#a40000" stroke-width="1.3" stroke-linecap="round"/>
<path d="M1470.1,1017.1 L1473.0,1020.2" stroke="#a40000" stroke-width="1.3" stroke-linecap="round"/>
<path d="M1473.0,1020.2 L1475.9,1023.5" stroke="#a40000" stroke-width="1.3" stroke-linecap="round"/>
<path d="M1475.9,1023.5 L1478.9,1026.9" stroke="#a40000" stroke-width="1.3" stroke-linecap="round"/>
<path d="M1478.9,1026.9 L1481.8,1030.2" stroke="#a40000" stroke-width="1.3" stroke-linecap="round"/>
<path d="M1481.8,1030.2 L1484.7,1033.5" stroke="#a40000" stroke-width="1.3" stroke-linecap="round"/>
<path d="M1484.7,1033.5 L1487.7,1036.8" stroke="#a40000" stroke-width="1.3" stroke-linecap="round"/>
<path d="M1487.7,1036.8 L1490.6,1040.2" stroke="#a40000" stroke-width="1.3" stroke-linecap="round"/>
<path d="M1490.6,1040.2 L1493.5,1043.5" stroke="#a40000" stroke-width="1.3" stroke-linecap="round"/>
<path d="M1493.5,1043.5 L1496.5,1046.8" stroke="#a40000" stroke-width="1.3" stroke-linecap="round"/>
<path d="M1496.5,1046.8 L1499.6,1053.1" stroke="#a40000" stroke-width="1.3" stroke-linecap="round"/>
<path d="M1476.1,967.0 L1478.7,971.2" stroke="#d41000" stroke-width="1.3" stroke-linecap="round"/>
<path d="M1478.7,971.2 L1481.4,975.4" stroke="#d41000" stroke-width="1.3" stroke-linecap="round"/>
<path d="M1481.4,975.4 L1484.0,979.5" stroke="#d41000" stroke-width="1.3" stroke-linecap="round"/>
<path d="M1484.0,979.5 L1485.5,983.4" stroke="#ce0e00" stroke-width="1.3" stroke-linecap="round"/>
<path d="M1485.5,983.4 L1487.1,987.4" stroke="#c20a00" stroke-width="1.3" stroke-linecap="round"/>
<path d="M1487.1,987.4 L1488.7,991.3" stroke="#b60600" stroke-width="1.3" stroke-linecap="round"/>
<path d="M1488.7,991.3 L1490.2,995.2" stroke="#aa0200" stroke-width="1.3" stroke-linecap="round"/>
<path d="M1499.6,1026.5 L1503.0,1029.6" stroke="#d00f00" stroke-width="1.3" stroke-linecap="round"/>
<path d="M1503.0,1029.6 L1506.4,1032.7" stroke="#c80c00" stroke-width="1.3" stroke-linecap="round"/>
<path d="M1506.4,1032.7 L1509.8,1035.9" stroke="#c00900" stroke-width="1.3" stroke-linecap="round"/>
<path d="M1509.8,1035.9 L1513.2,1039.0" stroke="#b80700" stroke-width="1.3" stroke-linecap="round"/>
<path d="M1513.2,1039.0 L1516.6,1042.1" stroke="#b00400" stroke-width="1.3" stroke-linecap="round"/>
<path d="M1516.6,1042.1 L1520.0,1045.3" stroke="#a80100" stroke-width="1.3" stroke-linecap="round"/>
<path d="M1520.0,1045.3 L1522.2,1048.8" stroke="#a40000" stroke-width="1.3" stroke-linecap="round"/>
<path d="M1522.2,1048.8 L1524.4,1052.4" stroke="#a40000" stroke-width="1.3" stroke-linecap="round"/>
<path d="M1524.4,1052.4 L1526.7,1056.0" stroke="#a40000" stroke-width="1.3" stroke-linecap="round"/>
<path d="M1526.7,1056.0 L1528.9,1059.6" stroke="#a40000" stroke-width="1.3" stroke-linecap="round"/>
<path d="M1528.9,1059.6 L1531.1,1063.1" stroke="#a40000" stroke-width="1.3" stroke-linecap="round"/>
<path d="M1531.1,1063.1 L1533.4,1066.7" stroke="#a40000" stroke-width="1.3" stroke-linecap="round"/>
<path d="M1533.4,1066.7 L1535.6,1070.3" stroke="#a40000" stroke-width="1.3" stroke-linecap="round"/>
<path d="M1535.6,1070.3 L1537.6,1074.6" stroke="#a40000" stroke-width="1.3" stroke-linecap="round"/>
<path d="M1537.6,1074.6 L1539.5,1078.9" stroke="#a40000" stroke-width="1.3" stroke-linecap="round"/>
<path d="M1539.5,1078.9 L1541.5,1083.2" stroke="#a40000" stroke-width="1.3" stroke-linecap="round"/>
<path d="M1541.5,1083.2 L1543.4,1087.5" stroke="#a40000" stroke-width="1.3" stroke-linecap="round"/>
<path d="M1254.8,1169.2 L1258.5,1167.3" stroke="#f08800" stroke-width="1.4" stroke-linecap="round"/>
<path d="M1258.5,1167.3 L1262.3,1165.4" stroke="#ef9800" stroke-width="1.4" stroke-linecap="round"/>
<path d="M1262.3,1165.4 L1266.0,1163.6" stroke="#eea800" stroke-width="1.4" stroke-linecap="round"/>
<path d="M1266.0,1163.6 L1269.8,1161.7" stroke="#edb800" stroke-width="1.4" stroke-linecap="round"/>
<path d="M1269.8,1161.7 L1273.5,1159.8" stroke="#ecc800" stroke-width="1.4" stroke-linecap="round"/>
<path d="M1273.5,1159.8 L1277.6,1160.4" stroke="#ecd000" stroke-width="1.4" stroke-linecap="round"/>
<path d="M1277.6,1160.4 L1281.7,1161.1" stroke="#ecd000" stroke-width="1.4" stroke-linecap="round"/>
<path d="M1281.7,1161.1 L1285.8,1161.7" stroke="#ecd000" stroke-width="1.4" stroke-linecap="round"/>
<path d="M1285.8,1161.7 L1289.8,1162.3" stroke="#ecd000" stroke-width="1.4" stroke-linecap="round"/>
<path d="M1289.8,1162.3 L1293.9,1162.9" stroke="#ecd000" stroke-width="1.4" stroke-linecap="round"/>
<path d="M1293.9,1162.9 L1298.6,1163.6" stroke="#ecc600" stroke-width="1.4" stroke-linecap="round"/>
<path d="M1298.6,1163.6 L1303.3,1164.3" stroke="#eeb200" stroke-width="1.4" stroke-linecap="round"/>
<path d="M1303.3,1164.3 L1308.0,1165.0" stroke="#ee9e00" stroke-width="1.4" stroke-linecap="round"/>
<path d="M1308.0,1165.0 L1312.7,1165.8" stroke="#f08a00" stroke-width="1.4" stroke-linecap="round"/>
<path d="M1359.6,1095.6 L1363.6,1097.7" stroke="#d10f00" stroke-width="1.3" stroke-linecap="round"/>
<path d="M1363.6,1097.7 L1367.7,1099.7" stroke="#ca0d00" stroke-width="1.3" stroke-linecap="round"/>
<path d="M1367.7,1099.7 L1371.7,1101.7" stroke="#c30a00" stroke-width="1.3" stroke-linecap="round"/>
<path d="M1371.7,1101.7 L1375.7,1103.7" stroke="#bc0800" stroke-width="1.3" stroke-linecap="round"/>
<path d="M1375.7,1103.7 L1379.7,1105.7" stroke="#b50600" stroke-width="1.3" stroke-linecap="round"/>
<path d="M1379.7,1105.7 L1383.8,1107.7" stroke="#ae0300" stroke-width="1.3" stroke-linecap="round"/>
<path d="M1383.8,1107.7 L1387.8,1109.7" stroke="#a70100" stroke-width="1.3" stroke-linecap="round"/>
<path d="M1387.8,1109.7 L1391.7,1111.9" stroke="#a40000" stroke-width="1.3" stroke-linecap="round"/>
<path d="M1391.7,1111.9 L1395.6,1114.0" stroke="#a40000" stroke-width="1.3" stroke-linecap="round"/>
<path d="M1395.6,1114.0 L1399.5,1116.2" stroke="#a40000" stroke-width="1.3" stroke-linecap="round"/>
<path d="M1399.5,1116.2 L1403.4,1118.3" stroke="#a40000" stroke-width="1.3" stroke-linecap="round"/>
<path d="M1403.4,1118.3 L1407.3,1120.5" stroke="#a40000" stroke-width="1.3" stroke-linecap="round"/>
<path d="M1407.3,1120.5 L1411.2,1122.6" stroke="#a40000" stroke-width="1.3" stroke-linecap="round"/>
<path d="M1411.2,1122.6 L1415.2,1124.8" stroke="#a40000" stroke-width="1.3" stroke-linecap="round"/>
<path d="M1415.2,1124.8 L1419.1,1126.9" stroke="#a40000" stroke-width="1.3" stroke-linecap="round"/>
<path d="M1419.1,1126.9 L1422.8,1129.1" stroke="#a40000" stroke-width="1.3" stroke-linecap="round"/>
<path d="M1422.8,1129.1 L1426.6,1131.3" stroke="#a40000" stroke-width="1.3" stroke-linecap="round"/>
<path d="M1426.6,1131.3 L1430.3,1133.5" stroke="#a40000" stroke-width="1.3" stroke-linecap="round"/>
<path d="M1430.3,1133.5 L1434.1,1135.7" stroke="#a40000" stroke-width="1.3" stroke-linecap="round"/>
<path d="M1434.1,1135.7 L1437.8,1137.9" stroke="#a40000" stroke-width="1.3" stroke-linecap="round"/>
<path d="M1331.4,1151.2 L1335.6,1151.6" stroke="#d41000" stroke-width="1.3" stroke-linecap="round"/>
<path d="M1335.6,1151.6 L1339.8,1152.0" stroke="#d41000" stroke-width="1.3" stroke-linecap="round"/>
<path d="M1339.8,1152.0 L1344.0,1152.4" stroke="#d41000" stroke-width="1.3" stroke-linecap="round"/>
<path d="M1344.0,1152.4 L1348.1,1152.8" stroke="#d41000" stroke-width="1.3" stroke-linecap="round"/>
<path d="M1348.1,1152.8 L1352.3,1153.2" stroke="#d41000" stroke-width="1.3" stroke-linecap="round"/>
<path d="M1352.3,1153.2 L1356.5,1153.5" stroke="#d41000" stroke-width="1.3" stroke-linecap="round"/>
<path d="M1356.5,1153.5 L1360.7,1154.1" stroke="#d10f00" stroke-width="1.3" stroke-linecap="round"/>
<path d="M1360.7,1154.1 L1364.8,1154.6" stroke="#cc0d00" stroke-width="1.3" stroke-linecap="round"/>
<path d="M1364.8,1154.6 L1369.0,1155.1" stroke="#c70c00" stroke-width="1.3" stroke-linecap="round"/>
<path d="M1369.0,1155.1 L1373.2,1155.6" stroke="#c10a00" stroke-width="1.3" stroke-linecap="round"/>
<path d="M1373.2,1155.6 L1377.3,1156.2" stroke="#bc0800" stroke-width="1.3" stroke-linecap="round"/>
<path d="M1377.3,1156.2 L1381.5,1156.7" stroke="#b70600" stroke-width="1.3" stroke-linecap="round"/>
<path d="M1381.5,1156.7 L1385.7,1157.2" stroke="#b10400" stroke-width="1.3" stroke-linecap="round"/>
<path d="M1385.7,1157.2 L1389.9,1157.7" stroke="#ac0300" stroke-width="1.3" stroke-linecap="round"/>
<path d="M1389.9,1157.7 L1394.0,1158.2" stroke="#a70100" stroke-width="1.3" stroke-linecap="round"/>
<path d="M1428.5,1119.1 L1431.6,1115.5" stroke="#f08000" stroke-width="1.4" stroke-linecap="round"/>
<path d="M1431.6,1115.5 L1434.7,1111.8" stroke="#f08000" stroke-width="1.4" stroke-linecap="round"/>
<path d="M1434.7,1111.8 L1437.8,1108.2" stroke="#f08000" stroke-width="1.4" stroke-linecap="round"/>
<path d="M1437.8,1108.2 L1442.0,1106.1" stroke="#ef7400" stroke-width="1.4" stroke-linecap="round"/>
<path d="M1442.0,1106.1 L1446.2,1104.0" stroke="#ec5c00" stroke-width="1.4" stroke-linecap="round"/>
<path d="M1446.2,1104.0 L1450.4,1101.9" stroke="#e94400" stroke-width="1.4" stroke-linecap="round"/>
<path d="M1419.1,1157.5 L1423.5,1157.6" stroke="#d10f00" stroke-width="1.3" stroke-linecap="round"/>
<path d="M1423.5,1157.6 L1428.0,1157.7" stroke="#ca0d00" stroke-width="1.3" stroke-linecap="round"/>
<path d="M1428.0,1157.7 L1432.5,1157.8" stroke="#c30a00" stroke-width="1.3" stroke-linecap="round"/>
<path d="M1432.5,1157.8 L1437.0,1157.9" stroke="#bc0800" stroke-width="1.3" stroke-linecap="round"/>
<path d="M1437.0,1157.9 L1441.4,1158.0" stroke="#b50600" stroke-width="1.3" stroke-linecap="round"/>
<path d="M1441.4,1158.0 L1445.9,1158.1" stroke="#ae0300" stroke-width="1.3" stroke-linecap="round"/>
<path d="M1445.9,1158.1 L1450.4,1158.2" stroke="#a70100" stroke-width="1.3" stroke-linecap="round"/>
<path d="M1403.4,1161.4 L1407.7,1162.2" stroke="#a40000" stroke-width="1.3" stroke-linecap="round"/>
<path d="M1407.7,1162.2 L1412.0,1162.9" stroke="#a40000" stroke-width="1.3" stroke-linecap="round"/>
<path d="M1412.0,1162.9 L1416.2,1163.7" stroke="#a40000" stroke-width="1.3" stroke-linecap="round"/>
<path d="M1416.2,1163.7 L1420.5,1164.5" stroke="#a40000" stroke-width="1.3" stroke-linecap="round"/>
<path d="M1420.5,1164.5 L1424.8,1165.3" stroke="#a40000" stroke-width="1.3" stroke-linecap="round"/>
<path d="M1424.8,1165.3 L1429.0,1166.1" stroke="#a40000" stroke-width="1.3" stroke-linecap="round"/>
<path d="M1429.0,1166.1 L1433.3,1166.8" stroke="#a40000" stroke-width="1.3" stroke-linecap="round"/>
<path d="M1433.3,1166.8 L1437.6,1167.6" stroke="#a40000" stroke-width="1.3" stroke-linecap="round"/>
<path d="M1437.6,1167.6 L1441.8,1168.4" stroke="#a40000" stroke-width="1.3" stroke-linecap="round"/>
<path d="M1441.8,1168.4 L1446.1,1169.2" stroke="#a40000" stroke-width="1.3" stroke-linecap="round"/>
<path d="M1446.1,1169.2 L1450.4,1170.0" stroke="#a40000" stroke-width="1.3" stroke-linecap="round"/>
<path d="M1450.4,1170.0 L1454.8,1170.1" stroke="#a40000" stroke-width="1.3" stroke-linecap="round"/>
<path d="M1454.8,1170.1 L1459.3,1170.2" stroke="#a40000" stroke-width="1.3" stroke-linecap="round"/>
<path d="M1459.3,1170.2 L1463.8,1170.3" stroke="#a40000" stroke-width="1.3" stroke-linecap="round"/>
<path d="M1463.8,1170.3 L1468.3,1170.4" stroke="#a40000" stroke-width="1.3" stroke-linecap="round"/>
<path d="M1468.3,1170.4 L1472.7,1170.5" stroke="#a40000" stroke-width="1.3" stroke-linecap="round"/>
<path d="M1472.7,1170.5 L1477.2,1170.6" stroke="#a40000" stroke-width="1.3" stroke-linecap="round"/>
<path d="M1477.2,1170.6 L1481.7,1170.8" stroke="#a40000" stroke-width="1.3" stroke-linecap="round"/>
<path d="M1481.7,1170.8 L1485.9,1170.1" stroke="#a40000" stroke-width="1.3" stroke-linecap="round"/>
<path d="M1485.9,1170.1 L1490.2,1169.5" stroke="#a40000" stroke-width="1.3" stroke-linecap="round"/>
<path d="M1490.2,1169.5 L1494.4,1168.9" stroke="#a40000" stroke-width="1.3" stroke-linecap="round"/>
<path d="M1494.4,1168.9 L1498.7,1168.3" stroke="#a40000" stroke-width="1.3" stroke-linecap="round"/>
<path d="M1498.7,1168.3 L1503.0,1167.7" stroke="#a40000" stroke-width="1.3" stroke-linecap="round"/>
<path d="M1503.0,1167.7 L1507.2,1167.1" stroke="#a40000" stroke-width="1.3" stroke-linecap="round"/>
<path d="M1507.2,1167.1 L1511.5,1166.5" stroke="#a40000" stroke-width="1.3" stroke-linecap="round"/>
<path d="M1511.5,1166.5 L1515.7,1165.9" stroke="#a40000" stroke-width="1.3" stroke-linecap="round"/>
<path d="M1515.7,1165.9 L1520.0,1165.3" stroke="#a40000" stroke-width="1.3" stroke-linecap="round"/>
<path d="M1368.2,1190.3 L1372.1,1192.0" stroke="#d41000" stroke-width="1.3" stroke-linecap="round"/>
<path d="M1372.1,1192.0 L1376.0,1193.7" stroke="#d41000" stroke-width="1.3" stroke-linecap="round"/>
<path d="M1376.0,1193.7 L1380.0,1195.3" stroke="#d41000" stroke-width="1.3" stroke-linecap="round"/>
<path d="M1380.0,1195.3 L1383.9,1197.0" stroke="#d41000" stroke-width="1.3" stroke-linecap="round"/>
<path d="M1383.9,1197.0 L1387.8,1198.7" stroke="#d41000" stroke-width="1.3" stroke-linecap="round"/>
<path d="M1387.8,1198.7 L1391.7,1200.4" stroke="#d41000" stroke-width="1.3" stroke-linecap="round"/>
<path d="M1391.7,1200.4 L1395.6,1202.1" stroke="#d41000" stroke-width="1.3" stroke-linecap="round"/>
<path d="M1395.6,1202.1 L1399.4,1203.6" stroke="#d00f00" stroke-width="1.3" stroke-linecap="round"/>
<path d="M1399.4,1203.6 L1403.2,1205.2" stroke="#c80c00" stroke-width="1.3" stroke-linecap="round"/>
<path d="M1403.2,1205.2 L1406.9,1206.7" stroke="#c00900" stroke-width="1.3" stroke-linecap="round"/>
<path d="M1406.9,1206.7 L1410.7,1208.3" stroke="#b80700" stroke-width="1.3" stroke-linecap="round"/>
<path d="M1410.7,1208.3 L1414.5,1209.9" stroke="#b00400" stroke-width="1.3" stroke-linecap="round"/>
<path d="M1414.5,1209.9 L1418.3,1211.4" stroke="#a80100" stroke-width="1.3" stroke-linecap="round"/>
<path d="M1449.6,1189.5 L1453.7,1188.8" stroke="#d41000" stroke-width="1.3" stroke-linecap="round"/>
<path d="M1453.7,1188.8 L1457.8,1188.0" stroke="#d41000" stroke-width="1.3" stroke-linecap="round"/>
<path d="M1457.8,1188.0 L1461.9,1187.2" stroke="#d41000" stroke-width="1.3" stroke-linecap="round"/>
<path d="M1461.9,1187.2 L1466.0,1186.4" stroke="#d41000" stroke-width="1.3" stroke-linecap="round"/>
<path d="M1466.0,1186.4 L1471.2,1185.6" stroke="#cc0d00" stroke-width="1.3" stroke-linecap="round"/>
<path d="M1471.2,1185.6 L1476.4,1184.8" stroke="#bc0800" stroke-width="1.3" stroke-linecap="round"/>
<path d="M1476.4,1184.8 L1481.7,1184.1" stroke="#ac0300" stroke-width="1.3" stroke-linecap="round"/>
<path d="M1498.9,1217.7 L1503.1,1216.9" stroke="#a40000" stroke-width="1.3" stroke-linecap="round"/>
<path d="M1503.1,1216.9 L1507.3,1216.1" stroke="#a40000" stroke-width="1.3" stroke-linecap="round"/>
<path d="M1507.3,1216.1 L1511.6,1215.4" stroke="#a40000" stroke-width="1.3" stroke-linecap="round"/>
<path d="M1511.6,1215.4 L1515.8,1214.6" stroke="#a40000" stroke-width="1.3" stroke-linecap="round"/>
<path d="M1515.8,1214.6 L1520.0,1213.8" stroke="#a40000" stroke-width="1.3" stroke-linecap="round"/>
<path d="M1380.0,1244.3 L1384.3,1244.4" stroke="#d41000" stroke-width="1.6" stroke-linecap="round"/>
<path d="M1384.3,1244.4 L1388.6,1244.5" stroke="#d41000" stroke-width="1.6" stroke-linecap="round"/>
<path d="M1388.6,1244.5 L1393.0,1244.6" stroke="#d41000" stroke-width="1.6" stroke-linecap="round"/>
<path d="M1393.0,1244.6 L1397.3,1244.7" stroke="#d41000" stroke-width="1.6" stroke-linecap="round"/>
<path d="M1397.3,1244.7 L1401.7,1244.7" stroke="#d41000" stroke-width="1.6" stroke-linecap="round"/>
<path d="M1401.7,1244.7 L1406.0,1244.8" stroke="#d41000" stroke-width="1.6" stroke-linecap="round"/>
<path d="M1406.0,1244.8 L1410.4,1244.9" stroke="#d41000" stroke-width="1.6" stroke-linecap="round"/>
<path d="M1410.4,1244.9 L1414.7,1245.0" stroke="#d41000" stroke-width="1.6" stroke-linecap="round"/>
<path d="M1414.7,1245.0 L1419.1,1245.1" stroke="#d41000" stroke-width="1.6" stroke-linecap="round"/>
<path d="M1419.1,1245.1 L1423.2,1245.4" stroke="#d10f00" stroke-width="1.6" stroke-linecap="round"/>
<path d="M1423.2,1245.4 L1427.4,1245.8" stroke="#cc0d00" stroke-width="1.6" stroke-linecap="round"/>
<path d="M1427.4,1245.8 L1431.6,1246.1" stroke="#c70c00" stroke-width="1.6" stroke-linecap="round"/>
<path d="M1431.6,1246.1 L1435.8,1246.5" stroke="#c10a00" stroke-width="1.6" stroke-linecap="round"/>
<path d="M1435.8,1246.5 L1439.9,1246.8" stroke="#bc0800" stroke-width="1.6" stroke-linecap="round"/>
<path d="M1439.9,1246.8 L1444.1,1247.2" stroke="#b70600" stroke-width="1.6" stroke-linecap="round"/>
<path d="M1444.1,1247.2 L1448.3,1247.5" stroke="#b10400" stroke-width="1.6" stroke-linecap="round"/>
<path d="M1448.3,1247.5 L1452.5,1247.9" stroke="#ac0300" stroke-width="1.6" stroke-linecap="round"/>
<path d="M1452.5,1247.9 L1456.6,1248.2" stroke="#a70100" stroke-width="1.6" stroke-linecap="round"/>
<path d="M1434.7,1259.2 L1439.0,1259.1" stroke="#d41000" stroke-width="1.6" stroke-linecap="round"/>
<path d="M1439.0,1259.1 L1443.3,1259.0" stroke="#d41000" stroke-width="1.6" stroke-linecap="round"/>
<path d="M1443.3,1259.0 L1447.5,1259.0" stroke="#d41000" stroke-width="1.6" stroke-linecap="round"/>
<path d="M1447.5,1259.0 L1451.8,1258.9" stroke="#d41000" stroke-width="1.6" stroke-linecap="round"/>
<path d="M1451.8,1258.9 L1456.1,1258.8" stroke="#d41000" stroke-width="1.6" stroke-linecap="round"/>
<path d="M1456.1,1258.8 L1460.3,1258.7" stroke="#d41000" stroke-width="1.6" stroke-linecap="round"/>
<path d="M1460.3,1258.7 L1464.6,1258.7" stroke="#d41000" stroke-width="1.6" stroke-linecap="round"/>
<path d="M1464.6,1258.7 L1468.9,1258.6" stroke="#d41000" stroke-width="1.6" stroke-linecap="round"/>
<path d="M1468.9,1258.6 L1473.1,1258.5" stroke="#d41000" stroke-width="1.6" stroke-linecap="round"/>
<path d="M1473.1,1258.5 L1477.4,1258.5" stroke="#d41000" stroke-width="1.6" stroke-linecap="round"/>
<path d="M1477.4,1258.5 L1481.7,1258.4" stroke="#d41000" stroke-width="1.6" stroke-linecap="round"/>
<path d="M1481.7,1258.4 L1485.9,1257.9" stroke="#d41000" stroke-width="1.6" stroke-linecap="round"/>
<path d="M1485.9,1257.9 L1490.2,1257.3" stroke="#d41000" stroke-width="1.6" stroke-linecap="round"/>
<path d="M1490.2,1257.3 L1494.4,1256.8" stroke="#d41000" stroke-width="1.6" stroke-linecap="round"/>
<path d="M1494.4,1256.8 L1498.7,1256.3" stroke="#d41000" stroke-width="1.6" stroke-linecap="round"/>
<path d="M1498.7,1256.3 L1503.0,1255.8" stroke="#d41000" stroke-width="1.6" stroke-linecap="round"/>
<path d="M1503.0,1255.8 L1507.2,1255.3" stroke="#d41000" stroke-width="1.6" stroke-linecap="round"/>
<path d="M1507.2,1255.3 L1511.5,1254.7" stroke="#d41000" stroke-width="1.6" stroke-linecap="round"/>
<path d="M1511.5,1254.7 L1515.7,1254.2" stroke="#d41000" stroke-width="1.6" stroke-linecap="round"/>
<path d="M1515.7,1254.2 L1520.0,1253.7" stroke="#d41000" stroke-width="1.6" stroke-linecap="round"/>
<path d="M1456.6,1280.3 L1459.1,1276.9" stroke="#f08000" stroke-width="1.4" stroke-linecap="round"/>
<path d="M1459.1,1276.9 L1461.6,1273.4" stroke="#f08000" stroke-width="1.4" stroke-linecap="round"/>
<path d="M1461.6,1273.4 L1464.1,1270.0" stroke="#f08000" stroke-width="1.4" stroke-linecap="round"/>
<path d="M1464.1,1270.0 L1466.6,1266.5" stroke="#f08000" stroke-width="1.4" stroke-linecap="round"/>
<path d="M1466.6,1266.5 L1469.1,1263.1" stroke="#f08000" stroke-width="1.4" stroke-linecap="round"/>
<path d="M1444.1,1094.1 L1447.6,1097.2" stroke="#a40000" stroke-width="1.3" stroke-linecap="round"/>
<path d="M1447.6,1097.2 L1451.1,1100.3" stroke="#a40000" stroke-width="1.3" stroke-linecap="round"/>
<path d="M1451.1,1100.3 L1454.7,1103.5" stroke="#a40000" stroke-width="1.3" stroke-linecap="round"/>
<path d="M1454.7,1103.5 L1458.2,1106.6" stroke="#a40000" stroke-width="1.3" stroke-linecap="round"/>
<path d="M1458.2,1106.6 L1462.9,1110.1" stroke="#a40000" stroke-width="1.3" stroke-linecap="round"/>
<path d="M1462.9,1110.1 L1467.6,1113.6" stroke="#a40000" stroke-width="1.3" stroke-linecap="round"/>
<path d="M1464.4,1108.2 L1468.8,1110.1" stroke="#a40000" stroke-width="1.3" stroke-linecap="round"/>
<path d="M1468.8,1110.1 L1473.1,1112.1" stroke="#a40000" stroke-width="1.3" stroke-linecap="round"/>
<path d="M1473.1,1112.1 L1477.4,1114.0" stroke="#a40000" stroke-width="1.3" stroke-linecap="round"/>
<path d="M1477.4,1114.0 L1481.7,1116.0" stroke="#a40000" stroke-width="1.3" stroke-linecap="round"/>
<path d="M1481.7,1116.0 L1486.9,1116.3" stroke="#a40000" stroke-width="1.3" stroke-linecap="round"/>
<path d="M1486.9,1116.3 L1492.1,1116.5" stroke="#a40000" stroke-width="1.3" stroke-linecap="round"/>
<path d="M1492.1,1116.5 L1497.3,1116.8" stroke="#a40000" stroke-width="1.3" stroke-linecap="round"/>
<path d="M1497.3,1116.8 L1501.1,1118.2" stroke="#a40000" stroke-width="1.3" stroke-linecap="round"/>
<path d="M1501.1,1118.2 L1504.9,1119.6" stroke="#a40000" stroke-width="1.3" stroke-linecap="round"/>
<path d="M1504.9,1119.6 L1508.7,1121.1" stroke="#a40000" stroke-width="1.3" stroke-linecap="round"/>
<path d="M1508.7,1121.1 L1512.4,1122.5" stroke="#a40000" stroke-width="1.3" stroke-linecap="round"/>
<path d="M1512.4,1122.5 L1516.2,1123.9" stroke="#a40000" stroke-width="1.3" stroke-linecap="round"/>
<path d="M1516.2,1123.9 L1520.0,1125.4" stroke="#a40000" stroke-width="1.3" stroke-linecap="round"/>
<path d="M1492.6,1095.6 L1497.2,1095.9" stroke="#d41000" stroke-width="1.3" stroke-linecap="round"/>
<path d="M1497.2,1095.9 L1501.7,1096.2" stroke="#d41000" stroke-width="1.3" stroke-linecap="round"/>
<path d="M1501.7,1096.2 L1506.3,1096.4" stroke="#d41000" stroke-width="1.3" stroke-linecap="round"/>
<path d="M1506.3,1096.4 L1510.9,1096.7" stroke="#d41000" stroke-width="1.3" stroke-linecap="round"/>
<path d="M1510.9,1096.7 L1515.4,1097.0" stroke="#d41000" stroke-width="1.3" stroke-linecap="round"/>
<path d="M1515.4,1097.0 L1520.0,1097.2" stroke="#d41000" stroke-width="1.3" stroke-linecap="round"/>
<path d="M1529.1,1060.0 L1531.7,1064.2" stroke="#d41000" stroke-width="1.3" stroke-linecap="round"/>
<path d="M1531.7,1064.2 L1534.3,1068.3" stroke="#d41000" stroke-width="1.3" stroke-linecap="round"/>
<path d="M1534.3,1068.3 L1536.9,1072.5" stroke="#d41000" stroke-width="1.3" stroke-linecap="round"/>
<path d="M1536.9,1072.5 L1539.0,1077.2" stroke="#d41000" stroke-width="1.3" stroke-linecap="round"/>
<path d="M1539.0,1077.2 L1541.1,1081.9" stroke="#d41000" stroke-width="1.3" stroke-linecap="round"/>
<path d="M1541.1,1081.9 L1543.2,1086.6" stroke="#d41000" stroke-width="1.3" stroke-linecap="round"/>
<path d="M1572.9,1060.0 L1574.8,1063.8" stroke="#d41000" stroke-width="1.3" stroke-linecap="round"/>
<path d="M1574.8,1063.8 L1576.7,1067.5" stroke="#d41000" stroke-width="1.3" stroke-linecap="round"/>
<path d="M1576.7,1067.5 L1578.6,1071.3" stroke="#d41000" stroke-width="1.3" stroke-linecap="round"/>
<path d="M1578.6,1071.3 L1580.4,1075.0" stroke="#d41000" stroke-width="1.3" stroke-linecap="round"/>
<path d="M1580.4,1075.0 L1582.3,1078.8" stroke="#d41000" stroke-width="1.3" stroke-linecap="round"/>
<path d="M1582.3,1078.8 L1582.8,1083.0" stroke="#d41000" stroke-width="1.3" stroke-linecap="round"/>
<path d="M1582.8,1083.0 L1583.4,1087.1" stroke="#d41000" stroke-width="1.3" stroke-linecap="round"/>
<path d="M1583.4,1087.1 L1583.9,1091.3" stroke="#d41000" stroke-width="1.3" stroke-linecap="round"/>
<path d="M1583.9,1091.3 L1584.4,1095.5" stroke="#d41000" stroke-width="1.3" stroke-linecap="round"/>
<path d="M1584.4,1095.5 L1584.9,1099.6" stroke="#d41000" stroke-width="1.3" stroke-linecap="round"/>
<path d="M1584.9,1099.6 L1585.5,1103.8" stroke="#d41000" stroke-width="1.3" stroke-linecap="round"/>
<path d="M1490.0,1075.6 L1493.4,1078.3" stroke="#d00f00" stroke-width="1.3" stroke-linecap="round"/>
<path d="M1493.4,1078.3 L1496.8,1080.9" stroke="#c80c00" stroke-width="1.3" stroke-linecap="round"/>
<path d="M1496.8,1080.9 L1500.2,1083.5" stroke="#c00900" stroke-width="1.3" stroke-linecap="round"/>
<path d="M1500.2,1083.5 L1503.6,1086.1" stroke="#b80700" stroke-width="1.3" stroke-linecap="round"/>
<path d="M1503.6,1086.1 L1507.0,1088.7" stroke="#b00400" stroke-width="1.3" stroke-linecap="round"/>
<path d="M1507.0,1088.7 L1510.3,1091.3" stroke="#a80100" stroke-width="1.3" stroke-linecap="round"/>
<path d="M1510.3,1091.3 L1514.3,1094.4" stroke="#a40000" stroke-width="1.3" stroke-linecap="round"/>
<path d="M1514.3,1094.4 L1518.2,1097.6" stroke="#a40000" stroke-width="1.3" stroke-linecap="round"/>
<path d="M1490.0,1096.0 L1495.2,1096.3" stroke="#d41000" stroke-width="1.3" stroke-linecap="round"/>
<path d="M1495.2,1096.3 L1500.4,1096.5" stroke="#d41000" stroke-width="1.3" stroke-linecap="round"/>
<path d="M1500.4,1096.5 L1505.6,1096.8" stroke="#d41000" stroke-width="1.3" stroke-linecap="round"/>
<path d="M1505.6,1096.8 L1510.9,1097.0" stroke="#cc0d00" stroke-width="1.3" stroke-linecap="round"/>
<path d="M1510.9,1097.0 L1516.1,1097.3" stroke="#bc0800" stroke-width="1.3" stroke-linecap="round"/>
<path d="M1516.1,1097.3 L1521.3,1097.6" stroke="#ac0300" stroke-width="1.3" stroke-linecap="round"/>
<path d="M1490.0,1117.9 L1493.9,1118.9" stroke="#a40000" stroke-width="1.3" stroke-linecap="round"/>
<path d="M1493.9,1118.9 L1497.8,1120.0" stroke="#a40000" stroke-width="1.3" stroke-linecap="round"/>
<path d="M1497.8,1120.0 L1501.7,1121.0" stroke="#a40000" stroke-width="1.3" stroke-linecap="round"/>
<path d="M1501.7,1121.0 L1505.6,1122.1" stroke="#a40000" stroke-width="1.3" stroke-linecap="round"/>
<path d="M1505.6,1122.1 L1509.6,1123.1" stroke="#a40000" stroke-width="1.3" stroke-linecap="round"/>
<path d="M1509.6,1123.1 L1513.5,1124.2" stroke="#a40000" stroke-width="1.3" stroke-linecap="round"/>
<path d="M1513.5,1124.2 L1517.5,1126.3" stroke="#a40000" stroke-width="1.3" stroke-linecap="round"/>
<path d="M1517.5,1126.3 L1521.6,1128.5" stroke="#a40000" stroke-width="1.3" stroke-linecap="round"/>
<path d="M1521.6,1128.5 L1525.7,1130.7" stroke="#a40000" stroke-width="1.3" stroke-linecap="round"/>
<path d="M1525.7,1130.7 L1529.7,1132.9" stroke="#a40000" stroke-width="1.3" stroke-linecap="round"/>
<path d="M1529.7,1132.9 L1533.8,1135.1" stroke="#a40000" stroke-width="1.3" stroke-linecap="round"/>
<path d="M1560.4,1117.9 L1563.0,1121.0" stroke="#d41000" stroke-width="1.3" stroke-linecap="round"/>
<path d="M1563.0,1121.0 L1565.6,1124.2" stroke="#d41000" stroke-width="1.3" stroke-linecap="round"/>
<path d="M1565.6,1124.2 L1568.2,1127.3" stroke="#d41000" stroke-width="1.3" stroke-linecap="round"/>
<path d="M1568.2,1127.3 L1575.3,1129.6" stroke="#d41000" stroke-width="1.3" stroke-linecap="round"/>
<path d="M1575.3,1129.6 L1576.5,1133.9" stroke="#d41000" stroke-width="1.3" stroke-linecap="round"/>
<path d="M1576.5,1133.9 L1577.6,1138.2" stroke="#d41000" stroke-width="1.3" stroke-linecap="round"/>
<path d="M1499.4,1160.1 L1503.8,1158.6" stroke="#ecc800" stroke-width="1.4" stroke-linecap="round"/>
<path d="M1503.8,1158.6 L1508.2,1157.0" stroke="#edb800" stroke-width="1.4" stroke-linecap="round"/>
<path d="M1508.2,1157.0 L1512.5,1155.5" stroke="#eea800" stroke-width="1.4" stroke-linecap="round"/>
<path d="M1512.5,1155.5 L1516.9,1153.9" stroke="#ef9800" stroke-width="1.4" stroke-linecap="round"/>
<path d="M1516.9,1153.9 L1521.3,1152.3" stroke="#f08800" stroke-width="1.4" stroke-linecap="round"/>
<path d="M1521.3,1152.3 L1525.2,1150.8" stroke="#ef7700" stroke-width="1.4" stroke-linecap="round"/>
<path d="M1525.2,1150.8 L1529.1,1149.2" stroke="#ed6500" stroke-width="1.4" stroke-linecap="round"/>
<path d="M1529.1,1149.2 L1533.0,1147.6" stroke="#eb5300" stroke-width="1.4" stroke-linecap="round"/>
<path d="M1533.0,1147.6 L1536.9,1146.1" stroke="#e94100" stroke-width="1.4" stroke-linecap="round"/>
<path d="M1518.2,1160.1 L1522.5,1159.4" stroke="#d41000" stroke-width="1.3" stroke-linecap="round"/>
<path d="M1522.5,1159.4 L1526.8,1158.6" stroke="#d41000" stroke-width="1.3" stroke-linecap="round"/>
<path d="M1526.8,1158.6 L1531.1,1157.8" stroke="#d41000" stroke-width="1.3" stroke-linecap="round"/>
<path d="M1531.1,1157.8 L1535.4,1157.0" stroke="#d41000" stroke-width="1.3" stroke-linecap="round"/>
<path d="M1535.4,1157.0 L1539.7,1156.2" stroke="#d41000" stroke-width="1.3" stroke-linecap="round"/>
<path d="M1539.7,1156.2 L1544.0,1155.5" stroke="#d41000" stroke-width="1.3" stroke-linecap="round"/>
<path d="M1544.0,1155.5 L1548.3,1154.7" stroke="#d41000" stroke-width="1.3" stroke-linecap="round"/>
<path d="M1548.3,1154.7 L1552.6,1153.9" stroke="#d41000" stroke-width="1.3" stroke-linecap="round"/>
<path d="M1552.6,1153.9 L1557.0,1152.6" stroke="#d41000" stroke-width="1.3" stroke-linecap="round"/>
<path d="M1557.0,1152.6 L1561.4,1151.4" stroke="#d41000" stroke-width="1.3" stroke-linecap="round"/>
<path d="M1561.4,1151.4 L1565.7,1150.1" stroke="#d41000" stroke-width="1.3" stroke-linecap="round"/>
<path d="M1565.7,1150.1 L1570.1,1148.9" stroke="#d41000" stroke-width="1.3" stroke-linecap="round"/>
<path d="M1570.1,1148.9 L1574.5,1147.6" stroke="#d41000" stroke-width="1.3" stroke-linecap="round"/>
<path d="M1490.0,1169.5 L1494.1,1169.1" stroke="#a40000" stroke-width="1.3" stroke-linecap="round"/>
<path d="M1494.1,1169.1 L1498.1,1168.8" stroke="#a40000" stroke-width="1.3" stroke-linecap="round"/>
<path d="M1498.1,1168.8 L1502.2,1168.4" stroke="#a40000" stroke-width="1.3" stroke-linecap="round"/>
<path d="M1502.2,1168.4 L1506.3,1168.0" stroke="#a40000" stroke-width="1.3" stroke-linecap="round"/>
<path d="M1506.3,1168.0 L1510.3,1167.6" stroke="#a40000" stroke-width="1.3" stroke-linecap="round"/>
<path d="M1510.3,1167.6 L1514.4,1167.2" stroke="#a40000" stroke-width="1.3" stroke-linecap="round"/>
<path d="M1514.4,1167.2 L1518.5,1166.8" stroke="#a40000" stroke-width="1.3" stroke-linecap="round"/>
<path d="M1518.5,1166.8 L1522.5,1166.4" stroke="#a40000" stroke-width="1.3" stroke-linecap="round"/>
<path d="M1522.5,1166.4 L1526.6,1166.0" stroke="#a40000" stroke-width="1.3" stroke-linecap="round"/>
<path d="M1526.6,1166.0 L1530.7,1165.6" stroke="#a40000" stroke-width="1.3" stroke-linecap="round"/>
<path d="M1599.5,1199.3 L1601.1,1204.0" stroke="#d41000" stroke-width="1.3" stroke-linecap="round"/>
<path d="M1601.1,1204.0 L1602.7,1208.7" stroke="#d41000" stroke-width="1.3" stroke-linecap="round"/>
<path d="M1602.7,1208.7 L1605.8,1211.8" stroke="#d41000" stroke-width="1.3" stroke-linecap="round"/>
<path d="M1605.8,1211.8 L1608.9,1214.9" stroke="#d41000" stroke-width="1.3" stroke-linecap="round"/>
<path d="M1608.9,1214.9 L1612.1,1218.0" stroke="#d41000" stroke-width="1.3" stroke-linecap="round"/>
<path d="M1612.1,1218.0 L1615.2,1221.2" stroke="#d41000" stroke-width="1.3" stroke-linecap="round"/>
<path d="M1615.2,1221.2 L1618.3,1223.7" stroke="#cf0e00" stroke-width="1.3" stroke-linecap="round"/>
<path d="M1618.3,1223.7 L1621.4,1226.2" stroke="#c60b00" stroke-width="1.3" stroke-linecap="round"/>
<path d="M1621.4,1226.2 L1624.6,1228.7" stroke="#bc0800" stroke-width="1.3" stroke-linecap="round"/>
<path d="M1624.6,1228.7 L1627.7,1231.2" stroke="#b20500" stroke-width="1.3" stroke-linecap="round"/>
<path d="M1627.7,1231.2 L1630.8,1233.7" stroke="#a90200" stroke-width="1.3" stroke-linecap="round"/>
<path d="M1551.0,1196.1 L1547.3,1198.1" stroke="#a40000" stroke-width="1.3" stroke-linecap="round"/>
<path d="M1547.3,1198.1 L1543.6,1200.0" stroke="#a40000" stroke-width="1.3" stroke-linecap="round"/>
<path d="M1543.6,1200.0 L1539.9,1202.0" stroke="#a40000" stroke-width="1.3" stroke-linecap="round"/>
<path d="M1539.9,1202.0 L1536.2,1204.0" stroke="#a40000" stroke-width="1.3" stroke-linecap="round"/>
<path d="M1536.2,1204.0 L1532.4,1205.9" stroke="#a40000" stroke-width="1.3" stroke-linecap="round"/>
<path d="M1532.4,1205.9 L1528.7,1207.9" stroke="#a40000" stroke-width="1.3" stroke-linecap="round"/>
<path d="M1528.7,1207.9 L1525.0,1209.8" stroke="#a40000" stroke-width="1.3" stroke-linecap="round"/>
<path d="M1525.0,1209.8 L1521.3,1211.8" stroke="#a40000" stroke-width="1.3" stroke-linecap="round"/>
<path d="M1521.3,1211.8 L1516.8,1212.5" stroke="#a40000" stroke-width="1.3" stroke-linecap="round"/>
<path d="M1516.8,1212.5 L1512.4,1213.1" stroke="#a40000" stroke-width="1.3" stroke-linecap="round"/>
<path d="M1512.4,1213.1 L1507.9,1213.8" stroke="#a40000" stroke-width="1.3" stroke-linecap="round"/>
<path d="M1507.9,1213.8 L1503.4,1214.5" stroke="#a40000" stroke-width="1.3" stroke-linecap="round"/>
<path d="M1503.4,1214.5 L1498.9,1215.1" stroke="#a40000" stroke-width="1.3" stroke-linecap="round"/>
<path d="M1498.9,1215.1 L1494.5,1215.8" stroke="#a40000" stroke-width="1.3" stroke-linecap="round"/>
<path d="M1494.5,1215.8 L1490.0,1216.5" stroke="#a40000" stroke-width="1.3" stroke-linecap="round"/>
<path d="M1576.1,1225.9 L1572.2,1228.2" stroke="#a40000" stroke-width="1.3" stroke-linecap="round"/>
<path d="M1572.2,1228.2 L1568.2,1230.6" stroke="#a40000" stroke-width="1.3" stroke-linecap="round"/>
<path d="M1568.2,1230.6 L1564.3,1232.9" stroke="#a40000" stroke-width="1.3" stroke-linecap="round"/>
<path d="M1564.3,1232.9 L1560.4,1235.3" stroke="#a40000" stroke-width="1.3" stroke-linecap="round"/>
<path d="M1560.4,1235.3 L1556.5,1237.6" stroke="#a40000" stroke-width="1.3" stroke-linecap="round"/>
<path d="M1556.5,1237.6 L1552.6,1240.0" stroke="#a40000" stroke-width="1.3" stroke-linecap="round"/>
<path d="M1552.6,1240.0 L1548.7,1241.1" stroke="#a40000" stroke-width="1.3" stroke-linecap="round"/>
<path d="M1548.7,1241.1 L1544.8,1242.3" stroke="#a40000" stroke-width="1.3" stroke-linecap="round"/>
<path d="M1544.8,1242.3 L1540.9,1243.5" stroke="#a40000" stroke-width="1.3" stroke-linecap="round"/>
<path d="M1540.9,1243.5 L1536.9,1244.6" stroke="#a40000" stroke-width="1.3" stroke-linecap="round"/>
<path d="M1536.9,1244.6 L1533.0,1245.8" stroke="#a40000" stroke-width="1.3" stroke-linecap="round"/>
<path d="M1533.0,1245.8 L1529.1,1247.0" stroke="#a40000" stroke-width="1.3" stroke-linecap="round"/>
<path d="M1529.1,1247.0 L1525.2,1248.2" stroke="#a40000" stroke-width="1.3" stroke-linecap="round"/>
<path d="M1525.2,1248.2 L1521.3,1249.3" stroke="#a40000" stroke-width="1.3" stroke-linecap="round"/>
<path d="M1521.3,1249.3 L1516.8,1249.6" stroke="#a40000" stroke-width="1.3" stroke-linecap="round"/>
<path d="M1516.8,1249.6 L1512.4,1249.8" stroke="#a40000" stroke-width="1.3" stroke-linecap="round"/>
<path d="M1512.4,1249.8 L1507.9,1250.0" stroke="#a40000" stroke-width="1.3" stroke-linecap="round"/>
<path d="M1507.9,1250.0 L1503.4,1250.2" stroke="#a40000" stroke-width="1.3" stroke-linecap="round"/>
<path d="M1503.4,1250.2 L1498.9,1250.5" stroke="#a40000" stroke-width="1.3" stroke-linecap="round"/>
<path d="M1498.9,1250.5 L1494.5,1250.7" stroke="#a40000" stroke-width="1.3" stroke-linecap="round"/>
<path d="M1494.5,1250.7 L1490.0,1250.9" stroke="#a40000" stroke-width="1.3" stroke-linecap="round"/>
<path d="M1555.7,1236.8 L1552.0,1239.6" stroke="#a40000" stroke-width="1.3" stroke-linecap="round"/>
<path d="M1552.0,1239.6 L1548.2,1242.5" stroke="#a40000" stroke-width="1.3" stroke-linecap="round"/>
<path d="M1548.2,1242.5 L1544.5,1245.3" stroke="#a40000" stroke-width="1.3" stroke-linecap="round"/>
<path d="M1544.5,1245.3 L1540.7,1248.1" stroke="#a40000" stroke-width="1.3" stroke-linecap="round"/>
<path d="M1540.7,1248.1 L1536.9,1250.9" stroke="#a40000" stroke-width="1.3" stroke-linecap="round"/>
<path d="M1536.9,1250.9 L1532.7,1251.6" stroke="#a40000" stroke-width="1.3" stroke-linecap="round"/>
<path d="M1532.7,1251.6 L1528.4,1252.3" stroke="#a40000" stroke-width="1.3" stroke-linecap="round"/>
<path d="M1528.4,1252.3 L1524.1,1253.0" stroke="#a40000" stroke-width="1.3" stroke-linecap="round"/>
<path d="M1524.1,1253.0 L1519.9,1253.7" stroke="#a40000" stroke-width="1.3" stroke-linecap="round"/>
<path d="M1519.9,1253.7 L1515.6,1254.5" stroke="#a40000" stroke-width="1.3" stroke-linecap="round"/>
<path d="M1515.6,1254.5 L1511.3,1255.2" stroke="#a40000" stroke-width="1.3" stroke-linecap="round"/>
<path d="M1511.3,1255.2 L1507.1,1255.9" stroke="#a40000" stroke-width="1.3" stroke-linecap="round"/>
<path d="M1507.1,1255.9 L1502.8,1256.6" stroke="#a40000" stroke-width="1.3" stroke-linecap="round"/>
<path d="M1502.8,1256.6 L1498.5,1257.3" stroke="#a40000" stroke-width="1.3" stroke-linecap="round"/>
<path d="M1498.5,1257.3 L1494.3,1258.0" stroke="#a40000" stroke-width="1.3" stroke-linecap="round"/>
<path d="M1494.3,1258.0 L1490.0,1258.7" stroke="#a40000" stroke-width="1.3" stroke-linecap="round"/>
<path d="M1579.2,1242.3 L1583.3,1243.1" stroke="#d41000" stroke-width="1.4" stroke-linecap="round"/>
<path d="M1583.3,1243.1 L1587.3,1243.9" stroke="#d41000" stroke-width="1.4" stroke-linecap="round"/>
<path d="M1587.3,1243.9 L1591.4,1244.6" stroke="#d41000" stroke-width="1.4" stroke-linecap="round"/>
<path d="M1591.4,1244.6 L1595.5,1245.4" stroke="#d41000" stroke-width="1.4" stroke-linecap="round"/>
<path d="M1595.5,1245.4 L1599.5,1246.2" stroke="#d41000" stroke-width="1.4" stroke-linecap="round"/>
<path d="M1599.5,1246.2 L1604.2,1247.2" stroke="#d41000" stroke-width="1.4" stroke-linecap="round"/>
<path d="M1604.2,1247.2 L1608.9,1248.2" stroke="#d41000" stroke-width="1.4" stroke-linecap="round"/>
<path d="M1608.9,1248.2 L1613.6,1249.1" stroke="#d41000" stroke-width="1.4" stroke-linecap="round"/>
<path d="M1613.6,1249.1 L1618.3,1250.1" stroke="#d41000" stroke-width="1.4" stroke-linecap="round"/>
<path d="M1675.4,1060.0 L1675.4,1064.7" stroke="#f08000" stroke-width="1.4" stroke-linecap="round"/>
<path d="M1668.4,1111.6 L1667.3,1116.1" stroke="#e63500" stroke-width="1.3" stroke-linecap="round"/>
<path d="M1667.3,1116.1 L1666.3,1120.5" stroke="#e32e00" stroke-width="1.3" stroke-linecap="round"/>
<path d="M1666.3,1120.5 L1665.3,1124.9" stroke="#e02700" stroke-width="1.3" stroke-linecap="round"/>
<path d="M1665.3,1124.9 L1664.2,1129.4" stroke="#dc2100" stroke-width="1.3" stroke-linecap="round"/>
<path d="M1664.2,1129.4 L1663.2,1133.8" stroke="#d91a00" stroke-width="1.3" stroke-linecap="round"/>
<path d="M1663.2,1133.8 L1662.1,1138.2" stroke="#d61300" stroke-width="1.3" stroke-linecap="round"/>
<path d="M1662.1,1138.2 L1661.0,1142.5" stroke="#d41000" stroke-width="1.3" stroke-linecap="round"/>
<path d="M1661.0,1142.5 L1659.8,1146.8" stroke="#d41000" stroke-width="1.3" stroke-linecap="round"/>
<path d="M1659.8,1146.8 L1658.6,1151.1" stroke="#d41000" stroke-width="1.3" stroke-linecap="round"/>
<path d="M1658.6,1151.1 L1657.4,1155.5" stroke="#d41000" stroke-width="1.3" stroke-linecap="round"/>
<path d="M1660.6,1160.1 L1663.4,1163.6" stroke="#f08000" stroke-width="1.4" stroke-linecap="round"/>
<path d="M1663.4,1163.6 L1666.2,1167.0" stroke="#f08000" stroke-width="1.4" stroke-linecap="round"/>
<path d="M1666.2,1167.0 L1669.0,1170.5" stroke="#f08000" stroke-width="1.4" stroke-linecap="round"/>
<path d="M1669.0,1170.5 L1671.8,1173.9" stroke="#f08000" stroke-width="1.4" stroke-linecap="round"/>
<path d="M1671.8,1173.9 L1674.6,1177.4" stroke="#f08000" stroke-width="1.4" stroke-linecap="round"/>
<path d="M1690.3,1205.5 L1685.6,1211.8" stroke="#de2400" stroke-width="1.3" stroke-linecap="round"/>
<path d="M1529.1,1188.3 L1533.3,1188.4" stroke="#a40000" stroke-width="1.3" stroke-linecap="round"/>
<path d="M1533.3,1188.4 L1537.6,1188.5" stroke="#a40000" stroke-width="1.3" stroke-linecap="round"/>
<path d="M1537.6,1188.5 L1541.8,1188.5" stroke="#a40000" stroke-width="1.3" stroke-linecap="round"/>
<path d="M1541.8,1188.5 L1546.0,1188.6" stroke="#a40000" stroke-width="1.3" stroke-linecap="round"/>
<path d="M1546.0,1188.6 L1550.2,1188.7" stroke="#a40000" stroke-width="1.3" stroke-linecap="round"/>
<path d="M1550.2,1188.7 L1554.5,1188.8" stroke="#a40000" stroke-width="1.3" stroke-linecap="round"/>
<path d="M1554.5,1188.8 L1558.7,1188.9" stroke="#a40000" stroke-width="1.3" stroke-linecap="round"/>
<path d="M1558.7,1188.9 L1562.9,1188.9" stroke="#a40000" stroke-width="1.3" stroke-linecap="round"/>
<path d="M1562.9,1188.9 L1567.1,1189.0" stroke="#a40000" stroke-width="1.3" stroke-linecap="round"/>
<path d="M1567.1,1189.0 L1571.4,1189.1" stroke="#a40000" stroke-width="1.3" stroke-linecap="round"/>
<path d="M1585.5,1146.1 L1589.0,1148.4" stroke="#d41000" stroke-width="1.3" stroke-linecap="round"/>
<path d="M1589.0,1148.4 L1592.5,1150.8" stroke="#d41000" stroke-width="1.3" stroke-linecap="round"/>
<path d="M1592.5,1150.8 L1596.0,1153.1" stroke="#d41000" stroke-width="1.3" stroke-linecap="round"/>
<path d="M1596.0,1153.1 L1599.5,1155.5" stroke="#d41000" stroke-width="1.3" stroke-linecap="round"/>
<path d="M1599.5,1155.5 L1605.8,1160.1" stroke="#d41000" stroke-width="1.3" stroke-linecap="round"/>
<path d="M1665.9,1053.1 L1666.9,1048.8" stroke="#f08000" stroke-width="1.4" stroke-linecap="round"/>
<path d="M1666.9,1048.8 L1667.8,1044.5" stroke="#f08000" stroke-width="1.4" stroke-linecap="round"/>
<path d="M1667.8,1044.5 L1668.8,1040.2" stroke="#f08000" stroke-width="1.4" stroke-linecap="round"/>
<path d="M1668.8,1040.2 L1669.7,1035.9" stroke="#f08000" stroke-width="1.4" stroke-linecap="round"/>
<polyline points="1368.2,1030.4 1401.0,1029.6" fill="none" stroke="#d41000" stroke-width="5.9"/>
<polyline points="1394.0,1158.2 1420.6,1152.3" fill="none" stroke="#a40000" stroke-width="5.9"/>
<polyline points="1419.1,1080.0 1458.2,1100.3" fill="none" stroke="#a40000" stroke-width="5.9"/>
<polyline points="1459.8,1099.6 1492.6,1091.7" fill="none" stroke="#e83800" stroke-width="5.3"/>
<polyline points="1301.7,1080.0 1359.6,1094.9" fill="none" stroke="#e83800" stroke-width="5.3"/>
<polyline points="1490.0,1161.7 1513.5,1163.6" fill="none" stroke="#a40000" stroke-width="5.9"/>
<polyline points="1490.0,1219.6 1497.8,1222.0" fill="none" stroke="#d41000" stroke-width="5.3"/>
<polyline points="1610.5,1168.0 1613.6,1177.4" fill="none" stroke="#a40000" stroke-width="4.6"/>
<polyline points="1469.9,1093.8 1493.3,1089.1" fill="none" stroke="#e83800" stroke-width="4.6"/>
<circle cx="1279.4" cy="924.5" r="2.1" fill="#3050f8"/>
<polygon points="1275.2,924.0 1279.2,926.4 1279.6,922.5" fill="#3050f8"/>
<circle cx="1309.6" cy="915.8" r="2.1" fill="#3050f8"/>
<polygon points="1305.7,915.4 1309.4,917.7 1309.8,913.8" fill="#3050f8"/>
<circle cx="1388.4" cy="934.2" r="1.6" fill="#3050f8"/>
<polygon points="1384.6,934.0 1388.3,935.7 1388.4,932.6" fill="#3050f8"/>
<circle cx="1484.3" cy="946.2" r="1.9" fill="#3050f8"/>
<polygon points="1480.0,946.0 1484.2,948.1 1484.4,944.4" fill="#3050f8"/>
<path d="M1321.3,957.2 L1341.7,956.1" stroke="#30a0ff" stroke-width="3.0" stroke-linecap="butt"/>
<polygon points="1310.4,956.8 1321.2,961.1 1321.4,953.2" fill="#30a0ff" stroke="#30a0ff" stroke-width="1.6" stroke-linejoin="round"/>
<path d="M1272.8,971.7 L1297.8,980.3" stroke="#38e8e8" stroke-width="3.3" stroke-linecap="butt"/>
<circle cx="1268.1" cy="970.3" r="3.7" fill="#38e8e8"/>
<polygon points="1261.1,968.3 1267.1,973.7 1269.1,967.0" fill="#38e8e8"/>
<path d="M1311.9,1032.7 L1349.5,1041.3" stroke="#e83800" stroke-width="5.3" stroke-linecap="butt"/>
<polygon points="1294.7,1027.3 1309.8,1039.4 1314.1,1026.0" fill="#e83800" stroke="#e83800" stroke-width="1.6" stroke-linejoin="round"/>
<path d="M1219.6,1077.8 L1244.6,1070.6" stroke="#70f890" stroke-width="3.3" stroke-linecap="butt"/>
<circle cx="1214.6" cy="1077.9" r="4.2" fill="#70f890"/>
<polygon points="1207.1,1078.1 1214.7,1081.9 1214.5,1074.0" fill="#70f890"/>
<path d="M1315.8,1081.2 L1357.3,1093.8" stroke="#e83800" stroke-width="5.3" stroke-linecap="butt"/>
<polygon points="1297.8,1074.7 1313.4,1087.9 1318.3,1074.6" fill="#e83800" stroke="#e83800" stroke-width="1.6" stroke-linejoin="round"/>
<path d="M1365.8,1034.3 L1401.0,1060.1" stroke="#d41000" stroke-width="7.2" stroke-linecap="butt"/>
<polygon points="1343.9,1017.1 1359.8,1041.9 1371.8,1026.7" fill="#d41000" stroke="#d41000" stroke-width="1.6" stroke-linejoin="round"/>
<path d="M1379.9,960.0 L1407.3,985.8" stroke="#f08000" stroke-width="5.3" stroke-linecap="butt"/>
<polygon points="1364.3,946.7 1375.6,965.0 1384.2,955.0" fill="#f08000" stroke="#f08000" stroke-width="1.6" stroke-linejoin="round"/>
<path d="M1406.5,952.2 L1437.0,972.5" stroke="#e83800" stroke-width="5.3" stroke-linecap="butt"/>
<polygon points="1390.9,939.6 1402.2,957.5 1410.8,946.8" fill="#e83800" stroke="#e83800" stroke-width="1.6" stroke-linejoin="round"/>
<path d="M1413.5,971.7 L1446.4,987.4" stroke="#d41000" stroke-width="5.9" stroke-linecap="butt"/>
<polygon points="1397.1,962.3 1410.0,978.0 1417.1,965.5" fill="#d41000" stroke="#d41000" stroke-width="1.6" stroke-linejoin="round"/>
<path d="M1411.2,929.9 L1435.5,935.7" stroke="#c0f028" stroke-width="3.9" stroke-linecap="butt"/>
<polygon points="1398.7,924.8 1409.3,934.6 1413.1,925.3" fill="#c0f028" stroke="#c0f028" stroke-width="1.6" stroke-linejoin="round"/>
<path d="M1466.7,948.7 L1487.1,960.0" stroke="#ecd000" stroke-width="4.6" stroke-linecap="butt"/>
<polygon points="1454.2,942.8 1464.5,953.5 1469.0,943.9" fill="#ecd000" stroke="#ecd000" stroke-width="1.6" stroke-linejoin="round"/>
<path d="M1559.9,971.4 L1579.4,981.9" stroke="#c0f028" stroke-width="3.9" stroke-linecap="butt"/>
<polygon points="1548.9,964.7 1557.2,975.7 1562.5,967.1" fill="#c0f028" stroke="#c0f028" stroke-width="1.6" stroke-linejoin="round"/>
<path d="M1412.0,1000.7 L1430.8,999.1" stroke="#70f890" stroke-width="3.3" stroke-linecap="butt"/>
<circle cx="1407.9" cy="1000.7" r="3.7" fill="#70f890"/>
<polygon points="1401.8,1000.7 1407.9,1004.2 1407.9,997.1" fill="#70f890"/>
<path d="M1487.1,1022.6 L1508.2,1020.2" stroke="#38e8e8" stroke-width="3.3" stroke-linecap="butt"/>
<circle cx="1482.7" cy="1022.6" r="3.7" fill="#38e8e8"/>
<polygon points="1476.1,1022.6 1482.7,1026.1 1482.7,1019.0" fill="#38e8e8"/>
<path d="M1486.3,1015.2 L1512.1,1029.6" stroke="#d41000" stroke-width="5.9" stroke-linecap="butt"/>
<polygon points="1469.9,1006.1 1482.8,1021.5 1489.8,1008.9" fill="#d41000" stroke="#d41000" stroke-width="1.6" stroke-linejoin="round"/>
<path d="M1559.9,1040.6 L1574.7,1060.9" stroke="#e83800" stroke-width="4.6" stroke-linecap="butt"/>
<polygon points="1548.1,1029.6 1555.8,1044.9 1563.9,1036.2" fill="#e83800" stroke="#e83800" stroke-width="1.6" stroke-linejoin="round"/>
<path d="M1456.6,1055.4 L1493.3,1084.4" stroke="#a40000" stroke-width="6.6" stroke-linecap="butt"/>
<polygon points="1438.6,1039.8 1450.6,1062.3 1462.5,1048.6" fill="#a40000" stroke="#a40000" stroke-width="1.6" stroke-linejoin="round"/>
<path d="M1412.8,1075.8 L1465.2,1103.2" stroke="#a40000" stroke-width="6.6" stroke-linecap="butt"/>
<polygon points="1389.3,1060.1 1407.6,1083.6 1418.0,1068.0" fill="#a40000" stroke="#a40000" stroke-width="1.6" stroke-linejoin="round"/>
<path d="M1289.2,1155.4 L1331.4,1148.1" stroke="#d41000" stroke-width="5.3" stroke-linecap="butt"/>
<polygon points="1268.9,1157.5 1289.9,1162.4 1288.5,1148.4" fill="#d41000" stroke="#d41000" stroke-width="1.6" stroke-linejoin="round"/>
<path d="M1329.1,1175.1 L1368.2,1190.3" stroke="#e83800" stroke-width="4.6" stroke-linecap="butt"/>
<polygon points="1312.7,1165.8 1326.0,1180.6 1332.2,1169.7" fill="#e83800" stroke="#e83800" stroke-width="1.6" stroke-linejoin="round"/>
<path d="M1393.3,1162.2 L1451.9,1172.3" stroke="#a40000" stroke-width="7.2" stroke-linecap="butt"/>
<polygon points="1358.0,1170.8 1395.6,1171.6 1390.9,1152.7" fill="#a40000" stroke="#a40000" stroke-width="1.6" stroke-linejoin="round"/>
<path d="M1469.9,1160.6 L1520.0,1162.2" stroke="#a40000" stroke-width="6.6" stroke-linecap="butt"/>
<circle cx="1461.5" cy="1160.4" r="7.7" fill="#a40000"/>
<polygon points="1448.8,1160.1 1461.3,1167.7 1461.6,1153.1" fill="#a40000"/>
<path d="M1501.2,1184.8 L1520.0,1186.4" stroke="#a40000" stroke-width="5.9" stroke-linecap="butt"/>
<circle cx="1493.4" cy="1184.7" r="7.1" fill="#a40000"/>
<polygon points="1481.7,1184.4 1493.2,1191.4 1493.6,1177.9" fill="#a40000"/>
<path d="M1441.8,1217.4 L1498.9,1222.4" stroke="#a40000" stroke-width="5.9" stroke-linecap="butt"/>
<polygon points="1418.3,1213.8 1440.6,1225.1 1442.9,1209.7" fill="#a40000" stroke="#a40000" stroke-width="1.6" stroke-linejoin="round"/>
<path d="M1466.8,1249.0 L1495.7,1248.7" stroke="#a40000" stroke-width="2.6" stroke-linecap="butt"/>
<polygon points="1456.6,1247.1 1466.1,1253.0 1467.5,1245.0" fill="#a40000" stroke="#a40000" stroke-width="1.6" stroke-linejoin="round"/>
<polygon points="1425.3,1258.4 1432.5,1263.0 1433.8,1256.9" fill="#d41000" stroke="#d41000" stroke-width="1.6" stroke-linejoin="round"/>
<path d="M1535.4,1108.5 L1560.4,1117.9" stroke="#a40000" stroke-width="5.9" stroke-linecap="butt"/>
<circle cx="1529.1" cy="1104.8" r="7.7" fill="#a40000"/>
<polygon points="1519.7,1099.1 1525.4,1111.0 1532.9,1098.5" fill="#a40000"/>
<path d="M1552.6,1145.3 L1585.5,1146.1" stroke="#e83800" stroke-width="5.3" stroke-linecap="butt"/>
<circle cx="1546.3" cy="1144.7" r="6.5" fill="#e83800"/>
<polygon points="1536.9,1143.7 1545.7,1150.8 1546.9,1138.5" fill="#e83800"/>
<circle cx="1613.1" cy="1162.0" r="6.2" fill="#a40000"/>
<polygon points="1604.2,1160.1 1611.9,1167.8 1614.4,1156.2" fill="#a40000"/>
<path d="M1501.0,1185.2 L1529.1,1188.3" stroke="#a40000" stroke-width="5.9" stroke-linecap="butt"/>
<circle cx="1494.7" cy="1184.6" r="7.1" fill="#a40000"/>
<polygon points="1485.3,1183.6 1494.0,1191.3 1495.4,1177.8" fill="#a40000"/>
<path d="M1672.3,1079.6 L1668.4,1111.6" stroke="#e83800" stroke-width="4.6" stroke-linecap="butt"/>
<polygon points="1675.4,1063.1 1666.1,1078.4 1678.4,1080.7" fill="#e83800" stroke="#e83800" stroke-width="1.6" stroke-linejoin="round"/>
<path d="M1683.3,1187.5 L1693.4,1205.5" stroke="#e83800" stroke-width="4.6" stroke-linecap="butt"/>
<circle cx="1680.1" cy="1183.1" r="5.6" fill="#e83800"/>
<polygon points="1675.4,1176.6 1675.8,1186.3 1684.5,1180.0" fill="#e83800"/>
<path d="M1670.0,1221.2 L1634.0,1238.4" stroke="#a40000" stroke-width="6.6" stroke-linecap="butt"/>
<circle cx="1676.2" cy="1217.1" r="8.2" fill="#a40000"/>
<polygon points="1685.6,1211.0 1672.0,1210.6 1680.4,1223.6" fill="#a40000"/>
<circle cx="1453.2" cy="1101.1" r="5.9" fill="#e83800"/>
<polygon points="1443.3,1103.5 1454.5,1106.6 1451.9,1095.6" fill="#e83800"/>
<g transform="matrix(0.9982 0 0.0053 1 -2.555 0)">
<path d="M1075.8,894.7 L1226.1,1261.4 M1084.2,894.8 L1231.5,1257.6 M1092.3,895.2 L1240.0,1258.5 M1100.4,895.6 L1248.5,1259.5 M1108.6,896.0 L1257.0,1260.4 M1116.7,896.4 L1265.5,1261.3 M1124.9,896.8 L1274.1,1262.3 M1133.0,897.2 L1282.7,1263.2 M1141.2,897.6 L1291.3,1264.2 M1149.4,898.1 L1300.0,1265.1 M1157.6,898.5 L1308.7,1266.1 M1165.9,898.9 L1317.4,1267.1 M1174.1,899.3 L1326.1,1268.0 M1182.4,899.7 L1334.9,1269.0 M1190.6,900.1 L1343.7,1269.9 M1198.9,900.5 L1352.5,1270.9 M1207.2,900.9 L1361.4,1271.9 M1215.5,901.4 L1370.3,1272.9 M1223.8,901.8 L1379.2,1273.9 M1232.2,902.2 L1388.1,1274.8 M1240.5,902.6 L1397.1,1275.8 M1248.9,903.0 L1406.1,1276.8 M1257.3,903.4 L1415.1,1277.8 M1265.7,903.9 L1424.1,1278.8 M1274.1,904.3 L1433.2,1279.8 M1282.4,904.3 L1442.3,1279.7" fill="none" stroke="#000" stroke-width="1.9" stroke-linecap="butt"/>
</g>
</g>
<g id="cb">
<rect x="899.3" y="801.2" width="32.9" height="561.8" fill="#fff"/>
<rect x="899.3" y="801.20" width="32.9" height="11.80" fill="#790000"/>
<rect x="899.3" y="815.40" width="32.9" height="11.71" fill="#860000"/>
<rect x="899.3" y="829.51" width="32.9" height="11.71" fill="#940000"/>
<rect x="899.3" y="843.62" width="32.9" height="11.71" fill="#a50400"/>
<rect x="899.3" y="857.73" width="32.9" height="11.71" fill="#b70900"/>
<rect x="899.3" y="871.84" width="32.9" height="11.71" fill="#c90f00"/>
<rect x="899.3" y="885.95" width="32.9" height="11.71" fill="#d31c00"/>
<rect x="899.3" y="900.06" width="32.9" height="11.71" fill="#dd2900"/>
<rect x="899.3" y="914.17" width="32.9" height="11.71" fill="#e53a00"/>
<rect x="899.3" y="928.28" width="32.9" height="11.71" fill="#e95400"/>
<rect x="899.3" y="942.39" width="32.9" height="11.71" fill="#ec6d00"/>
<rect x="899.3" y="956.50" width="32.9" height="11.71" fill="#ee8600"/>
<rect x="899.3" y="970.61" width="32.9" height="11.71" fill="#eda000"/>
<rect x="899.3" y="984.72" width="32.9" height="11.71" fill="#ebb800"/>
<rect x="899.3" y="998.83" width="32.9" height="11.71" fill="#e9cb02"/>
<rect x="899.3" y="1012.94" width="32.9" height="11.71" fill="#e6de04"/>
<rect x="899.3" y="1027.05" width="32.9" height="11.71" fill="#dae913"/>
<rect x="899.3" y="1041.16" width="32.9" height="11.71" fill="#cff422"/>
<rect x="899.3" y="1055.27" width="32.9" height="11.71" fill="#bdf836"/>
<rect x="899.3" y="1069.38" width="32.9" height="11.71" fill="#aafb4a"/>
<rect x="899.3" y="1083.49" width="32.9" height="11.71" fill="#96fc62"/>
<rect x="899.3" y="1097.60" width="32.9" height="11.71" fill="#82fc7e"/>
<rect x="899.3" y="1111.71" width="32.9" height="11.71" fill="#6efc9a"/>
<rect x="899.3" y="1125.82" width="32.9" height="11.71" fill="#5ffab5"/>
<rect x="899.3" y="1139.93" width="32.9" height="11.71" fill="#4ff8d0"/>
<rect x="899.3" y="1154.04" width="32.9" height="11.71" fill="#46f1e0"/>
<rect x="899.3" y="1168.15" width="32.9" height="11.71" fill="#3fe8ee"/>
<rect x="899.3" y="1182.26" width="32.9" height="11.71" fill="#39d9f8"/>
<rect x="899.3" y="1196.37" width="32.9" height="11.71" fill="#36c4fb"/>
<rect x="899.3" y="1210.48" width="32.9" height="11.71" fill="#34afff"/>
<rect x="899.3" y="1224.59" width="32.9" height="11.71" fill="#3497ff"/>
<rect x="899.3" y="1238.70" width="32.9" height="11.71" fill="#3480ff"/>
<rect x="899.3" y="1252.81" width="32.9" height="11.71" fill="#336afd"/>
<rect x="899.3" y="1266.92" width="32.9" height="11.71" fill="#3356fa"/>
<rect x="899.3" y="1281.03" width="32.9" height="11.71" fill="#3144f4"/>
<rect x="899.3" y="1295.14" width="32.9" height="11.71" fill="#2e38e5"/>
<rect x="899.3" y="1309.25" width="32.9" height="11.71" fill="#2a2dd2"/>
<rect x="899.3" y="1323.36" width="32.9" height="11.71" fill="#2625b5"/>
<rect x="899.3" y="1337.47" width="32.9" height="11.71" fill="#222098"/>
<rect x="899.3" y="1351.58" width="32.9" height="11.42" fill="#1f1d7c"/>
<path d="M899.3,807.15 h5.2 M932.2,807.15 h-5.2 M899.3,821.25 h5.2 M932.2,821.25 h-5.2 M899.3,835.37 h5.2 M932.2,835.37 h-5.2 M899.3,849.48 h5.2 M932.2,849.48 h-5.2 M899.3,863.59 h5.2 M932.2,863.59 h-5.2 M899.3,877.70 h5.2 M932.2,877.70 h-5.2 M899.3,891.81 h5.2 M932.2,891.81 h-5.2 M899.3,905.92 h5.2 M932.2,905.92 h-5.2 M899.3,920.03 h5.2 M932.2,920.03 h-5.2 M899.3,934.13 h5.2 M932.2,934.13 h-5.2 M899.3,948.25 h5.2 M932.2,948.25 h-5.2 M899.3,962.36 h5.2 M932.2,962.36 h-5.2 M899.3,976.47 h5.2 M932.2,976.47 h-5.2 M899.3,990.58 h5.2 M932.2,990.58 h-5.2 M899.3,1004.69 h5.2 M932.2,1004.69 h-5.2 M899.3,1018.80 h5.2 M932.2,1018.80 h-5.2 M899.3,1032.90 h5.2 M932.2,1032.90 h-5.2 M899.3,1047.02 h5.2 M932.2,1047.02 h-5.2 M899.3,1061.12 h5.2 M932.2,1061.12 h-5.2 M899.3,1075.24 h5.2 M932.2,1075.24 h-5.2 M899.3,1089.35 h5.2 M932.2,1089.35 h-5.2 M899.3,1103.45 h5.2 M932.2,1103.45 h-5.2 M899.3,1117.57 h5.2 M932.2,1117.57 h-5.2 M899.3,1131.67 h5.2 M932.2,1131.67 h-5.2 M899.3,1145.79 h5.2 M932.2,1145.79 h-5.2 M899.3,1159.89 h5.2 M932.2,1159.89 h-5.2 M899.3,1174.01 h5.2 M932.2,1174.01 h-5.2 M899.3,1188.12 h5.2 M932.2,1188.12 h-5.2 M899.3,1202.22 h5.2 M932.2,1202.22 h-5.2 M899.3,1216.34 h5.2 M932.2,1216.34 h-5.2 M899.3,1230.45 h5.2 M932.2,1230.45 h-5.2 M899.3,1244.56 h5.2 M932.2,1244.56 h-5.2 M899.3,1258.66 h5.2 M932.2,1258.66 h-5.2 M899.3,1272.78 h5.2 M932.2,1272.78 h-5.2 M899.3,1286.88 h5.2 M932.2,1286.88 h-5.2 M899.3,1300.99 h5.2 M932.2,1300.99 h-5.2 M899.3,1315.11 h5.2 M932.2,1315.11 h-5.2 M899.3,1329.22 h5.2 M932.2,1329.22 h-5.2 M899.3,1343.33 h5.2 M932.2,1343.33 h-5.2 M899.3,1357.43 h5.2 M932.2,1357.43 h-5.2" stroke="#000" stroke-width="1.6" fill="none"/>
<rect x="899.3" y="801.2" width="32.9" height="561.8" rx="1.6" fill="none" stroke="#000" stroke-width="1.7"/>
<text x="948.2" y="830.0" font-family="'Liberation Serif', serif" font-size="25.3">8.1</text>
<text x="948.2" y="858.2" font-family="'Liberation Serif', serif" font-size="25.3">7.68</text>
<text x="948.2" y="886.5" font-family="'Liberation Serif', serif" font-size="25.3">7.26</text>
<text x="948.2" y="914.7" font-family="'Liberation Serif', serif" font-size="25.3">6.83</text>
<text x="948.2" y="942.9" font-family="'Liberation Serif', serif" font-size="25.3">6.41</text>
<text x="948.2" y="971.1" font-family="'Liberation Serif', serif" font-size="25.3">5.99</text>
<text x="948.2" y="999.4" font-family="'Liberation Serif', serif" font-size="25.3">5.57</text>
<text x="948.2" y="1027.6" font-family="'Liberation Serif', serif" font-size="25.3">5.15</text>
<text x="948.2" y="1055.8" font-family="'Liberation Serif', serif" font-size="25.3">4.72</text>
<text x="948.2" y="1084.1" font-family="'Liberation Serif', serif" font-size="25.3">4.3</text>
<text x="948.2" y="1112.3" font-family="'Liberation Serif', serif" font-size="25.3">3.88</text>
<text x="948.2" y="1140.5" font-family="'Liberation Serif', serif" font-size="25.3">3.46</text>
<text x="948.2" y="1168.8" font-family="'Liberation Serif', serif" font-size="25.3">3.04</text>
<text x="948.2" y="1197.0" font-family="'Liberation Serif', serif" font-size="25.3">2.61</text>
<text x="948.2" y="1225.2" font-family="'Liberation Serif', serif" font-size="25.3">2.19</text>
<text x="948.2" y="1253.5" font-family="'Liberation Serif', serif" font-size="25.3">1.77</text>
<text x="948.2" y="1281.7" font-family="'Liberation Serif', serif" font-size="25.3">1.35</text>
<text x="948.2" y="1309.9" font-family="'Liberation Serif', serif" font-size="25.3">0.93</text>
<text x="948.2" y="1338.1" font-family="'Liberation Serif', serif" font-size="25.3">0.51</text>
<text x="948.2" y="1366.4" font-family="'Liberation Serif', serif" font-size="25.3">0.08</text>
<text x="930.6" y="787.6" font-family="'Liberation Serif', serif" font-size="25.3">×10<tspan dy="-9.5" font-size="16.5">3</tspan></text>
<defs><linearGradient id="cbg" x1="0" y1="0" x2="0" y2="1">
<stop offset="0.000" stop-color="#760000"/>
<stop offset="0.060" stop-color="#960000"/>
<stop offset="0.130" stop-color="#c80e00"/>
<stop offset="0.200" stop-color="#e43200"/>
<stop offset="0.270" stop-color="#ee7800"/>
<stop offset="0.330" stop-color="#ecb400"/>
<stop offset="0.385" stop-color="#e6de04"/>
<stop offset="0.440" stop-color="#cdf624"/>
<stop offset="0.500" stop-color="#a0fc54"/>
<stop offset="0.560" stop-color="#70fc96"/>
<stop offset="0.620" stop-color="#4cf8d6"/>
<stop offset="0.680" stop-color="#3ae2f6"/>
<stop offset="0.740" stop-color="#34b0ff"/>
<stop offset="0.800" stop-color="#3478ff"/>
<stop offset="0.860" stop-color="#3248f8"/>
<stop offset="0.910" stop-color="#2c30dc"/>
<stop offset="0.955" stop-color="#2422a8"/>
<stop offset="1.000" stop-color="#1e1c76"/>
</linearGradient></defs>
<rect x="1913.2" y="767.2" width="32.5" height="561.8" rx="1.6" fill="url(#cbg)" stroke="#000" stroke-width="1.9"/>
<text x="1961.6" y="801.7" font-family="'Liberation Serif', serif" font-size="25.6">45</text>
<text x="1961.6" y="861.4" font-family="'Liberation Serif', serif" font-size="25.6">40</text>
<text x="1961.6" y="921.1" font-family="'Liberation Serif', serif" font-size="25.6">35</text>
<text x="1961.6" y="980.9" font-family="'Liberation Serif', serif" font-size="25.6">30</text>
<text x="1961.6" y="1040.6" font-family="'Liberation Serif', serif" font-size="25.6">25</text>
<text x="1961.6" y="1100.3" font-family="'Liberation Serif', serif" font-size="25.6">20</text>
<text x="1961.6" y="1160.0" font-family="'Liberation Serif', serif" font-size="25.6">15</text>
<text x="1961.6" y="1219.7" font-family="'Liberation Serif', serif" font-size="25.6">10</text>
<text x="1961.6" y="1279.5" font-family="'Liberation Serif', serif" font-size="25.6">5</text>
<path d="M1913.2,793.10 h6.8 M1945.7,793.10 h-6.8 M1913.2,852.82 h6.8 M1945.7,852.82 h-6.8 M1913.2,912.54 h6.8 M1945.7,912.54 h-6.8 M1913.2,972.26 h6.8 M1945.7,972.26 h-6.8 M1913.2,1031.98 h6.8 M1945.7,1031.98 h-6.8 M1913.2,1091.70 h6.8 M1945.7,1091.70 h-6.8 M1913.2,1151.42 h6.8 M1945.7,1151.42 h-6.8 M1913.2,1211.14 h6.8 M1945.7,1211.14 h-6.8 M1913.2,1270.86 h6.8 M1945.7,1270.86 h-6.8" stroke="#000" stroke-width="1.5" fill="none"/>
</g>
<text transform="translate(50.4 159.3) scale(1.047 1)" font-family="'Liberation Serif', serif" font-weight="bold" font-size="80">(a)</text>
<text transform="translate(1083.0 135.5) scale(1.047 1)" font-family="'Liberation Serif', serif" font-weight="bold" font-size="80">(b)</text>
<text transform="translate(70.5 841.7) scale(1.047 1)" font-family="'Liberation Serif', serif" font-weight="bold" font-size="80">(c)</text>
<text transform="translate(1088.5 815.0) scale(1.047 1)" font-family="'Liberation Serif', serif" font-weight="bold" font-size="80">(d)</text>
</svg>
</body></html>
